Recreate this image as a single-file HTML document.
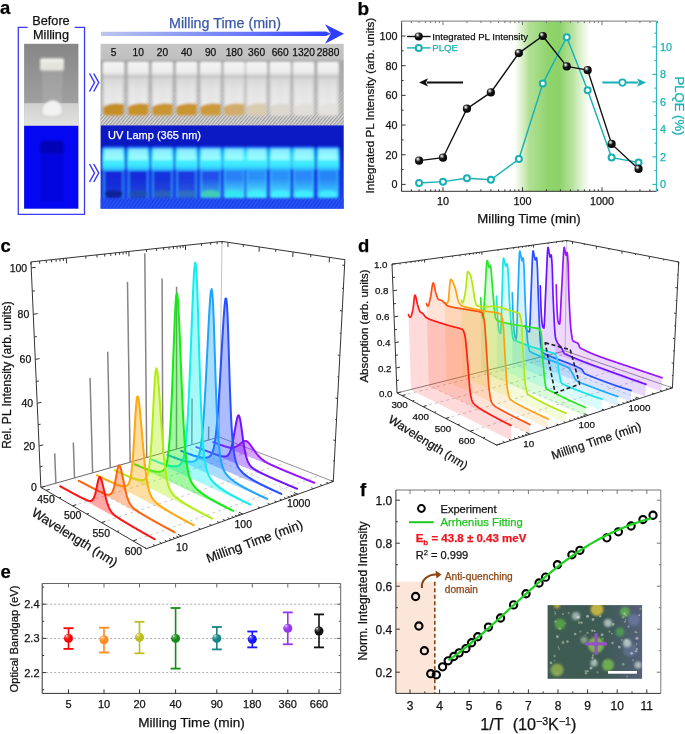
<!DOCTYPE html><html><head><meta charset="utf-8"><style>html,body{margin:0;padding:0;background:#fff;overflow:hidden;width:685px;height:734px;}svg{display:block;transform:translateZ(0);} text{stroke-width:0.25px;paint-order:stroke;}</style></head><body><svg width="685" height="734" viewBox="0 0 685 734" font-family='"Liberation Sans", sans-serif'><text x="0" y="14" font-size="18.5" text-anchor="start" fill="#000" stroke="#000" font-weight="bold">a</text>
<polyline points="27.7,27.3 18.3,27.3 18.3,214.4 84.5,214.4 84.5,27.3 74.7,27.3" fill="none" stroke="#3b3bf5" stroke-width="1.3"/>
<text x="51" y="24.87" font-size="12.7" text-anchor="middle" fill="#111" stroke="#111">Before</text>
<text x="51" y="39.17" font-size="12.7" text-anchor="middle" fill="#111" stroke="#111">Milling</text>
<polyline points="89.5,73.5 94.5,82.5 89.5,91.5" fill="none" stroke="#3b3bf5" stroke-width="1.5"/>
<polyline points="93.7,73.5 98.7,82.5 93.7,91.5" fill="none" stroke="#3b3bf5" stroke-width="1.5"/>
<polyline points="89.5,164 94.5,173 89.5,182" fill="none" stroke="#3b3bf5" stroke-width="1.5"/>
<polyline points="93.7,164 98.7,173 93.7,182" fill="none" stroke="#3b3bf5" stroke-width="1.5"/>
<defs>
<linearGradient id="bg1" x1="0" y1="0" x2="0" y2="1"><stop offset="0" stop-color="#878787"/><stop offset="1" stop-color="#a9a9a9"/></linearGradient>
<linearGradient id="tab1" x1="0" y1="0" x2="0" y2="1"><stop offset="0" stop-color="#d0d0ce"/><stop offset="1" stop-color="#e2e2e0"/></linearGradient>
<linearGradient id="arr" x1="0" y1="0" x2="1" y2="0"><stop offset="0" stop-color="#bcc6ee"/><stop offset="0.6" stop-color="#6c7cf6"/><stop offset="1" stop-color="#2f3dff"/></linearGradient>
<linearGradient id="topbg" x1="0" y1="0" x2="0" y2="1"><stop offset="0" stop-color="#c6c6c6"/><stop offset="0.18" stop-color="#c0c0c0"/><stop offset="0.22" stop-color="#a8a8a8"/><stop offset="0.8" stop-color="#b4b4b4"/><stop offset="1" stop-color="#b0b0b0"/></linearGradient>
<linearGradient id="cap" x1="0" y1="0" x2="0" y2="1"><stop offset="0" stop-color="#f6f6f6"/><stop offset="0.7" stop-color="#ececec"/><stop offset="1" stop-color="#c8c8c8"/></linearGradient>
<linearGradient id="glass" x1="0" y1="0" x2="1" y2="0"><stop offset="0" stop-color="#d4d4d4"/><stop offset="0.15" stop-color="#eeeeee"/><stop offset="0.5" stop-color="#e8e8e8"/><stop offset="0.85" stop-color="#eeeeee"/><stop offset="1" stop-color="#cccccc"/></linearGradient><linearGradient id="glassv" x1="0" y1="0" x2="0" y2="1"><stop offset="0" stop-color="#c8c8c8" stop-opacity="0.7"/><stop offset="0.35" stop-color="#d8d8d8" stop-opacity="0.3"/><stop offset="1" stop-color="#ffffff" stop-opacity="0"/></linearGradient>
<linearGradient id="uvbg" x1="0" y1="0" x2="0" y2="1"><stop offset="0" stop-color="#0c1cc4"/><stop offset="0.25" stop-color="#0a18c0"/><stop offset="0.5" stop-color="#1230e0"/><stop offset="1" stop-color="#1c40f0"/></linearGradient><linearGradient id="uvcap" x1="0" y1="0" x2="0" y2="1"><stop offset="0" stop-color="#2870ff"/><stop offset="0.18" stop-color="#30d8ff"/><stop offset="0.45" stop-color="#50f4ff"/><stop offset="0.8" stop-color="#38e4ff"/><stop offset="1" stop-color="#2aa0ff"/></linearGradient>
<pattern id="stripes" width="2.6" height="2.6" patternUnits="userSpaceOnUse" patternTransform="rotate(40)"><rect width="2.6" height="2.6" fill="#d8d8d8"/><rect width="1.1" height="2.6" fill="#9a9a9a"/></pattern>
<pattern id="stripesb" width="3" height="3" patternUnits="userSpaceOnUse" patternTransform="rotate(35)"><rect width="3" height="3" fill="#2a5cf8"/><rect width="1.3" height="3" fill="#1a3ce0"/></pattern>
<filter id="blur08"><feGaussianBlur stdDeviation="0.8"/></filter>
<filter id="blur2"><feGaussianBlur stdDeviation="2"/></filter><filter id="blur1b"><feGaussianBlur stdDeviation="1.2"/></filter>
</defs>
<rect x="24.1" y="43.8" width="54.3" height="82" fill="url(#bg1)"/>
<rect x="24.1" y="103.2" width="54.3" height="22.6" fill="url(#tab1)"/>
<g filter="url(#blur08)">
<path d="M43,71 L62,71 L62,80 Q60,90 61,100 Q63,108 63,113 Q63,117 59,117 L45,117 Q41,117 41,113 Q41,108 43,100 Q44,90 43,80 Z" fill="#b8b8b8" opacity="0.35" stroke="#d0d0d0" stroke-width="1" stroke-opacity="0.7"/>
<path d="M42.5,113 Q42,104 48,102 Q52,99 56,101 Q62,103 62,112 Q62,116 52,116 Q42.5,116 42.5,113 Z" fill="#f2f2f2"/>
<rect x="40" y="58.4" width="24" height="12.3" fill="#e4e4dc" rx="2"/>
<rect x="40" y="58.4" width="24" height="4" fill="#eeeeea" rx="2"/>
<rect x="42" y="70.5" width="20" height="1.5" fill="#a0a0a0" opacity="0.6"/>
</g>
<rect x="24.1" y="125.8" width="54.3" height="82.9" fill="#0408f2"/>
<g filter="url(#blur08)">
<rect x="40.2" y="140.8" width="23.5" height="60.5" fill="#0808c0" rx="3" opacity="0.4"/>
<rect x="40.2" y="140.8" width="23.5" height="12.7" fill="#06069a" rx="2" opacity="0.55"/>
</g>
<polygon points="101,31.7 326,31.6 330.8,33.8 326,36 101,36" fill="url(#arr)"/>
<polygon points="344,33.7 325,24.2 330.8,33.7 325,43.8" fill="#2f3dff"/>
<text x="225" y="28.35" font-size="14.3" text-anchor="middle" fill="#3a58a6" stroke="#3a58a6">Milling Time (min)</text>
<rect x="100.6" y="43.8" width="243.1" height="81.6" fill="url(#topbg)"/>
<rect x="100.6" y="92" width="243.1" height="33.4" fill="url(#stripes)" opacity="0.4"/>
<rect x="100.6" y="114" width="243.1" height="11.4" fill="url(#stripes)"/>
<g filter="url(#blur08)">
<rect x="102.9" y="76" width="21.4" height="39.5" fill="url(#glass)" rx="3" opacity="0.95"/>
<rect x="102.9" y="76" width="21.4" height="39.5" fill="url(#glassv)" rx="3"/>
<path d="M103.4,107 Q109.6,102 123.8,104 L123.8,112 Q123.8,115.5 120.6,115.5 L106.6,115.5 Q103.4,115.5 103.4,112 Z" fill="#c48e28"/>
<rect x="102.6" y="61.5" width="22" height="15.3" fill="url(#cap)" rx="2.2"/>
<rect x="102.6" y="61.5" width="22" height="15.3" fill="none" rx="2.2" stroke="#b0b0b0" stroke-width="0.6"/>
<rect x="127.5" y="76" width="21.4" height="39.5" fill="url(#glass)" rx="3" opacity="0.95"/>
<rect x="127.5" y="76" width="21.4" height="39.5" fill="url(#glassv)" rx="3"/>
<path d="M128,107 Q134.2,102 148.4,104 L148.4,112 Q148.4,115.5 145.2,115.5 L131.2,115.5 Q128,115.5 128,112 Z" fill="#c8922c"/>
<rect x="127.2" y="61.5" width="22" height="15.3" fill="url(#cap)" rx="2.2"/>
<rect x="127.2" y="61.5" width="22" height="15.3" fill="none" rx="2.2" stroke="#b0b0b0" stroke-width="0.6"/>
<rect x="151.7" y="76" width="21.4" height="39.5" fill="url(#glass)" rx="3" opacity="0.95"/>
<rect x="151.7" y="76" width="21.4" height="39.5" fill="url(#glassv)" rx="3"/>
<path d="M152.2,107 Q158.4,102 172.6,104 L172.6,112 Q172.6,115.5 169.4,115.5 L155.4,115.5 Q152.2,115.5 152.2,112 Z" fill="#c99530"/>
<rect x="151.4" y="61.5" width="22" height="15.3" fill="url(#cap)" rx="2.2"/>
<rect x="151.4" y="61.5" width="22" height="15.3" fill="none" rx="2.2" stroke="#b0b0b0" stroke-width="0.6"/>
<rect x="175.9" y="76" width="21.4" height="39.5" fill="url(#glass)" rx="3" opacity="0.95"/>
<rect x="175.9" y="76" width="21.4" height="39.5" fill="url(#glassv)" rx="3"/>
<path d="M176.4,107 Q182.6,102 196.8,104 L196.8,112 Q196.8,115.5 193.6,115.5 L179.6,115.5 Q176.4,115.5 176.4,112 Z" fill="#c9952f"/>
<rect x="175.6" y="61.5" width="22" height="15.3" fill="url(#cap)" rx="2.2"/>
<rect x="175.6" y="61.5" width="22" height="15.3" fill="none" rx="2.2" stroke="#b0b0b0" stroke-width="0.6"/>
<rect x="199.9" y="76" width="21.4" height="39.5" fill="url(#glass)" rx="3" opacity="0.95"/>
<rect x="199.9" y="76" width="21.4" height="39.5" fill="url(#glassv)" rx="3"/>
<path d="M200.4,107 Q206.6,102 220.8,104 L220.8,112 Q220.8,115.5 217.6,115.5 L203.6,115.5 Q200.4,115.5 200.4,112 Z" fill="#cc9a3a"/>
<rect x="199.6" y="61.5" width="22" height="15.3" fill="url(#cap)" rx="2.2"/>
<rect x="199.6" y="61.5" width="22" height="15.3" fill="none" rx="2.2" stroke="#b0b0b0" stroke-width="0.6"/>
<rect x="223.5" y="76" width="21.4" height="39.5" fill="url(#glass)" rx="3" opacity="0.95"/>
<rect x="223.5" y="76" width="21.4" height="39.5" fill="url(#glassv)" rx="3"/>
<path d="M224,107 Q230.2,102 244.4,104 L244.4,112 Q244.4,115.5 241.2,115.5 L227.2,115.5 Q224,115.5 224,112 Z" fill="#d2ad6a"/>
<rect x="223.2" y="61.5" width="22" height="15.3" fill="url(#cap)" rx="2.2"/>
<rect x="223.2" y="61.5" width="22" height="15.3" fill="none" rx="2.2" stroke="#b0b0b0" stroke-width="0.6"/>
<rect x="245.9" y="76" width="21.4" height="39.5" fill="url(#glass)" rx="3" opacity="0.95"/>
<rect x="245.9" y="76" width="21.4" height="39.5" fill="url(#glassv)" rx="3"/>
<path d="M246.4,107 Q252.6,102 266.8,104 L266.8,112 Q266.8,115.5 263.6,115.5 L249.6,115.5 Q246.4,115.5 246.4,112 Z" fill="#d9cbb0"/>
<rect x="245.6" y="61.5" width="22" height="15.3" fill="url(#cap)" rx="2.2"/>
<rect x="245.6" y="61.5" width="22" height="15.3" fill="none" rx="2.2" stroke="#b0b0b0" stroke-width="0.6"/>
<rect x="269.5" y="76" width="21.4" height="39.5" fill="url(#glass)" rx="3" opacity="0.95"/>
<rect x="269.5" y="76" width="21.4" height="39.5" fill="url(#glassv)" rx="3"/>
<path d="M270,107 Q276.2,102 290.4,104 L290.4,112 Q290.4,115.5 287.2,115.5 L273.2,115.5 Q270,115.5 270,112 Z" fill="#dcd8d0"/>
<rect x="269.2" y="61.5" width="22" height="15.3" fill="url(#cap)" rx="2.2"/>
<rect x="269.2" y="61.5" width="22" height="15.3" fill="none" rx="2.2" stroke="#b0b0b0" stroke-width="0.6"/>
<rect x="292.9" y="76" width="21.4" height="39.5" fill="url(#glass)" rx="3" opacity="0.95"/>
<rect x="292.9" y="76" width="21.4" height="39.5" fill="url(#glassv)" rx="3"/>
<path d="M293.4,107 Q299.6,102 313.8,104 L313.8,112 Q313.8,115.5 310.6,115.5 L296.6,115.5 Q293.4,115.5 293.4,112 Z" fill="#e0ded8"/>
<rect x="292.6" y="61.5" width="22" height="15.3" fill="url(#cap)" rx="2.2"/>
<rect x="292.6" y="61.5" width="22" height="15.3" fill="none" rx="2.2" stroke="#b0b0b0" stroke-width="0.6"/>
<rect x="317.3" y="76" width="21.4" height="39.5" fill="url(#glass)" rx="3" opacity="0.95"/>
<rect x="317.3" y="76" width="21.4" height="39.5" fill="url(#glassv)" rx="3"/>
<path d="M317.8,107 Q324,102 338.2,104 L338.2,112 Q338.2,115.5 335,115.5 L321,115.5 Q317.8,115.5 317.8,112 Z" fill="#e4e2dc"/>
<rect x="317" y="61.5" width="22" height="15.3" fill="url(#cap)" rx="2.2"/>
<rect x="317" y="61.5" width="22" height="15.3" fill="none" rx="2.2" stroke="#b0b0b0" stroke-width="0.6"/>
</g>
<text x="113.6" y="55.67" font-size="10.2" text-anchor="middle" fill="#111" stroke="#111">5</text>
<text x="138.2" y="55.67" font-size="10.2" text-anchor="middle" fill="#111" stroke="#111">10</text>
<text x="162.4" y="55.67" font-size="10.2" text-anchor="middle" fill="#111" stroke="#111">20</text>
<text x="186.6" y="55.67" font-size="10.2" text-anchor="middle" fill="#111" stroke="#111">40</text>
<text x="210.6" y="55.67" font-size="10.2" text-anchor="middle" fill="#111" stroke="#111">90</text>
<text x="234.2" y="55.67" font-size="10.2" text-anchor="middle" fill="#111" stroke="#111">180</text>
<text x="256.6" y="55.67" font-size="10.2" text-anchor="middle" fill="#111" stroke="#111">360</text>
<text x="280.2" y="55.67" font-size="10.2" text-anchor="middle" fill="#111" stroke="#111">660</text>
<text x="303.6" y="55.67" font-size="10.2" text-anchor="middle" fill="#111" stroke="#111">1320</text>
<text x="328" y="55.67" font-size="10.2" text-anchor="middle" fill="#111" stroke="#111">2880</text>
<rect x="100.6" y="125.4" width="243.1" height="83.3" fill="url(#uvbg)"/>
<rect x="100.6" y="198" width="243.1" height="10.7" fill="url(#stripesb)" opacity="0.75"/>
<g filter="url(#blur1b)">
<rect x="103.1" y="168" width="21" height="30" fill="url(#uvbody0)" rx="2"/>
<defs><linearGradient id="uvbody0" x1="0" y1="0" x2="0" y2="1"><stop offset="0" stop-color="#1428d8"/><stop offset="0.35" stop-color="#1428d8"/><stop offset="1" stop-color="#1a3ad8"/></linearGradient></defs>
<rect x="103.1" y="168" width="1.8" height="30" fill="#38c8ff" opacity="0.6"/>
<rect x="122.3" y="168" width="1.8" height="30" fill="#38c8ff" opacity="0.6"/>
<ellipse cx="113.6" cy="194" rx="9.5" ry="3.8" fill="#102090" opacity="0.9"/>
<rect x="102.1" y="146.5" width="23" height="24.5" fill="url(#uvcap)" rx="2"/>
<rect x="104.6" y="149" width="18" height="11" fill="#c8ffff" opacity="0.6"/>
<rect x="127.7" y="168" width="21" height="30" fill="url(#uvbody1)" rx="2"/>
<defs><linearGradient id="uvbody1" x1="0" y1="0" x2="0" y2="1"><stop offset="0" stop-color="#162cdc"/><stop offset="0.35" stop-color="#162cdc"/><stop offset="1" stop-color="#2048d8"/></linearGradient></defs>
<rect x="127.7" y="168" width="1.8" height="30" fill="#38c8ff" opacity="0.6"/>
<rect x="146.9" y="168" width="1.8" height="30" fill="#38c8ff" opacity="0.6"/>
<ellipse cx="138.2" cy="194" rx="9.5" ry="3.8" fill="#2050b0" opacity="0.9"/>
<rect x="126.7" y="146.5" width="23" height="24.5" fill="url(#uvcap)" rx="2"/>
<rect x="129.2" y="149" width="18" height="11" fill="#c8ffff" opacity="0.6"/>
<rect x="151.9" y="168" width="21" height="30" fill="url(#uvbody2)" rx="2"/>
<defs><linearGradient id="uvbody2" x1="0" y1="0" x2="0" y2="1"><stop offset="0" stop-color="#1830dc"/><stop offset="0.35" stop-color="#1830dc"/><stop offset="1" stop-color="#2450d8"/></linearGradient></defs>
<rect x="151.9" y="168" width="1.8" height="30" fill="#38c8ff" opacity="0.6"/>
<rect x="171.1" y="168" width="1.8" height="30" fill="#38c8ff" opacity="0.6"/>
<ellipse cx="162.4" cy="194" rx="9.5" ry="3.8" fill="#2a60b8" opacity="0.9"/>
<rect x="150.9" y="146.5" width="23" height="24.5" fill="url(#uvcap)" rx="2"/>
<rect x="153.4" y="149" width="18" height="11" fill="#c8ffff" opacity="0.6"/>
<rect x="176.1" y="168" width="21" height="30" fill="url(#uvbody3)" rx="2"/>
<defs><linearGradient id="uvbody3" x1="0" y1="0" x2="0" y2="1"><stop offset="0" stop-color="#1c38e0"/><stop offset="0.35" stop-color="#1c38e0"/><stop offset="1" stop-color="#2a60e0"/></linearGradient></defs>
<rect x="176.1" y="168" width="1.8" height="30" fill="#38c8ff" opacity="0.6"/>
<rect x="195.3" y="168" width="1.8" height="30" fill="#38c8ff" opacity="0.6"/>
<ellipse cx="186.6" cy="194" rx="9.5" ry="3.8" fill="#3070c0" opacity="0.9"/>
<rect x="175.1" y="146.5" width="23" height="24.5" fill="url(#uvcap)" rx="2"/>
<rect x="177.6" y="149" width="18" height="11" fill="#c8ffff" opacity="0.6"/>
<rect x="200.1" y="168" width="21" height="30" fill="url(#uvbody4)" rx="2"/>
<defs><linearGradient id="uvbody4" x1="0" y1="0" x2="0" y2="1"><stop offset="0" stop-color="#2250ea"/><stop offset="0.35" stop-color="#2250ea"/><stop offset="1" stop-color="#40c0e8"/></linearGradient></defs>
<rect x="200.1" y="168" width="1.8" height="30" fill="#38c8ff" opacity="0.6"/>
<rect x="219.3" y="168" width="1.8" height="30" fill="#38c8ff" opacity="0.6"/>
<ellipse cx="210.6" cy="194" rx="9.5" ry="3.8" fill="#40d0b0" opacity="0.9"/>
<rect x="199.1" y="146.5" width="23" height="24.5" fill="url(#uvcap)" rx="2"/>
<rect x="201.6" y="149" width="18" height="11" fill="#c8ffff" opacity="0.6"/>
<rect x="223.7" y="168" width="21" height="30" fill="url(#uvbody5)" rx="2"/>
<defs><linearGradient id="uvbody5" x1="0" y1="0" x2="0" y2="1"><stop offset="0" stop-color="#2a80f6"/><stop offset="0.35" stop-color="#2a80f6"/><stop offset="1" stop-color="#50f4ff"/></linearGradient></defs>
<rect x="223.7" y="168" width="1.8" height="30" fill="#38c8ff" opacity="0.6"/>
<rect x="242.9" y="168" width="1.8" height="30" fill="#38c8ff" opacity="0.6"/>
<ellipse cx="234.2" cy="194" rx="9.5" ry="3.8" fill="#30e8f0" opacity="0.9"/>
<rect x="222.7" y="146.5" width="23" height="24.5" fill="url(#uvcap)" rx="2"/>
<rect x="225.2" y="149" width="18" height="11" fill="#c8ffff" opacity="0.6"/>
<rect x="246.1" y="168" width="21" height="30" fill="url(#uvbody6)" rx="2"/>
<defs><linearGradient id="uvbody6" x1="0" y1="0" x2="0" y2="1"><stop offset="0" stop-color="#2c90f8"/><stop offset="0.35" stop-color="#2c90f8"/><stop offset="1" stop-color="#58f8ff"/></linearGradient></defs>
<rect x="246.1" y="168" width="1.8" height="30" fill="#38c8ff" opacity="0.6"/>
<rect x="265.3" y="168" width="1.8" height="30" fill="#38c8ff" opacity="0.6"/>
<ellipse cx="256.6" cy="194" rx="9.5" ry="3.8" fill="#40f0ff" opacity="0.9"/>
<rect x="245.1" y="146.5" width="23" height="24.5" fill="url(#uvcap)" rx="2"/>
<rect x="247.6" y="149" width="18" height="11" fill="#c8ffff" opacity="0.6"/>
<rect x="269.7" y="168" width="21" height="30" fill="url(#uvbody7)" rx="2"/>
<defs><linearGradient id="uvbody7" x1="0" y1="0" x2="0" y2="1"><stop offset="0" stop-color="#2c90f8"/><stop offset="0.35" stop-color="#2c90f8"/><stop offset="1" stop-color="#50f0ff"/></linearGradient></defs>
<rect x="269.7" y="168" width="1.8" height="30" fill="#38c8ff" opacity="0.6"/>
<rect x="288.9" y="168" width="1.8" height="30" fill="#38c8ff" opacity="0.6"/>
<ellipse cx="280.2" cy="194" rx="9.5" ry="3.8" fill="#40f0ff" opacity="0.9"/>
<rect x="268.7" y="146.5" width="23" height="24.5" fill="url(#uvcap)" rx="2"/>
<rect x="271.2" y="149" width="18" height="11" fill="#c8ffff" opacity="0.6"/>
<rect x="293.1" y="168" width="21" height="30" fill="url(#uvbody8)" rx="2"/>
<defs><linearGradient id="uvbody8" x1="0" y1="0" x2="0" y2="1"><stop offset="0" stop-color="#2a88f8"/><stop offset="0.35" stop-color="#2a88f8"/><stop offset="1" stop-color="#48e8ff"/></linearGradient></defs>
<rect x="293.1" y="168" width="1.8" height="30" fill="#38c8ff" opacity="0.6"/>
<rect x="312.3" y="168" width="1.8" height="30" fill="#38c8ff" opacity="0.6"/>
<ellipse cx="303.6" cy="194" rx="9.5" ry="3.8" fill="#40f0ff" opacity="0.9"/>
<rect x="292.1" y="146.5" width="23" height="24.5" fill="url(#uvcap)" rx="2"/>
<rect x="294.6" y="149" width="18" height="11" fill="#c8ffff" opacity="0.6"/>
<rect x="317.5" y="168" width="21" height="30" fill="url(#uvbody9)" rx="2"/>
<defs><linearGradient id="uvbody9" x1="0" y1="0" x2="0" y2="1"><stop offset="0" stop-color="#2884f6"/><stop offset="0.35" stop-color="#2884f6"/><stop offset="1" stop-color="#40e0ff"/></linearGradient></defs>
<rect x="317.5" y="168" width="1.8" height="30" fill="#38c8ff" opacity="0.6"/>
<rect x="336.7" y="168" width="1.8" height="30" fill="#38c8ff" opacity="0.6"/>
<ellipse cx="328" cy="194" rx="9.5" ry="3.8" fill="#40ecff" opacity="0.9"/>
<rect x="316.5" y="146.5" width="23" height="24.5" fill="url(#uvcap)" rx="2"/>
<rect x="319" y="149" width="18" height="11" fill="#c8ffff" opacity="0.6"/>
</g>
<text x="154.5" y="139.26" font-size="11" text-anchor="middle" fill="#ffffff" stroke="#ffffff">UV Lamp (365 nm)</text>
<text x="357.5" y="15" font-size="19" text-anchor="start" fill="#000" stroke="#000" font-weight="bold">b</text>
<defs><linearGradient id="gband" x1="0" x2="1" y1="0" y2="0"><stop offset="0" stop-color="#b0e090" stop-opacity="0"/><stop offset="0.1" stop-color="#b0e090" stop-opacity="0.45"/><stop offset="0.2" stop-color="#a2da82" stop-opacity="0.85"/><stop offset="0.45" stop-color="#90d46c" stop-opacity="1"/><stop offset="0.6" stop-color="#8cd268" stop-opacity="1"/><stop offset="0.78" stop-color="#a8dc8a" stop-opacity="0.8"/><stop offset="0.9" stop-color="#c0e6a8" stop-opacity="0.45"/><stop offset="1" stop-color="#c8eab0" stop-opacity="0"/></linearGradient><radialGradient id="ball" cx="0.38" cy="0.35" r="0.65" fx="0.35" fy="0.3"><stop offset="0" stop-color="#ffffff"/><stop offset="0.18" stop-color="#b0b0b0"/><stop offset="0.45" stop-color="#1a1a1a"/><stop offset="1" stop-color="#000"/></radialGradient></defs>
<rect x="514" y="21.1" width="76" height="170.2" fill="url(#gband)"/>
<line x1="401.6" y1="21.1" x2="656.4" y2="21.1" stroke="#777" stroke-width="1"/>
<line x1="401.6" y1="191.3" x2="656.4" y2="191.3" stroke="#333" stroke-width="1"/>
<line x1="401.6" y1="21.1" x2="401.6" y2="191.3" stroke="#333" stroke-width="1"/>
<line x1="656.4" y1="21.1" x2="656.4" y2="191.3" stroke="#18b0b4" stroke-width="1"/>
<line x1="401.6" y1="184.4" x2="405.6" y2="184.4" stroke="#333" stroke-width="1"/>
<text x="397.5" y="188.29" font-size="10.8" text-anchor="end" fill="#111" stroke="#111">0</text>
<line x1="401.6" y1="169.56" x2="403.6" y2="169.56" stroke="#333" stroke-width="1"/>
<line x1="401.6" y1="154.72" x2="405.6" y2="154.72" stroke="#333" stroke-width="1"/>
<text x="397.5" y="158.61" font-size="10.8" text-anchor="end" fill="#111" stroke="#111">20</text>
<line x1="401.6" y1="139.88" x2="403.6" y2="139.88" stroke="#333" stroke-width="1"/>
<line x1="401.6" y1="125.04" x2="405.6" y2="125.04" stroke="#333" stroke-width="1"/>
<text x="397.5" y="128.93" font-size="10.8" text-anchor="end" fill="#111" stroke="#111">40</text>
<line x1="401.6" y1="110.2" x2="403.6" y2="110.2" stroke="#333" stroke-width="1"/>
<line x1="401.6" y1="95.36" x2="405.6" y2="95.36" stroke="#333" stroke-width="1"/>
<text x="397.5" y="99.25" font-size="10.8" text-anchor="end" fill="#111" stroke="#111">60</text>
<line x1="401.6" y1="80.52" x2="403.6" y2="80.52" stroke="#333" stroke-width="1"/>
<line x1="401.6" y1="65.68" x2="405.6" y2="65.68" stroke="#333" stroke-width="1"/>
<text x="397.5" y="69.57" font-size="10.8" text-anchor="end" fill="#111" stroke="#111">80</text>
<line x1="401.6" y1="50.84" x2="403.6" y2="50.84" stroke="#333" stroke-width="1"/>
<line x1="401.6" y1="36" x2="405.6" y2="36" stroke="#333" stroke-width="1"/>
<text x="397.5" y="39.89" font-size="10.8" text-anchor="end" fill="#111" stroke="#111">100</text>
<line x1="652.4" y1="184.4" x2="656.4" y2="184.4" stroke="#18b0b4" stroke-width="1"/>
<text x="660" y="188.29" font-size="10.8" text-anchor="start" fill="#18b0b4" stroke="#18b0b4">0</text>
<line x1="654.4" y1="170.65" x2="656.4" y2="170.65" stroke="#18b0b4" stroke-width="1"/>
<line x1="652.4" y1="156.9" x2="656.4" y2="156.9" stroke="#18b0b4" stroke-width="1"/>
<text x="660" y="160.79" font-size="10.8" text-anchor="start" fill="#18b0b4" stroke="#18b0b4">2</text>
<line x1="654.4" y1="143.15" x2="656.4" y2="143.15" stroke="#18b0b4" stroke-width="1"/>
<line x1="652.4" y1="129.4" x2="656.4" y2="129.4" stroke="#18b0b4" stroke-width="1"/>
<text x="660" y="133.29" font-size="10.8" text-anchor="start" fill="#18b0b4" stroke="#18b0b4">4</text>
<line x1="654.4" y1="115.65" x2="656.4" y2="115.65" stroke="#18b0b4" stroke-width="1"/>
<line x1="652.4" y1="101.9" x2="656.4" y2="101.9" stroke="#18b0b4" stroke-width="1"/>
<text x="660" y="105.79" font-size="10.8" text-anchor="start" fill="#18b0b4" stroke="#18b0b4">6</text>
<line x1="654.4" y1="88.15" x2="656.4" y2="88.15" stroke="#18b0b4" stroke-width="1"/>
<line x1="652.4" y1="74.4" x2="656.4" y2="74.4" stroke="#18b0b4" stroke-width="1"/>
<text x="660" y="78.29" font-size="10.8" text-anchor="start" fill="#18b0b4" stroke="#18b0b4">8</text>
<line x1="654.4" y1="60.65" x2="656.4" y2="60.65" stroke="#18b0b4" stroke-width="1"/>
<line x1="652.4" y1="46.9" x2="656.4" y2="46.9" stroke="#18b0b4" stroke-width="1"/>
<text x="660" y="50.79" font-size="10.8" text-anchor="start" fill="#18b0b4" stroke="#18b0b4">10</text>
<line x1="654.4" y1="33.15" x2="656.4" y2="33.15" stroke="#18b0b4" stroke-width="1"/>
<line x1="401.43" y1="191.3" x2="401.43" y2="189.3" stroke="#333" stroke-width="1"/>
<line x1="401.43" y1="21.1" x2="401.43" y2="23.1" stroke="#777" stroke-width="1"/>
<line x1="411.36" y1="191.3" x2="411.36" y2="189.3" stroke="#333" stroke-width="1"/>
<line x1="411.36" y1="21.1" x2="411.36" y2="23.1" stroke="#777" stroke-width="1"/>
<line x1="419.07" y1="191.3" x2="419.07" y2="189.3" stroke="#333" stroke-width="1"/>
<line x1="419.07" y1="21.1" x2="419.07" y2="23.1" stroke="#777" stroke-width="1"/>
<line x1="425.36" y1="191.3" x2="425.36" y2="189.3" stroke="#333" stroke-width="1"/>
<line x1="425.36" y1="21.1" x2="425.36" y2="23.1" stroke="#777" stroke-width="1"/>
<line x1="430.69" y1="191.3" x2="430.69" y2="189.3" stroke="#333" stroke-width="1"/>
<line x1="430.69" y1="21.1" x2="430.69" y2="23.1" stroke="#777" stroke-width="1"/>
<line x1="435.3" y1="191.3" x2="435.3" y2="189.3" stroke="#333" stroke-width="1"/>
<line x1="435.3" y1="21.1" x2="435.3" y2="23.1" stroke="#777" stroke-width="1"/>
<line x1="439.36" y1="191.3" x2="439.36" y2="189.3" stroke="#333" stroke-width="1"/>
<line x1="439.36" y1="21.1" x2="439.36" y2="23.1" stroke="#777" stroke-width="1"/>
<line x1="443" y1="191.3" x2="443" y2="187.3" stroke="#333" stroke-width="1"/>
<line x1="443" y1="21.1" x2="443" y2="25.1" stroke="#777" stroke-width="1"/>
<text x="443" y="205.39" font-size="10.8" text-anchor="middle" fill="#111" stroke="#111">10</text>
<line x1="466.93" y1="191.3" x2="466.93" y2="189.3" stroke="#333" stroke-width="1"/>
<line x1="466.93" y1="21.1" x2="466.93" y2="23.1" stroke="#777" stroke-width="1"/>
<line x1="480.93" y1="191.3" x2="480.93" y2="189.3" stroke="#333" stroke-width="1"/>
<line x1="480.93" y1="21.1" x2="480.93" y2="23.1" stroke="#777" stroke-width="1"/>
<line x1="490.86" y1="191.3" x2="490.86" y2="189.3" stroke="#333" stroke-width="1"/>
<line x1="490.86" y1="21.1" x2="490.86" y2="23.1" stroke="#777" stroke-width="1"/>
<line x1="498.57" y1="191.3" x2="498.57" y2="189.3" stroke="#333" stroke-width="1"/>
<line x1="498.57" y1="21.1" x2="498.57" y2="23.1" stroke="#777" stroke-width="1"/>
<line x1="504.86" y1="191.3" x2="504.86" y2="189.3" stroke="#333" stroke-width="1"/>
<line x1="504.86" y1="21.1" x2="504.86" y2="23.1" stroke="#777" stroke-width="1"/>
<line x1="510.19" y1="191.3" x2="510.19" y2="189.3" stroke="#333" stroke-width="1"/>
<line x1="510.19" y1="21.1" x2="510.19" y2="23.1" stroke="#777" stroke-width="1"/>
<line x1="514.8" y1="191.3" x2="514.8" y2="189.3" stroke="#333" stroke-width="1"/>
<line x1="514.8" y1="21.1" x2="514.8" y2="23.1" stroke="#777" stroke-width="1"/>
<line x1="518.86" y1="191.3" x2="518.86" y2="189.3" stroke="#333" stroke-width="1"/>
<line x1="518.86" y1="21.1" x2="518.86" y2="23.1" stroke="#777" stroke-width="1"/>
<line x1="522.5" y1="191.3" x2="522.5" y2="187.3" stroke="#333" stroke-width="1"/>
<line x1="522.5" y1="21.1" x2="522.5" y2="25.1" stroke="#777" stroke-width="1"/>
<text x="522.5" y="205.39" font-size="10.8" text-anchor="middle" fill="#111" stroke="#111">100</text>
<line x1="546.43" y1="191.3" x2="546.43" y2="189.3" stroke="#333" stroke-width="1"/>
<line x1="546.43" y1="21.1" x2="546.43" y2="23.1" stroke="#777" stroke-width="1"/>
<line x1="560.43" y1="191.3" x2="560.43" y2="189.3" stroke="#333" stroke-width="1"/>
<line x1="560.43" y1="21.1" x2="560.43" y2="23.1" stroke="#777" stroke-width="1"/>
<line x1="570.36" y1="191.3" x2="570.36" y2="189.3" stroke="#333" stroke-width="1"/>
<line x1="570.36" y1="21.1" x2="570.36" y2="23.1" stroke="#777" stroke-width="1"/>
<line x1="578.07" y1="191.3" x2="578.07" y2="189.3" stroke="#333" stroke-width="1"/>
<line x1="578.07" y1="21.1" x2="578.07" y2="23.1" stroke="#777" stroke-width="1"/>
<line x1="584.36" y1="191.3" x2="584.36" y2="189.3" stroke="#333" stroke-width="1"/>
<line x1="584.36" y1="21.1" x2="584.36" y2="23.1" stroke="#777" stroke-width="1"/>
<line x1="589.69" y1="191.3" x2="589.69" y2="189.3" stroke="#333" stroke-width="1"/>
<line x1="589.69" y1="21.1" x2="589.69" y2="23.1" stroke="#777" stroke-width="1"/>
<line x1="594.3" y1="191.3" x2="594.3" y2="189.3" stroke="#333" stroke-width="1"/>
<line x1="594.3" y1="21.1" x2="594.3" y2="23.1" stroke="#777" stroke-width="1"/>
<line x1="598.36" y1="191.3" x2="598.36" y2="189.3" stroke="#333" stroke-width="1"/>
<line x1="598.36" y1="21.1" x2="598.36" y2="23.1" stroke="#777" stroke-width="1"/>
<line x1="602" y1="191.3" x2="602" y2="187.3" stroke="#333" stroke-width="1"/>
<line x1="602" y1="21.1" x2="602" y2="25.1" stroke="#777" stroke-width="1"/>
<text x="602" y="205.39" font-size="10.8" text-anchor="middle" fill="#111" stroke="#111">1000</text>
<line x1="625.93" y1="191.3" x2="625.93" y2="189.3" stroke="#333" stroke-width="1"/>
<line x1="625.93" y1="21.1" x2="625.93" y2="23.1" stroke="#777" stroke-width="1"/>
<line x1="639.93" y1="191.3" x2="639.93" y2="189.3" stroke="#333" stroke-width="1"/>
<line x1="639.93" y1="21.1" x2="639.93" y2="23.1" stroke="#777" stroke-width="1"/>
<line x1="649.86" y1="191.3" x2="649.86" y2="189.3" stroke="#333" stroke-width="1"/>
<line x1="649.86" y1="21.1" x2="649.86" y2="23.1" stroke="#777" stroke-width="1"/>
<line x1="657.57" y1="191.3" x2="657.57" y2="189.3" stroke="#333" stroke-width="1"/>
<line x1="657.57" y1="21.1" x2="657.57" y2="23.1" stroke="#777" stroke-width="1"/>
<text x="529" y="223.15" font-size="13.2" text-anchor="middle" fill="#111" stroke="#111">Milling Time (min)</text>
<text x="374" y="105.6" font-size="11.7" text-anchor="middle" fill="#111" stroke="#111" transform="rotate(-90 374 105.6)">Integrated PL Intensity (arb. units)</text>
<text x="675" y="106" font-size="13.1" text-anchor="middle" fill="#18b0b4" stroke="#18b0b4" transform="rotate(90 675 106)">PLQE (%)</text>
<polyline points="419.07,183.03 443,181.65 466.93,178.21 490.86,179.72 518.86,158.96 542.79,83.61 566.73,37.28 587.65,90.21 611.59,157.59 638.52,162.4" fill="none" stroke="#18b0b4" stroke-width="1.4"/>
<polyline points="419.07,160.66 443,157.69 466.93,108.72 490.86,92.39 518.86,53.07 542.79,36 566.73,66.42 587.65,70.13 611.59,143.89 638.52,168.97" fill="none" stroke="#111" stroke-width="1.4"/>
<circle cx="419.07" cy="183.03" r="3" fill="#fff" stroke="#18b0b4" stroke-width="2"/>
<circle cx="443" cy="181.65" r="3" fill="#fff" stroke="#18b0b4" stroke-width="2"/>
<circle cx="466.93" cy="178.21" r="3" fill="#fff" stroke="#18b0b4" stroke-width="2"/>
<circle cx="490.86" cy="179.72" r="3" fill="#fff" stroke="#18b0b4" stroke-width="2"/>
<circle cx="518.86" cy="158.96" r="3" fill="#fff" stroke="#18b0b4" stroke-width="2"/>
<circle cx="542.79" cy="83.61" r="3" fill="#fff" stroke="#18b0b4" stroke-width="2"/>
<circle cx="566.73" cy="37.28" r="3" fill="#fff" stroke="#18b0b4" stroke-width="2"/>
<circle cx="587.65" cy="90.21" r="3" fill="#fff" stroke="#18b0b4" stroke-width="2"/>
<circle cx="611.59" cy="157.59" r="3" fill="#fff" stroke="#18b0b4" stroke-width="2"/>
<circle cx="638.52" cy="162.4" r="3" fill="#fff" stroke="#18b0b4" stroke-width="2"/>
<circle cx="419.07" cy="160.66" r="4.1" fill="url(#ball)" stroke="none" stroke-width="1"/>
<circle cx="443" cy="157.69" r="4.1" fill="url(#ball)" stroke="none" stroke-width="1"/>
<circle cx="466.93" cy="108.72" r="4.1" fill="url(#ball)" stroke="none" stroke-width="1"/>
<circle cx="490.86" cy="92.39" r="4.1" fill="url(#ball)" stroke="none" stroke-width="1"/>
<circle cx="518.86" cy="53.07" r="4.1" fill="url(#ball)" stroke="none" stroke-width="1"/>
<circle cx="542.79" cy="36" r="4.1" fill="url(#ball)" stroke="none" stroke-width="1"/>
<circle cx="566.73" cy="66.42" r="4.1" fill="url(#ball)" stroke="none" stroke-width="1"/>
<circle cx="587.65" cy="70.13" r="4.1" fill="url(#ball)" stroke="none" stroke-width="1"/>
<circle cx="611.59" cy="143.89" r="4.1" fill="url(#ball)" stroke="none" stroke-width="1"/>
<circle cx="638.52" cy="168.97" r="4.1" fill="url(#ball)" stroke="none" stroke-width="1"/>
<line x1="407" y1="36.5" x2="430.6" y2="36.5" stroke="#111" stroke-width="1.4"/>
<circle cx="418.7" cy="36.5" r="4.1" fill="url(#ball)" stroke="none" stroke-width="1"/>
<text x="432.3" y="39.96" font-size="9.6" text-anchor="start" fill="#111" stroke="#111">Integrated PL Intensity</text>
<line x1="407" y1="47.9" x2="430.6" y2="47.9" stroke="#18b0b4" stroke-width="1.4"/>
<circle cx="418.7" cy="47.9" r="3" fill="#fff" stroke="#18b0b4" stroke-width="2"/>
<text x="432.3" y="51.36" font-size="9.6" text-anchor="start" fill="#18b0b4" stroke="#18b0b4">PLQE</text>
<line x1="427" y1="82.4" x2="463" y2="82.4" stroke="#111" stroke-width="2"/>
<polygon points="419,82.4 428,78.2 426,82.4 428,86.6" fill="#111"/>
<line x1="602.3" y1="82.6" x2="638" y2="82.6" stroke="#18b0b4" stroke-width="2"/>
<polygon points="646,82.6 637,78.4 639,82.6 637,86.8" fill="#18b0b4"/>
<circle cx="622.4" cy="82.6" r="3.2" fill="#fff" stroke="#18b0b4" stroke-width="1.8"/>
<text x="0.5" y="252" font-size="18.5" text-anchor="start" fill="#000" stroke="#000" font-weight="bold">c</text>
<line x1="40.9" y1="487.44" x2="219.2" y2="437" stroke="#666" stroke-width="1"/>
<line x1="219.2" y1="437" x2="333.28" y2="481.52" stroke="#777" stroke-width="0.8"/>
<line x1="222.04" y1="241.43" x2="219.2" y2="437" stroke="#999" stroke-width="0.6"/>
<line x1="72.58" y1="505.82" x2="253.96" y2="450.56" stroke="#bbb" stroke-width="0.8" stroke-dasharray="3,3"/>
<line x1="101.51" y1="522.61" x2="285.3" y2="462.79" stroke="#bbb" stroke-width="0.8" stroke-dasharray="3,3"/>
<line x1="133.08" y1="540.93" x2="319.04" y2="475.97" stroke="#bbb" stroke-width="0.8" stroke-dasharray="3,3"/>
<line x1="73.63" y1="478.18" x2="181.45" y2="536.17" stroke="#ccc" stroke-width="0.8" stroke-dasharray="3,3"/>
<line x1="131.8" y1="461.72" x2="242.81" y2="514.09" stroke="#ccc" stroke-width="0.8" stroke-dasharray="3,3"/>
<line x1="184.84" y1="446.72" x2="297.94" y2="494.24" stroke="#ccc" stroke-width="0.8" stroke-dasharray="3,3"/>
<line x1="55.89" y1="483.45" x2="54.71" y2="453.35" stroke="#858585" stroke-width="1.5"/>
<line x1="74.53" y1="478.18" x2="73.35" y2="442.54" stroke="#858585" stroke-width="1.5"/>
<line x1="92.63" y1="473.06" x2="90.04" y2="377.88" stroke="#858585" stroke-width="1.5"/>
<line x1="110.21" y1="468.09" x2="107.72" y2="351.8" stroke="#858585" stroke-width="1.5"/>
<line x1="130.16" y1="462.44" x2="127.49" y2="281.76" stroke="#858585" stroke-width="1.5"/>
<line x1="146.7" y1="457.76" x2="144.79" y2="253.28" stroke="#858585" stroke-width="1.5"/>
<line x1="162.8" y1="453.21" x2="162.08" y2="278.45" stroke="#858585" stroke-width="1.5"/>
<line x1="176.52" y1="449.33" x2="176.58" y2="286.84" stroke="#858585" stroke-width="1.5"/>
<line x1="191.81" y1="445" x2="192.06" y2="398.43" stroke="#858585" stroke-width="1.5"/>
<line x1="208.56" y1="440.26" x2="208.71" y2="426.44" stroke="#858585" stroke-width="1.5"/>
<polygon points="213.23,442.17 213.88,442.42 214.53,442.66 215.18,442.91 215.82,443.15 216.48,443.4 217.13,443.64 217.78,443.88 218.43,444.12 219.09,444.36 219.75,444.6 220.4,444.84 221.06,445.07 221.72,445.3 222.38,445.53 223.04,445.76 223.71,445.98 224.37,446.2 225.04,446.41 225.7,446.61 226.37,446.8 227.04,446.98 227.71,447.15 228.38,447.3 229.06,447.43 229.73,447.53 230.41,447.61 231.09,447.65 231.77,447.66 232.45,447.63 233.14,447.55 233.82,447.42 234.51,447.23 235.2,447 235.9,446.7 236.6,446.35 237.3,445.94 238,445.48 238.7,444.98 239.41,444.44 240.12,443.87 240.83,443.3 241.54,442.74 242.25,442.2 242.96,441.73 243.68,441.35 244.39,441.08 245.1,440.96 245.8,441.02 246.51,441.26 247.21,441.65 247.91,442.17 248.6,442.82 249.3,443.58 249.99,444.43 250.69,445.34 251.38,446.31 252.07,447.31 252.77,448.32 253.46,449.34 254.16,450.35 254.86,451.34 255.55,452.3 256.25,453.23 256.96,454.12 257.66,454.98 258.37,455.79 259.08,456.56 259.79,457.29 260.5,457.98 261.21,458.62 261.93,459.23 262.65,459.8 263.37,460.35 264.1,460.86 264.82,461.34 265.55,461.8 266.28,462.24 267.01,462.66 267.74,463.07 268.48,463.46 269.21,463.84 269.95,464.21 270.69,464.57 271.43,464.92 272.17,465.27 272.91,465.61 273.66,465.95 274.4,466.28 275.15,466.62 275.9,466.95 276.65,467.27 277.4,467.6 278.16,467.93 278.91,468.25 279.67,468.57 280.42,468.89 281.18,469.22 281.94,469.54 282.7,469.86 283.46,470.18 284.23,470.5 284.99,470.82 285.76,471.14 286.53,471.46 287.3,471.78 288.07,472.1 288.84,472.41 289.61,472.73 290.39,473.05 291.16,473.37 291.94,473.69 292.72,474.01 293.5,474.33 294.28,474.65 295.07,474.97 295.85,475.3 296.64,475.62 297.42,475.94 298.21,476.26 299,476.58 299.79,476.9 300.59,477.23 301.38,477.55 302.18,477.87 302.97,478.2 303.77,478.52 304.57,478.85 305.37,479.17 306.18,479.5 306.98,479.82 307.79,480.15 308.59,480.48 309.4,480.8 310.21,481.13 311.02,481.46 311.84,481.79 312.65,482.12 313.47,482.45 314.28,482.78 314.28,482.92 313.46,482.59 312.64,482.26 311.83,481.94 311.02,481.61 310.2,481.29 309.39,480.96 308.59,480.64 307.78,480.32 306.97,479.99 306.17,479.67 305.37,479.35 304.56,479.03 303.76,478.71 302.96,478.39 302.17,478.07 301.37,477.75 300.58,477.44 299.78,477.12 298.99,476.8 298.2,476.49 297.41,476.17 296.63,475.86 295.84,475.54 295.06,475.23 294.27,474.91 293.49,474.6 292.71,474.29 291.93,473.98 291.15,473.67 290.38,473.36 289.6,473.05 288.83,472.74 288.06,472.43 287.28,472.12 286.52,471.81 285.75,471.5 284.98,471.2 284.21,470.89 283.45,470.58 282.69,470.28 281.93,469.97 281.17,469.67 280.41,469.37 279.65,469.06 278.89,468.76 278.14,468.46 277.38,468.16 276.63,467.86 275.88,467.56 275.13,467.26 274.38,466.96 273.64,466.66 272.89,466.36 272.15,466.06 271.4,465.76 270.66,465.47 269.92,465.17 269.18,464.88 268.44,464.58 267.7,464.29 266.97,463.99 266.23,463.7 265.5,463.4 264.77,463.11 264.04,462.82 263.31,462.53 262.58,462.24 261.85,461.94 261.13,461.65 260.4,461.36 259.68,461.08 258.96,460.79 258.24,460.5 257.52,460.21 256.8,459.92 256.08,459.64 255.37,459.35 254.65,459.06 253.94,458.78 253.23,458.49 252.52,458.21 251.81,457.92 251.1,457.64 250.39,457.36 249.68,457.08 248.98,456.79 248.27,456.51 247.57,456.23 246.87,455.95 246.17,455.67 245.47,455.39 244.77,455.11 244.08,454.83 243.38,454.55 242.69,454.28 241.99,454 241.3,453.72 240.61,453.45 239.92,453.17 239.23,452.89 238.54,452.62 237.86,452.34 237.17,452.07 236.49,451.8 235.8,451.52 235.12,451.25 234.44,450.98 233.76,450.71 233.08,450.43 232.4,450.16 231.73,449.89 231.05,449.62 230.38,449.35 229.7,449.08 229.03,448.81 228.36,448.55 227.69,448.28 227.02,448.01 226.36,447.74 225.69,447.48 225.02,447.21 224.36,446.94 223.7,446.68 223.03,446.41 222.37,446.15 221.71,445.89 221.05,445.62 220.4,445.36 219.74,445.1 219.08,444.83 218.43,444.57 217.77,444.31 217.12,444.05 216.47,443.79 215.82,443.53 215.17,443.27 214.52,443.01 213.87,442.75 213.23,442.49" fill="#9614ff" fill-opacity="0.38"/>
<polyline points="213.23,442.17 213.88,442.42 214.53,442.66 215.18,442.91 215.82,443.15 216.48,443.4 217.13,443.64 217.78,443.88 218.43,444.12 219.09,444.36 219.75,444.6 220.4,444.84 221.06,445.07 221.72,445.3 222.38,445.53 223.04,445.76 223.71,445.98 224.37,446.2 225.04,446.41 225.7,446.61 226.37,446.8 227.04,446.98 227.71,447.15 228.38,447.3 229.06,447.43 229.73,447.53 230.41,447.61 231.09,447.65 231.77,447.66 232.45,447.63 233.14,447.55 233.82,447.42 234.51,447.23 235.2,447 235.9,446.7 236.6,446.35 237.3,445.94 238,445.48 238.7,444.98 239.41,444.44 240.12,443.87 240.83,443.3 241.54,442.74 242.25,442.2 242.96,441.73 243.68,441.35 244.39,441.08 245.1,440.96 245.8,441.02 246.51,441.26 247.21,441.65 247.91,442.17 248.6,442.82 249.3,443.58 249.99,444.43 250.69,445.34 251.38,446.31 252.07,447.31 252.77,448.32 253.46,449.34 254.16,450.35 254.86,451.34 255.55,452.3 256.25,453.23 256.96,454.12 257.66,454.98 258.37,455.79 259.08,456.56 259.79,457.29 260.5,457.98 261.21,458.62 261.93,459.23 262.65,459.8 263.37,460.35 264.1,460.86 264.82,461.34 265.55,461.8 266.28,462.24 267.01,462.66 267.74,463.07 268.48,463.46 269.21,463.84 269.95,464.21 270.69,464.57 271.43,464.92 272.17,465.27 272.91,465.61 273.66,465.95 274.4,466.28 275.15,466.62 275.9,466.95 276.65,467.27 277.4,467.6 278.16,467.93 278.91,468.25 279.67,468.57 280.42,468.89 281.18,469.22 281.94,469.54 282.7,469.86 283.46,470.18 284.23,470.5 284.99,470.82 285.76,471.14 286.53,471.46 287.3,471.78 288.07,472.1 288.84,472.41 289.61,472.73 290.39,473.05 291.16,473.37 291.94,473.69 292.72,474.01 293.5,474.33 294.28,474.65 295.07,474.97 295.85,475.3 296.64,475.62 297.42,475.94 298.21,476.26 299,476.58 299.79,476.9 300.59,477.23 301.38,477.55 302.18,477.87 302.97,478.2 303.77,478.52 304.57,478.85 305.37,479.17 306.18,479.5 306.98,479.82 307.79,480.15 308.59,480.48 309.4,480.8 310.21,481.13 311.02,481.46 311.84,481.79 312.65,482.12 313.47,482.45 314.28,482.78" fill="none" stroke="#9614ff" stroke-width="2" stroke-linejoin="round" stroke-linecap="round"/>
<polygon points="196.45,447.06 197.1,447.32 197.74,447.58 198.38,447.83 199.03,448.09 199.68,448.35 200.32,448.61 200.97,448.87 201.62,449.13 202.27,449.38 202.93,449.64 203.58,449.9 204.23,450.15 204.89,450.41 205.54,450.67 206.2,450.92 206.86,451.18 207.52,451.43 208.18,451.68 208.84,451.93 209.51,452.18 210.17,452.43 210.84,452.68 211.5,452.93 212.17,453.17 212.84,453.41 213.51,453.65 214.18,453.89 214.85,454.12 215.53,454.35 216.2,454.58 216.88,454.8 217.55,455.01 218.23,455.22 218.91,455.42 219.59,455.61 220.28,455.8 220.96,455.97 221.65,456.13 222.33,456.27 223.02,456.38 223.71,456.47 224.4,456.51 225.1,456.5 225.79,456.41 226.49,456.21 227.2,455.86 227.91,455.3 228.62,454.46 229.35,453.28 230.08,451.67 230.82,449.57 231.58,446.9 232.35,443.64 233.14,439.82 233.93,435.51 234.74,430.86 235.55,426.14 236.36,421.72 237.16,418.1 237.93,415.82 238.67,415.3 239.37,416.46 240.05,418.99 240.7,422.59 241.34,426.89 241.97,431.54 242.6,436.26 243.23,440.81 243.87,445.06 244.51,448.92 245.17,452.33 245.83,455.28 246.51,457.8 247.2,459.91 247.89,461.67 248.59,463.12 249.3,464.33 250.02,465.34 250.74,466.2 251.46,466.94 252.19,467.59 252.92,468.18 253.65,468.71 254.38,469.21 255.12,469.68 255.86,470.14 256.6,470.57 257.34,470.99 258.08,471.4 258.83,471.8 259.57,472.19 260.32,472.58 261.07,472.96 261.82,473.33 262.57,473.7 263.33,474.07 264.08,474.43 264.84,474.79 265.6,475.15 266.36,475.5 267.12,475.85 267.88,476.2 268.64,476.55 269.41,476.9 270.17,477.24 270.94,477.59 271.71,477.93 272.48,478.27 273.25,478.62 274.02,478.96 274.8,479.3 275.58,479.64 276.35,479.98 277.13,480.32 277.91,480.65 278.69,480.99 279.48,481.33 280.26,481.67 281.05,482.01 281.84,482.35 282.62,482.69 283.42,483.02 284.21,483.36 285,483.7 285.8,484.04 286.59,484.38 287.39,484.72 288.19,485.06 288.99,485.4 289.79,485.74 290.59,486.08 291.4,486.42 292.21,486.76 293.01,487.1 293.82,487.44 294.63,487.79 295.45,488.13 296.26,488.47 297.08,488.81 297.07,489.02 296.25,488.68 295.44,488.34 294.63,488.01 293.81,487.67 293,487.33 292.2,487 291.39,486.66 290.58,486.33 289.78,486 288.98,485.66 288.18,485.33 287.38,485 286.58,484.67 285.78,484.34 284.99,484.01 284.2,483.68 283.4,483.35 282.61,483.02 281.82,482.7 281.04,482.37 280.25,482.04 279.46,481.72 278.68,481.39 277.9,481.07 277.12,480.75 276.34,480.42 275.56,480.1 274.78,479.78 274.01,479.46 273.23,479.14 272.46,478.82 271.69,478.5 270.92,478.18 270.15,477.86 269.39,477.54 268.62,477.22 267.86,476.91 267.09,476.59 266.33,476.27 265.57,475.96 264.81,475.64 264.06,475.33 263.3,475.02 262.54,474.7 261.79,474.39 261.04,474.08 260.29,473.77 259.54,473.46 258.79,473.15 258.04,472.84 257.3,472.53 256.55,472.22 255.81,471.91 255.07,471.6 254.33,471.3 253.59,470.99 252.85,470.68 252.12,470.38 251.38,470.07 250.65,469.77 249.91,469.47 249.18,469.16 248.45,468.86 247.72,468.56 247,468.26 246.27,467.95 245.55,467.65 244.82,467.35 244.1,467.05 243.38,466.75 242.66,466.46 241.94,466.16 241.22,465.86 240.51,465.56 239.79,465.27 239.08,464.97 238.36,464.68 237.65,464.38 236.94,464.09 236.23,463.79 235.53,463.5 234.82,463.21 234.11,462.91 233.41,462.62 232.71,462.33 232.01,462.04 231.3,461.75 230.61,461.46 229.91,461.17 229.21,460.88 228.51,460.59 227.82,460.3 227.13,460.02 226.43,459.73 225.74,459.44 225.05,459.16 224.36,458.87 223.68,458.58 222.99,458.3 222.31,458.02 221.62,457.73 220.94,457.45 220.26,457.17 219.58,456.88 218.9,456.6 218.22,456.32 217.54,456.04 216.86,455.76 216.19,455.48 215.52,455.2 214.84,454.92 214.17,454.64 213.5,454.36 212.83,454.09 212.16,453.81 211.5,453.53 210.83,453.26 210.16,452.98 209.5,452.71 208.84,452.43 208.18,452.16 207.52,451.88 206.86,451.61 206.2,451.34 205.54,451.06 204.88,450.79 204.23,450.52 203.58,450.25 202.92,449.98 202.27,449.71 201.62,449.44 200.97,449.17 200.32,448.9 199.67,448.63 199.03,448.36 198.38,448.1 197.74,447.83 197.09,447.56 196.45,447.29" fill="#7014ff" fill-opacity="0.38"/>
<polyline points="196.45,447.06 197.1,447.32 197.74,447.58 198.38,447.83 199.03,448.09 199.68,448.35 200.32,448.61 200.97,448.87 201.62,449.13 202.27,449.38 202.93,449.64 203.58,449.9 204.23,450.15 204.89,450.41 205.54,450.67 206.2,450.92 206.86,451.18 207.52,451.43 208.18,451.68 208.84,451.93 209.51,452.18 210.17,452.43 210.84,452.68 211.5,452.93 212.17,453.17 212.84,453.41 213.51,453.65 214.18,453.89 214.85,454.12 215.53,454.35 216.2,454.58 216.88,454.8 217.55,455.01 218.23,455.22 218.91,455.42 219.59,455.61 220.28,455.8 220.96,455.97 221.65,456.13 222.33,456.27 223.02,456.38 223.71,456.47 224.4,456.51 225.1,456.5 225.79,456.41 226.49,456.21 227.2,455.86 227.91,455.3 228.62,454.46 229.35,453.28 230.08,451.67 230.82,449.57 231.58,446.9 232.35,443.64 233.14,439.82 233.93,435.51 234.74,430.86 235.55,426.14 236.36,421.72 237.16,418.1 237.93,415.82 238.67,415.3 239.37,416.46 240.05,418.99 240.7,422.59 241.34,426.89 241.97,431.54 242.6,436.26 243.23,440.81 243.87,445.06 244.51,448.92 245.17,452.33 245.83,455.28 246.51,457.8 247.2,459.91 247.89,461.67 248.59,463.12 249.3,464.33 250.02,465.34 250.74,466.2 251.46,466.94 252.19,467.59 252.92,468.18 253.65,468.71 254.38,469.21 255.12,469.68 255.86,470.14 256.6,470.57 257.34,470.99 258.08,471.4 258.83,471.8 259.57,472.19 260.32,472.58 261.07,472.96 261.82,473.33 262.57,473.7 263.33,474.07 264.08,474.43 264.84,474.79 265.6,475.15 266.36,475.5 267.12,475.85 267.88,476.2 268.64,476.55 269.41,476.9 270.17,477.24 270.94,477.59 271.71,477.93 272.48,478.27 273.25,478.62 274.02,478.96 274.8,479.3 275.58,479.64 276.35,479.98 277.13,480.32 277.91,480.65 278.69,480.99 279.48,481.33 280.26,481.67 281.05,482.01 281.84,482.35 282.62,482.69 283.42,483.02 284.21,483.36 285,483.7 285.8,484.04 286.59,484.38 287.39,484.72 288.19,485.06 288.99,485.4 289.79,485.74 290.59,486.08 291.4,486.42 292.21,486.76 293.01,487.1 293.82,487.44 294.63,487.79 295.45,488.13 296.26,488.47 297.08,488.81" fill="none" stroke="#7014ff" stroke-width="2" stroke-linejoin="round" stroke-linecap="round"/>
<polygon points="181.12,450.93 181.76,451.18 182.4,451.43 183.04,451.68 183.68,451.92 184.32,452.17 184.97,452.41 185.61,452.65 186.26,452.89 186.91,453.13 187.55,453.37 188.2,453.61 188.85,453.84 189.51,454.07 190.16,454.3 190.81,454.53 191.47,454.75 192.12,454.97 192.78,455.19 193.44,455.4 194.1,455.61 194.76,455.82 195.42,456.01 196.09,456.21 196.75,456.39 197.42,456.57 198.08,456.74 198.75,456.91 199.42,457.06 200.09,457.2 200.76,457.33 201.44,457.44 202.11,457.54 202.79,457.62 203.46,457.68 204.14,457.71 204.82,457.72 205.51,457.7 206.19,457.64 206.88,457.53 207.56,457.37 208.25,457.15 208.95,456.83 209.64,456.4 210.34,455.81 211.04,454.99 211.75,453.86 212.47,452.3 213.19,450.14 213.93,447.18 214.68,443.18 215.46,437.86 216.26,430.95 217.09,422.2 217.95,411.42 218.85,398.55 219.79,383.69 220.75,367.2 221.74,349.75 222.74,332.43 223.73,316.8 224.66,304.81 225.51,298.4 226.26,298.6 226.93,304.31 227.51,314.56 228.04,328.05 228.53,343.41 229.01,359.42 229.48,375.17 229.96,390.01 230.46,403.53 230.99,415.51 231.54,425.87 232.11,434.63 232.72,441.9 233.34,447.84 233.99,452.65 234.65,456.5 235.33,459.57 236.02,462.04 236.72,464.04 237.43,465.69 238.14,467.07 238.86,468.25 239.59,469.29 240.31,470.21 241.04,471.05 241.78,471.83 242.51,472.55 243.25,473.23 243.99,473.88 244.73,474.49 245.47,475.08 246.22,475.64 246.96,476.18 247.71,476.71 248.46,477.22 249.21,477.72 249.96,478.2 250.72,478.67 251.47,479.13 252.23,479.59 252.99,480.03 253.75,480.47 254.51,480.9 255.28,481.32 256.04,481.74 256.81,482.16 257.57,482.57 258.34,482.97 259.12,483.37 259.89,483.77 260.66,484.16 261.44,484.56 262.21,484.95 262.99,485.33 263.77,485.72 264.55,486.1 265.34,486.48 266.12,486.86 266.91,487.24 267.69,487.61 268.48,487.99 269.27,488.36 270.06,488.74 270.86,489.11 271.65,489.48 272.45,489.85 273.25,490.22 274.05,490.59 274.85,490.96 275.65,491.33 276.45,491.69 277.26,492.06 278.06,492.43 278.87,492.8 279.68,493.16 280.49,493.53 281.31,493.9 281.28,494.62 280.47,494.27 279.66,493.92 278.85,493.57 278.04,493.23 277.23,492.88 276.42,492.53 275.62,492.19 274.82,491.85 274.02,491.5 273.22,491.16 272.42,490.82 271.62,490.48 270.82,490.13 270.03,489.79 269.24,489.45 268.45,489.12 267.66,488.78 266.87,488.44 266.08,488.1 265.3,487.77 264.51,487.43 263.73,487.09 262.95,486.76 262.17,486.43 261.39,486.09 260.62,485.76 259.84,485.43 259.07,485.1 258.29,484.76 257.52,484.43 256.75,484.1 255.99,483.77 255.22,483.45 254.45,483.12 253.69,482.79 252.93,482.46 252.17,482.14 251.41,481.81 250.65,481.49 249.89,481.16 249.13,480.84 248.38,480.51 247.63,480.19 246.87,479.87 246.12,479.55 245.37,479.23 244.63,478.91 243.88,478.59 243.14,478.27 242.39,477.95 241.65,477.63 240.91,477.31 240.17,476.99 239.43,476.68 238.69,476.36 237.96,476.05 237.22,475.73 236.49,475.42 235.76,475.1 235.03,474.79 234.3,474.48 233.57,474.17 232.84,473.85 232.12,473.54 231.39,473.23 230.67,472.92 229.95,472.61 229.23,472.31 228.51,472 227.79,471.69 227.07,471.38 226.36,471.08 225.64,470.77 224.93,470.46 224.22,470.16 223.51,469.85 222.8,469.55 222.09,469.25 221.38,468.94 220.68,468.64 219.97,468.34 219.27,468.04 218.57,467.74 217.87,467.44 217.17,467.14 216.47,466.84 215.77,466.54 215.08,466.24 214.38,465.94 213.69,465.65 213,465.35 212.31,465.05 211.62,464.76 210.93,464.46 210.24,464.17 209.56,463.87 208.87,463.58 208.19,463.29 207.5,462.99 206.82,462.7 206.14,462.41 205.46,462.12 204.78,461.83 204.11,461.54 203.43,461.25 202.76,460.96 202.08,460.67 201.41,460.38 200.74,460.1 200.07,459.81 199.4,459.52 198.73,459.24 198.07,458.95 197.4,458.66 196.74,458.38 196.07,458.1 195.41,457.81 194.75,457.53 194.09,457.25 193.43,456.96 192.77,456.68 192.12,456.4 191.46,456.12 190.81,455.84 190.15,455.56 189.5,455.28 188.85,455 188.2,454.72 187.55,454.44 186.9,454.16 186.25,453.89 185.61,453.61 184.96,453.33 184.32,453.06 183.68,452.78 183.04,452.51 182.39,452.23 181.76,451.96 181.12,451.69" fill="#2850ff" fill-opacity="0.38"/>
<polyline points="181.12,450.93 181.76,451.18 182.4,451.43 183.04,451.68 183.68,451.92 184.32,452.17 184.97,452.41 185.61,452.65 186.26,452.89 186.91,453.13 187.55,453.37 188.2,453.61 188.85,453.84 189.51,454.07 190.16,454.3 190.81,454.53 191.47,454.75 192.12,454.97 192.78,455.19 193.44,455.4 194.1,455.61 194.76,455.82 195.42,456.01 196.09,456.21 196.75,456.39 197.42,456.57 198.08,456.74 198.75,456.91 199.42,457.06 200.09,457.2 200.76,457.33 201.44,457.44 202.11,457.54 202.79,457.62 203.46,457.68 204.14,457.71 204.82,457.72 205.51,457.7 206.19,457.64 206.88,457.53 207.56,457.37 208.25,457.15 208.95,456.83 209.64,456.4 210.34,455.81 211.04,454.99 211.75,453.86 212.47,452.3 213.19,450.14 213.93,447.18 214.68,443.18 215.46,437.86 216.26,430.95 217.09,422.2 217.95,411.42 218.85,398.55 219.79,383.69 220.75,367.2 221.74,349.75 222.74,332.43 223.73,316.8 224.66,304.81 225.51,298.4 226.26,298.6 226.93,304.31 227.51,314.56 228.04,328.05 228.53,343.41 229.01,359.42 229.48,375.17 229.96,390.01 230.46,403.53 230.99,415.51 231.54,425.87 232.11,434.63 232.72,441.9 233.34,447.84 233.99,452.65 234.65,456.5 235.33,459.57 236.02,462.04 236.72,464.04 237.43,465.69 238.14,467.07 238.86,468.25 239.59,469.29 240.31,470.21 241.04,471.05 241.78,471.83 242.51,472.55 243.25,473.23 243.99,473.88 244.73,474.49 245.47,475.08 246.22,475.64 246.96,476.18 247.71,476.71 248.46,477.22 249.21,477.72 249.96,478.2 250.72,478.67 251.47,479.13 252.23,479.59 252.99,480.03 253.75,480.47 254.51,480.9 255.28,481.32 256.04,481.74 256.81,482.16 257.57,482.57 258.34,482.97 259.12,483.37 259.89,483.77 260.66,484.16 261.44,484.56 262.21,484.95 262.99,485.33 263.77,485.72 264.55,486.1 265.34,486.48 266.12,486.86 266.91,487.24 267.69,487.61 268.48,487.99 269.27,488.36 270.06,488.74 270.86,489.11 271.65,489.48 272.45,489.85 273.25,490.22 274.05,490.59 274.85,490.96 275.65,491.33 276.45,491.69 277.26,492.06 278.06,492.43 278.87,492.8 279.68,493.16 280.49,493.53 281.31,493.9" fill="none" stroke="#2850ff" stroke-width="2" stroke-linejoin="round" stroke-linecap="round"/>
<polygon points="167.36,454.83 168,455.08 168.63,455.33 169.27,455.58 169.91,455.84 170.55,456.09 171.19,456.33 171.83,456.58 172.47,456.83 173.11,457.07 173.76,457.31 174.4,457.56 175.05,457.79 175.7,458.03 176.35,458.26 177,458.49 177.65,458.72 178.3,458.95 178.95,459.17 179.61,459.38 180.26,459.6 180.92,459.8 181.58,460 182.24,460.2 182.9,460.39 183.56,460.57 184.22,460.74 184.89,460.91 185.55,461.06 186.22,461.2 186.88,461.33 187.55,461.44 188.22,461.54 188.9,461.62 189.57,461.68 190.24,461.71 190.92,461.72 191.6,461.69 192.28,461.63 192.96,461.52 193.64,461.36 194.32,461.13 195.01,460.81 195.7,460.38 196.39,459.8 197.08,459 197.78,457.91 198.48,456.4 199.19,454.31 199.91,451.45 200.64,447.56 201.38,442.36 202.15,435.55 202.93,426.85 203.74,416.03 204.58,402.95 205.45,387.67 206.34,370.44 207.26,351.87 208.19,332.96 209.12,315.21 210.03,300.62 210.88,291.37 211.66,289.14 212.36,293.35 213,302.84 213.59,316.36 214.14,332.38 214.68,349.52 215.2,366.67 215.73,383.05 216.27,398.12 216.83,411.58 217.4,423.31 218,433.3 218.62,441.63 219.25,448.48 219.91,454.02 220.57,458.47 221.26,462.03 221.95,464.87 222.65,467.17 223.36,469.04 224.07,470.59 224.79,471.91 225.51,473.06 226.24,474.08 226.97,474.99 227.7,475.83 228.43,476.61 229.16,477.34 229.9,478.03 230.64,478.68 231.38,479.3 232.12,479.9 232.87,480.48 233.61,481.04 234.36,481.57 235.11,482.1 235.86,482.6 236.61,483.1 237.36,483.59 238.12,484.06 238.87,484.52 239.63,484.98 240.39,485.43 241.15,485.87 241.91,486.31 242.68,486.74 243.44,487.17 244.21,487.59 244.98,488 245.75,488.42 246.52,488.82 247.29,489.23 248.07,489.63 248.84,490.03 249.62,490.43 250.4,490.83 251.18,491.22 251.96,491.61 252.74,492 253.53,492.39 254.31,492.78 255.1,493.17 255.89,493.55 256.68,493.94 257.47,494.32 258.27,494.7 259.06,495.08 259.86,495.46 260.66,495.85 261.46,496.22 262.26,496.6 263.06,496.98 263.87,497.36 264.67,497.74 265.48,498.12 266.29,498.5 267.1,498.88 267.08,499.65 266.26,499.29 265.45,498.94 264.65,498.58 263.84,498.22 263.04,497.87 262.23,497.51 261.43,497.16 260.63,496.81 259.83,496.45 259.03,496.1 258.24,495.75 257.44,495.4 256.65,495.05 255.86,494.7 255.07,494.35 254.28,494 253.5,493.66 252.71,493.31 251.93,492.96 251.14,492.62 250.36,492.27 249.58,491.93 248.8,491.58 248.03,491.24 247.25,490.9 246.48,490.56 245.71,490.22 244.94,489.88 244.17,489.54 243.4,489.2 242.63,488.86 241.87,488.52 241.1,488.18 240.34,487.85 239.58,487.51 238.82,487.17 238.06,486.84 237.3,486.51 236.55,486.17 235.79,485.84 235.04,485.51 234.29,485.17 233.54,484.84 232.79,484.51 232.04,484.18 231.3,483.85 230.55,483.52 229.81,483.2 229.07,482.87 228.32,482.54 227.59,482.22 226.85,481.89 226.11,481.56 225.38,481.24 224.64,480.92 223.91,480.59 223.18,480.27 222.45,479.95 221.72,479.62 220.99,479.3 220.26,478.98 219.54,478.66 218.82,478.34 218.09,478.02 217.37,477.71 216.65,477.39 215.93,477.07 215.22,476.75 214.5,476.44 213.79,476.12 213.07,475.81 212.36,475.49 211.65,475.18 210.94,474.87 210.23,474.55 209.53,474.24 208.82,473.93 208.12,473.62 207.41,473.31 206.71,473 206.01,472.69 205.31,472.38 204.61,472.07 203.91,471.76 203.22,471.46 202.52,471.15 201.83,470.84 201.14,470.54 200.45,470.23 199.76,469.93 199.07,469.62 198.38,469.32 197.69,469.02 197.01,468.71 196.32,468.41 195.64,468.11 194.96,467.81 194.28,467.51 193.6,467.21 192.92,466.91 192.25,466.61 191.57,466.31 190.9,466.01 190.22,465.72 189.55,465.42 188.88,465.12 188.21,464.83 187.54,464.53 186.87,464.24 186.21,463.94 185.54,463.65 184.88,463.36 184.21,463.06 183.55,462.77 182.89,462.48 182.23,462.19 181.57,461.9 180.92,461.61 180.26,461.32 179.6,461.03 178.95,460.74 178.3,460.45 177.65,460.16 176.99,459.88 176.35,459.59 175.7,459.3 175.05,459.02 174.4,458.73 173.76,458.45 173.11,458.16 172.47,457.88 171.83,457.59 171.19,457.31 170.55,457.03 169.91,456.75 169.27,456.47 168.63,456.18 168,455.9 167.36,455.62" fill="#1ea4ff" fill-opacity="0.38"/>
<polyline points="167.36,454.83 168,455.08 168.63,455.33 169.27,455.58 169.91,455.84 170.55,456.09 171.19,456.33 171.83,456.58 172.47,456.83 173.11,457.07 173.76,457.31 174.4,457.56 175.05,457.79 175.7,458.03 176.35,458.26 177,458.49 177.65,458.72 178.3,458.95 178.95,459.17 179.61,459.38 180.26,459.6 180.92,459.8 181.58,460 182.24,460.2 182.9,460.39 183.56,460.57 184.22,460.74 184.89,460.91 185.55,461.06 186.22,461.2 186.88,461.33 187.55,461.44 188.22,461.54 188.9,461.62 189.57,461.68 190.24,461.71 190.92,461.72 191.6,461.69 192.28,461.63 192.96,461.52 193.64,461.36 194.32,461.13 195.01,460.81 195.7,460.38 196.39,459.8 197.08,459 197.78,457.91 198.48,456.4 199.19,454.31 199.91,451.45 200.64,447.56 201.38,442.36 202.15,435.55 202.93,426.85 203.74,416.03 204.58,402.95 205.45,387.67 206.34,370.44 207.26,351.87 208.19,332.96 209.12,315.21 210.03,300.62 210.88,291.37 211.66,289.14 212.36,293.35 213,302.84 213.59,316.36 214.14,332.38 214.68,349.52 215.2,366.67 215.73,383.05 216.27,398.12 216.83,411.58 217.4,423.31 218,433.3 218.62,441.63 219.25,448.48 219.91,454.02 220.57,458.47 221.26,462.03 221.95,464.87 222.65,467.17 223.36,469.04 224.07,470.59 224.79,471.91 225.51,473.06 226.24,474.08 226.97,474.99 227.7,475.83 228.43,476.61 229.16,477.34 229.9,478.03 230.64,478.68 231.38,479.3 232.12,479.9 232.87,480.48 233.61,481.04 234.36,481.57 235.11,482.1 235.86,482.6 236.61,483.1 237.36,483.59 238.12,484.06 238.87,484.52 239.63,484.98 240.39,485.43 241.15,485.87 241.91,486.31 242.68,486.74 243.44,487.17 244.21,487.59 244.98,488 245.75,488.42 246.52,488.82 247.29,489.23 248.07,489.63 248.84,490.03 249.62,490.43 250.4,490.83 251.18,491.22 251.96,491.61 252.74,492 253.53,492.39 254.31,492.78 255.1,493.17 255.89,493.55 256.68,493.94 257.47,494.32 258.27,494.7 259.06,495.08 259.86,495.46 260.66,495.85 261.46,496.22 262.26,496.6 263.06,496.98 263.87,497.36 264.67,497.74 265.48,498.12 266.29,498.5 267.1,498.88" fill="none" stroke="#1ea4ff" stroke-width="2" stroke-linejoin="round" stroke-linecap="round"/>
<polygon points="151.22,459.36 151.85,459.61 152.48,459.87 153.11,460.13 153.75,460.39 154.38,460.64 155.02,460.9 155.65,461.15 156.29,461.4 156.93,461.65 157.57,461.89 158.21,462.14 158.85,462.38 159.49,462.62 160.13,462.86 160.78,463.1 161.43,463.33 162.07,463.56 162.72,463.78 163.37,464 164.02,464.21 164.67,464.42 165.33,464.63 165.98,464.83 166.63,465.02 167.29,465.2 167.95,465.38 168.61,465.54 169.27,465.7 169.93,465.84 170.59,465.97 171.25,466.09 171.92,466.19 172.58,466.27 173.25,466.33 173.92,466.36 174.59,466.37 175.26,466.35 175.93,466.29 176.61,466.19 177.28,466.05 177.96,465.84 178.64,465.56 179.32,465.19 180,464.69 180.68,464.04 181.37,463.16 182.05,461.96 182.74,460.33 183.44,458.09 184.14,455.02 184.85,450.84 185.56,445.25 186.29,437.89 187.02,428.41 187.78,416.51 188.55,401.99 189.35,384.82 190.16,365.22 191,343.74 191.85,321.4 192.71,299.78 193.56,281.09 194.39,267.92 195.18,262.59 195.92,265.42 196.61,274.85 197.27,289.53 197.89,307.69 198.49,327.6 199.08,347.85 199.67,367.4 200.26,385.54 200.87,401.86 201.48,416.15 202.11,428.38 202.75,438.63 203.4,447.07 204.07,453.92 204.74,459.42 205.43,463.81 206.13,467.31 206.83,470.11 207.54,472.38 208.26,474.25 208.98,475.81 209.7,477.16 210.42,478.34 211.15,479.39 211.88,480.35 212.61,481.23 213.35,482.05 214.08,482.82 214.82,483.55 215.56,484.25 216.3,484.91 217.04,485.54 217.78,486.15 218.53,486.74 219.27,487.31 220.02,487.86 220.77,488.4 221.52,488.93 222.28,489.44 223.03,489.94 223.79,490.43 224.54,490.91 225.3,491.38 226.06,491.85 226.82,492.31 227.59,492.76 228.35,493.21 229.12,493.65 229.89,494.08 230.65,494.52 231.43,494.95 232.2,495.37 232.97,495.79 233.75,496.21 234.52,496.63 235.3,497.04 236.08,497.46 236.86,497.87 237.64,498.27 238.43,498.68 239.21,499.08 240,499.49 240.79,499.89 241.58,500.29 242.37,500.69 243.17,501.09 243.96,501.49 244.76,501.88 245.56,502.28 246.35,502.68 247.16,503.07 247.96,503.47 248.76,503.86 249.57,504.25 250.38,504.65 250.35,505.58 249.54,505.21 248.74,504.84 247.93,504.48 247.13,504.11 246.33,503.74 245.53,503.38 244.73,503.01 243.93,502.65 243.14,502.28 242.35,501.92 241.55,501.56 240.76,501.2 239.97,500.83 239.18,500.47 238.4,500.11 237.61,499.76 236.83,499.4 236.05,499.04 235.27,498.68 234.49,498.33 233.71,497.97 232.94,497.62 232.16,497.26 231.39,496.91 230.62,496.56 229.85,496.2 229.08,495.85 228.31,495.5 227.54,495.15 226.78,494.8 226.02,494.45 225.26,494.1 224.5,493.76 223.74,493.41 222.98,493.06 222.22,492.72 221.47,492.37 220.72,492.03 219.96,491.68 219.21,491.34 218.47,491 217.72,490.66 216.97,490.31 216.23,489.97 215.48,489.63 214.74,489.29 214,488.96 213.26,488.62 212.52,488.28 211.79,487.94 211.05,487.61 210.32,487.27 209.58,486.94 208.85,486.6 208.12,486.27 207.4,485.93 206.67,485.6 205.94,485.27 205.22,484.94 204.49,484.61 203.77,484.28 203.05,483.95 202.33,483.62 201.61,483.29 200.9,482.96 200.18,482.63 199.47,482.31 198.75,481.98 198.04,481.66 197.33,481.33 196.62,481.01 195.92,480.68 195.21,480.36 194.5,480.04 193.8,479.72 193.1,479.39 192.4,479.07 191.7,478.75 191,478.43 190.3,478.11 189.6,477.8 188.91,477.48 188.21,477.16 187.52,476.84 186.83,476.53 186.14,476.21 185.45,475.9 184.76,475.58 184.08,475.27 183.39,474.95 182.71,474.64 182.02,474.33 181.34,474.02 180.66,473.71 179.98,473.39 179.3,473.08 178.63,472.77 177.95,472.47 177.28,472.16 176.6,471.85 175.93,471.54 175.26,471.23 174.59,470.93 173.92,470.62 173.25,470.32 172.59,470.01 171.92,469.71 171.26,469.4 170.59,469.1 169.93,468.8 169.27,468.5 168.61,468.19 167.95,467.89 167.3,467.59 166.64,467.29 165.99,466.99 165.33,466.69 164.68,466.4 164.03,466.1 163.38,465.8 162.73,465.5 162.08,465.21 161.43,464.91 160.79,464.62 160.14,464.32 159.5,464.03 158.86,463.73 158.21,463.44 157.57,463.15 156.93,462.85 156.3,462.56 155.66,462.27 155.02,461.98 154.39,461.69 153.75,461.4 153.12,461.11 152.49,460.82 151.86,460.53 151.23,460.24" fill="#12eeee" fill-opacity="0.38"/>
<polyline points="151.22,459.36 151.85,459.61 152.48,459.87 153.11,460.13 153.75,460.39 154.38,460.64 155.02,460.9 155.65,461.15 156.29,461.4 156.93,461.65 157.57,461.89 158.21,462.14 158.85,462.38 159.49,462.62 160.13,462.86 160.78,463.1 161.43,463.33 162.07,463.56 162.72,463.78 163.37,464 164.02,464.21 164.67,464.42 165.33,464.63 165.98,464.83 166.63,465.02 167.29,465.2 167.95,465.38 168.61,465.54 169.27,465.7 169.93,465.84 170.59,465.97 171.25,466.09 171.92,466.19 172.58,466.27 173.25,466.33 173.92,466.36 174.59,466.37 175.26,466.35 175.93,466.29 176.61,466.19 177.28,466.05 177.96,465.84 178.64,465.56 179.32,465.19 180,464.69 180.68,464.04 181.37,463.16 182.05,461.96 182.74,460.33 183.44,458.09 184.14,455.02 184.85,450.84 185.56,445.25 186.29,437.89 187.02,428.41 187.78,416.51 188.55,401.99 189.35,384.82 190.16,365.22 191,343.74 191.85,321.4 192.71,299.78 193.56,281.09 194.39,267.92 195.18,262.59 195.92,265.42 196.61,274.85 197.27,289.53 197.89,307.69 198.49,327.6 199.08,347.85 199.67,367.4 200.26,385.54 200.87,401.86 201.48,416.15 202.11,428.38 202.75,438.63 203.4,447.07 204.07,453.92 204.74,459.42 205.43,463.81 206.13,467.31 206.83,470.11 207.54,472.38 208.26,474.25 208.98,475.81 209.7,477.16 210.42,478.34 211.15,479.39 211.88,480.35 212.61,481.23 213.35,482.05 214.08,482.82 214.82,483.55 215.56,484.25 216.3,484.91 217.04,485.54 217.78,486.15 218.53,486.74 219.27,487.31 220.02,487.86 220.77,488.4 221.52,488.93 222.28,489.44 223.03,489.94 223.79,490.43 224.54,490.91 225.3,491.38 226.06,491.85 226.82,492.31 227.59,492.76 228.35,493.21 229.12,493.65 229.89,494.08 230.65,494.52 231.43,494.95 232.2,495.37 232.97,495.79 233.75,496.21 234.52,496.63 235.3,497.04 236.08,497.46 236.86,497.87 237.64,498.27 238.43,498.68 239.21,499.08 240,499.49 240.79,499.89 241.58,500.29 242.37,500.69 243.17,501.09 243.96,501.49 244.76,501.88 245.56,502.28 246.35,502.68 247.16,503.07 247.96,503.47 248.76,503.86 249.57,504.25 250.38,504.65" fill="none" stroke="#12eeee" stroke-width="2" stroke-linejoin="round" stroke-linecap="round"/>
<polygon points="134.63,464.19 135.25,464.46 135.88,464.73 136.5,465 137.13,465.27 137.76,465.53 138.39,465.8 139.02,466.06 139.65,466.33 140.28,466.59 140.92,466.85 141.55,467.1 142.19,467.36 142.82,467.61 143.46,467.86 144.1,468.11 144.74,468.36 145.38,468.6 146.03,468.84 146.67,469.07 147.32,469.31 147.96,469.53 148.61,469.75 149.26,469.97 149.91,470.18 150.56,470.38 151.21,470.57 151.86,470.76 152.51,470.93 153.17,471.1 153.83,471.25 154.48,471.39 155.14,471.51 155.8,471.62 156.46,471.7 157.12,471.77 157.79,471.81 158.45,471.82 159.11,471.79 159.78,471.73 160.45,471.62 161.12,471.45 161.79,471.21 162.46,470.88 163.13,470.43 163.8,469.81 164.48,468.96 165.15,467.79 165.83,466.16 166.5,463.92 167.18,460.84 167.85,456.67 168.53,451.1 169.21,443.83 169.89,434.55 170.57,423.06 171.26,409.22 171.95,393.11 172.65,375.04 173.36,355.67 174.08,336.12 174.81,318.01 175.54,303.47 176.29,294.74 177.03,293.4 177.77,298.55 178.5,309.05 179.22,323.51 179.93,340.37 180.64,358.22 181.33,375.95 182.03,392.77 182.72,408.19 183.41,421.92 184.1,433.83 184.79,443.95 185.48,452.37 186.18,459.28 186.88,464.86 187.59,469.34 188.3,472.92 189.01,475.79 189.72,478.11 190.44,480 191.16,481.59 191.88,482.93 192.61,484.11 193.33,485.15 194.06,486.1 194.79,486.97 195.52,487.77 196.25,488.53 196.98,489.25 197.72,489.93 198.46,490.58 199.19,491.21 199.93,491.81 200.67,492.39 201.41,492.96 202.16,493.51 202.9,494.04 203.65,494.56 204.4,495.07 205.15,495.57 205.9,496.06 206.65,496.54 207.4,497.01 208.16,497.48 208.92,497.94 209.67,498.4 210.43,498.85 211.19,499.29 211.96,499.73 212.72,500.17 213.49,500.6 214.25,501.03 215.02,501.46 215.79,501.88 216.56,502.31 217.33,502.73 218.11,503.14 218.88,503.56 219.66,503.97 220.44,504.39 221.22,504.8 222,505.21 222.79,505.62 223.57,506.03 224.36,506.43 225.15,506.84 225.94,507.25 226.73,507.65 227.52,508.06 228.31,508.46 229.11,508.86 229.91,509.27 230.7,509.67 231.5,510.07 232.31,510.47 233.11,510.88 233.09,511.7 232.29,511.32 231.49,510.94 230.69,510.56 229.89,510.18 229.09,509.8 228.3,509.42 227.5,509.05 226.71,508.67 225.92,508.3 225.13,507.92 224.34,507.55 223.55,507.17 222.77,506.8 221.98,506.43 221.2,506.06 220.42,505.69 219.64,505.32 218.86,504.95 218.09,504.58 217.31,504.21 216.54,503.85 215.77,503.48 215,503.12 214.23,502.75 213.46,502.39 212.7,502.02 211.93,501.66 211.17,501.3 210.41,500.94 209.65,500.58 208.89,500.22 208.13,499.86 207.38,499.5 206.62,499.14 205.87,498.79 205.12,498.43 204.37,498.07 203.62,497.72 202.87,497.36 202.13,497.01 201.38,496.66 200.64,496.3 199.9,495.95 199.16,495.6 198.42,495.25 197.68,494.9 196.94,494.55 196.21,494.2 195.48,493.85 194.74,493.51 194.01,493.16 193.28,492.82 192.56,492.47 191.83,492.13 191.11,491.78 190.38,491.44 189.66,491.09 188.94,490.75 188.22,490.41 187.5,490.07 186.78,489.73 186.07,489.39 185.35,489.05 184.64,488.71 183.93,488.38 183.22,488.04 182.51,487.7 181.8,487.37 181.09,487.03 180.39,486.7 179.68,486.36 178.98,486.03 178.28,485.7 177.58,485.36 176.88,485.03 176.18,484.7 175.48,484.37 174.79,484.04 174.09,483.71 173.4,483.38 172.71,483.05 172.02,482.73 171.33,482.4 170.64,482.07 169.96,481.75 169.27,481.42 168.59,481.1 167.9,480.77 167.22,480.45 166.54,480.13 165.86,479.81 165.19,479.48 164.51,479.16 163.83,478.84 163.16,478.52 162.49,478.2 161.81,477.89 161.14,477.57 160.47,477.25 159.81,476.93 159.14,476.62 158.47,476.3 157.81,475.99 157.14,475.67 156.48,475.36 155.82,475.04 155.16,474.73 154.5,474.42 153.84,474.1 153.19,473.79 152.53,473.48 151.88,473.17 151.23,472.86 150.57,472.55 149.92,472.24 149.27,471.94 148.62,471.63 147.98,471.32 147.33,471.01 146.69,470.71 146.04,470.4 145.4,470.1 144.76,469.79 144.12,469.49 143.48,469.19 142.84,468.88 142.2,468.58 141.56,468.28 140.93,467.98 140.3,467.68 139.66,467.38 139.03,467.08 138.4,466.78 137.77,466.48 137.14,466.18 136.51,465.88 135.89,465.59 135.26,465.29 134.64,464.99" fill="#12ee12" fill-opacity="0.38"/>
<polyline points="134.63,464.19 135.25,464.46 135.88,464.73 136.5,465 137.13,465.27 137.76,465.53 138.39,465.8 139.02,466.06 139.65,466.33 140.28,466.59 140.92,466.85 141.55,467.1 142.19,467.36 142.82,467.61 143.46,467.86 144.1,468.11 144.74,468.36 145.38,468.6 146.03,468.84 146.67,469.07 147.32,469.31 147.96,469.53 148.61,469.75 149.26,469.97 149.91,470.18 150.56,470.38 151.21,470.57 151.86,470.76 152.51,470.93 153.17,471.1 153.83,471.25 154.48,471.39 155.14,471.51 155.8,471.62 156.46,471.7 157.12,471.77 157.79,471.81 158.45,471.82 159.11,471.79 159.78,471.73 160.45,471.62 161.12,471.45 161.79,471.21 162.46,470.88 163.13,470.43 163.8,469.81 164.48,468.96 165.15,467.79 165.83,466.16 166.5,463.92 167.18,460.84 167.85,456.67 168.53,451.1 169.21,443.83 169.89,434.55 170.57,423.06 171.26,409.22 171.95,393.11 172.65,375.04 173.36,355.67 174.08,336.12 174.81,318.01 175.54,303.47 176.29,294.74 177.03,293.4 177.77,298.55 178.5,309.05 179.22,323.51 179.93,340.37 180.64,358.22 181.33,375.95 182.03,392.77 182.72,408.19 183.41,421.92 184.1,433.83 184.79,443.95 185.48,452.37 186.18,459.28 186.88,464.86 187.59,469.34 188.3,472.92 189.01,475.79 189.72,478.11 190.44,480 191.16,481.59 191.88,482.93 192.61,484.11 193.33,485.15 194.06,486.1 194.79,486.97 195.52,487.77 196.25,488.53 196.98,489.25 197.72,489.93 198.46,490.58 199.19,491.21 199.93,491.81 200.67,492.39 201.41,492.96 202.16,493.51 202.9,494.04 203.65,494.56 204.4,495.07 205.15,495.57 205.9,496.06 206.65,496.54 207.4,497.01 208.16,497.48 208.92,497.94 209.67,498.4 210.43,498.85 211.19,499.29 211.96,499.73 212.72,500.17 213.49,500.6 214.25,501.03 215.02,501.46 215.79,501.88 216.56,502.31 217.33,502.73 218.11,503.14 218.88,503.56 219.66,503.97 220.44,504.39 221.22,504.8 222,505.21 222.79,505.62 223.57,506.03 224.36,506.43 225.15,506.84 225.94,507.25 226.73,507.65 227.52,508.06 228.31,508.46 229.11,508.86 229.91,509.27 230.7,509.67 231.5,510.07 232.31,510.47 233.11,510.88" fill="none" stroke="#12ee12" stroke-width="2" stroke-linejoin="round" stroke-linecap="round"/>
<polygon points="114.62,470.22 115.23,470.51 115.85,470.8 116.47,471.09 117.09,471.38 117.71,471.66 118.34,471.95 118.96,472.24 119.58,472.53 120.21,472.81 120.84,473.1 121.46,473.38 122.09,473.67 122.72,473.95 123.35,474.23 123.99,474.51 124.62,474.79 125.25,475.07 125.89,475.34 126.53,475.62 127.16,475.89 127.8,476.16 128.44,476.42 129.08,476.69 129.73,476.94 130.37,477.2 131.01,477.45 131.66,477.7 132.3,477.94 132.95,478.17 133.6,478.4 134.25,478.62 134.9,478.84 135.55,479.04 136.21,479.23 136.86,479.41 137.52,479.58 138.17,479.73 138.83,479.86 139.49,479.97 140.15,480.06 140.81,480.12 141.47,480.14 142.13,480.12 142.8,480.04 143.46,479.89 144.12,479.64 144.79,479.26 145.45,478.68 146.11,477.84 146.78,476.63 147.44,474.92 148.09,472.55 148.74,469.33 149.39,465.06 150.02,459.55 150.66,452.65 151.28,444.26 151.9,434.4 152.51,423.24 153.13,411.13 153.75,398.72 154.38,386.92 155.03,377 155.71,370.37 156.41,368.22 157.15,370.46 157.9,376.28 158.66,384.91 159.43,395.39 160.21,406.79 160.98,418.35 161.74,429.51 162.5,439.88 163.25,449.23 163.99,457.45 164.73,464.5 165.46,470.45 166.19,475.37 166.91,479.4 167.63,482.67 168.36,485.31 169.08,487.45 169.8,489.2 170.52,490.65 171.24,491.88 171.96,492.93 172.69,493.87 173.41,494.71 174.14,495.48 174.86,496.2 175.59,496.87 176.32,497.51 177.05,498.12 177.78,498.71 178.52,499.28 179.25,499.83 179.99,500.36 180.72,500.88 181.46,501.39 182.2,501.89 182.94,502.38 183.69,502.86 184.43,503.33 185.18,503.8 185.92,504.26 186.67,504.71 187.42,505.16 188.17,505.61 188.92,506.05 189.68,506.49 190.43,506.92 191.19,507.35 191.95,507.78 192.71,508.21 193.47,508.63 194.23,509.06 195,509.48 195.76,509.9 196.53,510.32 197.3,510.73 198.07,511.15 198.84,511.56 199.62,511.98 200.39,512.39 201.17,512.8 201.94,513.21 202.72,513.63 203.5,514.04 204.29,514.45 205.07,514.86 205.86,515.27 206.64,515.68 207.43,516.09 208.22,516.5 209.01,516.91 209.81,517.32 210.6,517.73 211.4,518.14 212.2,518.55 212.19,519.11 211.39,518.72 210.6,518.32 209.8,517.93 209.01,517.53 208.22,517.14 207.43,516.75 206.64,516.36 205.85,515.97 205.06,515.58 204.28,515.19 203.5,514.8 202.72,514.41 201.94,514.03 201.16,513.64 200.38,513.26 199.61,512.87 198.83,512.49 198.06,512.1 197.29,511.72 196.52,511.34 195.76,510.96 194.99,510.58 194.23,510.2 193.46,509.82 192.7,509.45 191.94,509.07 191.18,508.69 190.43,508.32 189.67,507.94 188.92,507.57 188.16,507.2 187.41,506.82 186.66,506.45 185.92,506.08 185.17,505.71 184.42,505.34 183.68,504.97 182.94,504.6 182.2,504.23 181.46,503.87 180.72,503.5 179.98,503.14 179.25,502.77 178.51,502.41 177.78,502.04 177.05,501.68 176.32,501.32 175.59,500.96 174.86,500.6 174.14,500.24 173.41,499.88 172.69,499.52 171.97,499.16 171.25,498.8 170.53,498.45 169.81,498.09 169.09,497.74 168.38,497.38 167.67,497.03 166.95,496.68 166.24,496.32 165.53,495.97 164.83,495.62 164.12,495.27 163.41,494.92 162.71,494.57 162.01,494.22 161.3,493.87 160.6,493.53 159.91,493.18 159.21,492.83 158.51,492.49 157.82,492.14 157.12,491.8 156.43,491.46 155.74,491.11 155.05,490.77 154.36,490.43 153.67,490.09 152.99,489.75 152.3,489.41 151.62,489.07 150.94,488.73 150.25,488.39 149.58,488.06 148.9,487.72 148.22,487.38 147.54,487.05 146.87,486.71 146.19,486.38 145.52,486.05 144.85,485.71 144.18,485.38 143.51,485.05 142.84,484.72 142.18,484.39 141.51,484.06 140.85,483.73 140.19,483.4 139.52,483.07 138.86,482.74 138.21,482.42 137.55,482.09 136.89,481.76 136.24,481.44 135.58,481.12 134.93,480.79 134.28,480.47 133.62,480.14 132.98,479.82 132.33,479.5 131.68,479.18 131.03,478.86 130.39,478.54 129.74,478.22 129.1,477.9 128.46,477.58 127.82,477.27 127.18,476.95 126.54,476.63 125.9,476.32 125.27,476 124.63,475.69 124,475.37 123.37,475.06 122.74,474.74 122.11,474.43 121.48,474.12 120.85,473.81 120.22,473.5 119.6,473.19 118.97,472.88 118.35,472.57 117.72,472.26 117.1,471.95 116.48,471.64 115.86,471.34 115.24,471.03 114.63,470.72" fill="#b0ee10" fill-opacity="0.38"/>
<polyline points="114.62,470.22 115.23,470.51 115.85,470.8 116.47,471.09 117.09,471.38 117.71,471.66 118.34,471.95 118.96,472.24 119.58,472.53 120.21,472.81 120.84,473.1 121.46,473.38 122.09,473.67 122.72,473.95 123.35,474.23 123.99,474.51 124.62,474.79 125.25,475.07 125.89,475.34 126.53,475.62 127.16,475.89 127.8,476.16 128.44,476.42 129.08,476.69 129.73,476.94 130.37,477.2 131.01,477.45 131.66,477.7 132.3,477.94 132.95,478.17 133.6,478.4 134.25,478.62 134.9,478.84 135.55,479.04 136.21,479.23 136.86,479.41 137.52,479.58 138.17,479.73 138.83,479.86 139.49,479.97 140.15,480.06 140.81,480.12 141.47,480.14 142.13,480.12 142.8,480.04 143.46,479.89 144.12,479.64 144.79,479.26 145.45,478.68 146.11,477.84 146.78,476.63 147.44,474.92 148.09,472.55 148.74,469.33 149.39,465.06 150.02,459.55 150.66,452.65 151.28,444.26 151.9,434.4 152.51,423.24 153.13,411.13 153.75,398.72 154.38,386.92 155.03,377 155.71,370.37 156.41,368.22 157.15,370.46 157.9,376.28 158.66,384.91 159.43,395.39 160.21,406.79 160.98,418.35 161.74,429.51 162.5,439.88 163.25,449.23 163.99,457.45 164.73,464.5 165.46,470.45 166.19,475.37 166.91,479.4 167.63,482.67 168.36,485.31 169.08,487.45 169.8,489.2 170.52,490.65 171.24,491.88 171.96,492.93 172.69,493.87 173.41,494.71 174.14,495.48 174.86,496.2 175.59,496.87 176.32,497.51 177.05,498.12 177.78,498.71 178.52,499.28 179.25,499.83 179.99,500.36 180.72,500.88 181.46,501.39 182.2,501.89 182.94,502.38 183.69,502.86 184.43,503.33 185.18,503.8 185.92,504.26 186.67,504.71 187.42,505.16 188.17,505.61 188.92,506.05 189.68,506.49 190.43,506.92 191.19,507.35 191.95,507.78 192.71,508.21 193.47,508.63 194.23,509.06 195,509.48 195.76,509.9 196.53,510.32 197.3,510.73 198.07,511.15 198.84,511.56 199.62,511.98 200.39,512.39 201.17,512.8 201.94,513.21 202.72,513.63 203.5,514.04 204.29,514.45 205.07,514.86 205.86,515.27 206.64,515.68 207.43,516.09 208.22,516.5 209.01,516.91 209.81,517.32 210.6,517.73 211.4,518.14 212.2,518.55" fill="none" stroke="#b0ee10" stroke-width="2" stroke-linejoin="round" stroke-linecap="round"/>
<polygon points="96.97,475.35 97.58,475.66 98.2,475.96 98.81,476.26 99.42,476.56 100.04,476.86 100.65,477.16 101.27,477.46 101.89,477.76 102.51,478.06 103.13,478.36 103.75,478.66 104.37,478.95 104.99,479.25 105.62,479.55 106.24,479.84 106.87,480.14 107.5,480.43 108.12,480.72 108.75,481.01 109.38,481.3 110.02,481.58 110.65,481.87 111.28,482.15 111.92,482.42 112.56,482.7 113.19,482.97 113.83,483.24 114.47,483.5 115.11,483.76 115.75,484.01 116.4,484.26 117.04,484.5 117.69,484.73 118.33,484.95 118.98,485.16 119.63,485.36 120.28,485.55 120.93,485.72 121.58,485.87 122.23,486 122.88,486.11 123.54,486.18 124.19,486.22 124.85,486.2 125.5,486.12 126.16,485.95 126.81,485.66 127.46,485.18 128.12,484.46 128.76,483.41 129.41,481.89 130.04,479.79 130.67,476.93 131.29,473.15 131.89,468.31 132.49,462.29 133.07,455.06 133.64,446.66 134.2,437.29 134.76,427.31 135.32,417.33 135.91,408.19 136.52,400.99 137.17,396.85 137.87,396.51 138.61,399.47 139.38,405.16 140.17,412.87 140.98,421.83 141.79,431.31 142.59,440.76 143.39,449.76 144.17,458.06 144.95,465.48 145.71,471.97 146.47,477.51 147.21,482.17 147.95,486.03 148.69,489.18 149.41,491.75 150.14,493.85 150.86,495.56 151.58,496.98 152.3,498.18 153.02,499.21 153.73,500.12 154.45,500.93 155.17,501.68 155.9,502.37 156.62,503.02 157.34,503.64 158.07,504.24 158.79,504.81 159.52,505.36 160.25,505.9 160.98,506.42 161.71,506.94 162.44,507.44 163.17,507.93 163.91,508.41 164.64,508.89 165.38,509.36 166.12,509.83 166.86,510.28 167.6,510.74 168.34,511.19 169.09,511.64 169.83,512.08 170.58,512.52 171.33,512.96 172.08,513.39 172.83,513.82 173.58,514.26 174.34,514.68 175.09,515.11 175.85,515.54 176.61,515.96 177.37,516.39 178.13,516.81 178.89,517.23 179.66,517.66 180.42,518.08 181.19,518.5 181.96,518.92 182.73,519.34 183.5,519.76 184.28,520.18 185.05,520.6 185.83,521.02 186.61,521.44 187.39,521.85 188.17,522.27 188.95,522.69 189.74,523.11 190.52,523.53 191.31,523.95 192.1,524.37 192.89,524.79 193.69,525.22 193.68,525.67 192.89,525.26 192.1,524.86 191.31,524.45 190.52,524.04 189.73,523.64 188.95,523.23 188.17,522.83 187.39,522.42 186.61,522.02 185.83,521.62 185.05,521.22 184.27,520.82 183.5,520.42 182.73,520.02 181.96,519.62 181.19,519.23 180.42,518.83 179.66,518.44 178.89,518.04 178.13,517.65 177.37,517.25 176.61,516.86 175.85,516.47 175.09,516.08 174.34,515.69 173.58,515.3 172.83,514.91 172.08,514.52 171.33,514.14 170.58,513.75 169.83,513.37 169.09,512.98 168.34,512.6 167.6,512.22 166.86,511.83 166.12,511.45 165.38,511.07 164.65,510.69 163.91,510.31 163.18,509.93 162.45,509.55 161.72,509.18 160.99,508.8 160.26,508.43 159.53,508.05 158.81,507.68 158.08,507.3 157.36,506.93 156.64,506.56 155.92,506.19 155.2,505.82 154.48,505.45 153.77,505.08 153.05,504.71 152.34,504.34 151.63,503.97 150.92,503.61 150.21,503.24 149.5,502.88 148.8,502.51 148.09,502.15 147.39,501.79 146.69,501.42 145.99,501.06 145.29,500.7 144.59,500.34 143.89,499.98 143.2,499.62 142.51,499.26 141.81,498.91 141.12,498.55 140.43,498.19 139.74,497.84 139.06,497.48 138.37,497.13 137.68,496.78 137,496.42 136.32,496.07 135.64,495.72 134.96,495.37 134.28,495.02 133.6,494.67 132.93,494.32 132.25,493.97 131.58,493.63 130.91,493.28 130.23,492.93 129.56,492.59 128.9,492.24 128.23,491.9 127.56,491.55 126.9,491.21 126.23,490.87 125.57,490.53 124.91,490.19 124.25,489.85 123.59,489.51 122.94,489.17 122.28,488.83 121.62,488.49 120.97,488.15 120.32,487.82 119.67,487.48 119.02,487.14 118.37,486.81 117.72,486.47 117.07,486.14 116.43,485.81 115.78,485.47 115.14,485.14 114.5,484.81 113.86,484.48 113.22,484.15 112.58,483.82 111.94,483.49 111.31,483.16 110.67,482.84 110.04,482.51 109.4,482.18 108.77,481.86 108.14,481.53 107.51,481.21 106.88,480.88 106.26,480.56 105.63,480.24 105.01,479.91 104.38,479.59 103.76,479.27 103.14,478.95 102.52,478.63 101.9,478.31 101.28,477.99 100.66,477.67 100.05,477.36 99.43,477.04 98.82,476.72 98.21,476.41 97.6,476.09 96.99,475.77" fill="#ffa810" fill-opacity="0.38"/>
<polyline points="96.97,475.35 97.58,475.66 98.2,475.96 98.81,476.26 99.42,476.56 100.04,476.86 100.65,477.16 101.27,477.46 101.89,477.76 102.51,478.06 103.13,478.36 103.75,478.66 104.37,478.95 104.99,479.25 105.62,479.55 106.24,479.84 106.87,480.14 107.5,480.43 108.12,480.72 108.75,481.01 109.38,481.3 110.02,481.58 110.65,481.87 111.28,482.15 111.92,482.42 112.56,482.7 113.19,482.97 113.83,483.24 114.47,483.5 115.11,483.76 115.75,484.01 116.4,484.26 117.04,484.5 117.69,484.73 118.33,484.95 118.98,485.16 119.63,485.36 120.28,485.55 120.93,485.72 121.58,485.87 122.23,486 122.88,486.11 123.54,486.18 124.19,486.22 124.85,486.2 125.5,486.12 126.16,485.95 126.81,485.66 127.46,485.18 128.12,484.46 128.76,483.41 129.41,481.89 130.04,479.79 130.67,476.93 131.29,473.15 131.89,468.31 132.49,462.29 133.07,455.06 133.64,446.66 134.2,437.29 134.76,427.31 135.32,417.33 135.91,408.19 136.52,400.99 137.17,396.85 137.87,396.51 138.61,399.47 139.38,405.16 140.17,412.87 140.98,421.83 141.79,431.31 142.59,440.76 143.39,449.76 144.17,458.06 144.95,465.48 145.71,471.97 146.47,477.51 147.21,482.17 147.95,486.03 148.69,489.18 149.41,491.75 150.14,493.85 150.86,495.56 151.58,496.98 152.3,498.18 153.02,499.21 153.73,500.12 154.45,500.93 155.17,501.68 155.9,502.37 156.62,503.02 157.34,503.64 158.07,504.24 158.79,504.81 159.52,505.36 160.25,505.9 160.98,506.42 161.71,506.94 162.44,507.44 163.17,507.93 163.91,508.41 164.64,508.89 165.38,509.36 166.12,509.83 166.86,510.28 167.6,510.74 168.34,511.19 169.09,511.64 169.83,512.08 170.58,512.52 171.33,512.96 172.08,513.39 172.83,513.82 173.58,514.26 174.34,514.68 175.09,515.11 175.85,515.54 176.61,515.96 177.37,516.39 178.13,516.81 178.89,517.23 179.66,517.66 180.42,518.08 181.19,518.5 181.96,518.92 182.73,519.34 183.5,519.76 184.28,520.18 185.05,520.6 185.83,521.02 186.61,521.44 187.39,521.85 188.17,522.27 188.95,522.69 189.74,523.11 190.52,523.53 191.31,523.95 192.1,524.37 192.89,524.79 193.69,525.22" fill="none" stroke="#ffa810" stroke-width="2" stroke-linejoin="round" stroke-linecap="round"/>
<polygon points="78.82,480.81 79.42,481.13 80.02,481.45 80.63,481.77 81.24,482.09 81.84,482.41 82.45,482.73 83.06,483.05 83.67,483.37 84.28,483.69 84.9,484.02 85.51,484.34 86.13,484.66 86.74,484.98 87.36,485.3 87.98,485.62 88.6,485.95 89.22,486.27 89.84,486.59 90.46,486.91 91.09,487.23 91.71,487.55 92.34,487.87 92.96,488.19 93.59,488.51 94.22,488.83 94.85,489.14 95.48,489.46 96.12,489.77 96.75,490.09 97.39,490.4 98.02,490.7 98.66,491.01 99.3,491.31 99.94,491.61 100.58,491.91 101.22,492.2 101.86,492.49 102.51,492.77 103.15,493.05 103.8,493.31 104.45,493.57 105.09,493.81 105.74,494.04 106.39,494.25 107.04,494.43 107.69,494.57 108.35,494.66 109,494.67 109.65,494.58 110.29,494.35 110.94,493.93 111.58,493.26 112.22,492.29 112.85,490.95 113.48,489.19 114.1,486.99 114.71,484.34 115.32,481.29 115.92,477.92 116.52,474.42 117.13,471.02 117.75,468.09 118.39,466.02 119.06,465.2 119.75,465.77 120.46,467.46 121.19,470.08 121.93,473.35 122.68,477 123.43,480.77 124.18,484.48 124.92,488 125.66,491.24 126.39,494.15 127.12,496.71 127.85,498.92 128.57,500.81 129.28,502.42 130,503.77 130.71,504.92 131.42,505.9 132.13,506.75 132.84,507.49 133.55,508.16 134.26,508.78 134.97,509.35 135.68,509.89 136.39,510.41 137.1,510.91 137.82,511.39 138.53,511.87 139.25,512.34 139.97,512.79 140.69,513.25 141.41,513.69 142.13,514.14 142.85,514.57 143.58,515.01 144.3,515.44 145.03,515.87 145.76,516.3 146.49,516.73 147.22,517.15 147.95,517.57 148.69,518 149.42,518.42 150.16,518.84 150.9,519.25 151.64,519.67 152.38,520.09 153.13,520.51 153.87,520.93 154.62,521.34 155.36,521.76 156.11,522.18 156.86,522.59 157.62,523.01 158.37,523.43 159.12,523.85 159.88,524.26 160.64,524.68 161.4,525.1 162.16,525.52 162.92,525.94 163.69,526.36 164.45,526.78 165.22,527.2 165.99,527.62 166.76,528.04 167.53,528.46 168.3,528.88 169.08,529.3 169.86,529.73 170.64,530.15 171.42,530.58 172.2,531 172.98,531.43 173.76,531.86 174.55,532.28 174.55,532.46 173.76,532.03 172.98,531.61 172.2,531.19 171.42,530.77 170.64,530.35 169.86,529.93 169.08,529.51 168.31,529.1 167.53,528.68 166.76,528.27 165.99,527.85 165.22,527.44 164.45,527.03 163.69,526.61 162.92,526.2 162.16,525.79 161.4,525.38 160.64,524.98 159.88,524.57 159.13,524.16 158.37,523.75 157.62,523.35 156.87,522.95 156.12,522.54 155.37,522.14 154.62,521.74 153.87,521.34 153.13,520.94 152.39,520.54 151.64,520.14 150.9,519.74 150.17,519.34 149.43,518.95 148.69,518.55 147.96,518.16 147.23,517.76 146.49,517.37 145.77,516.98 145.04,516.58 144.31,516.19 143.58,515.8 142.86,515.41 142.14,515.02 141.42,514.64 140.7,514.25 139.98,513.86 139.26,513.48 138.55,513.09 137.83,512.71 137.12,512.33 136.41,511.94 135.7,511.56 134.99,511.18 134.28,510.8 133.58,510.42 132.87,510.04 132.17,509.66 131.47,509.29 130.77,508.91 130.07,508.53 129.37,508.16 128.67,507.78 127.98,507.41 127.29,507.04 126.59,506.67 125.9,506.29 125.21,505.92 124.52,505.55 123.84,505.18 123.15,504.81 122.47,504.45 121.78,504.08 121.1,503.71 120.42,503.35 119.74,502.98 119.07,502.62 118.39,502.25 117.71,501.89 117.04,501.53 116.37,501.17 115.7,500.8 115.03,500.44 114.36,500.08 113.69,499.73 113.02,499.37 112.36,499.01 111.69,498.65 111.03,498.3 110.37,497.94 109.71,497.59 109.05,497.23 108.39,496.88 107.74,496.52 107.08,496.17 106.43,495.82 105.78,495.47 105.12,495.12 104.47,494.77 103.83,494.42 103.18,494.07 102.53,493.72 101.89,493.38 101.24,493.03 100.6,492.69 99.96,492.34 99.32,492 98.68,491.65 98.04,491.31 97.4,490.97 96.77,490.62 96.13,490.28 95.5,489.94 94.87,489.6 94.23,489.26 93.6,488.92 92.97,488.59 92.35,488.25 91.72,487.91 91.1,487.57 90.47,487.24 89.85,486.9 89.23,486.57 88.6,486.24 87.99,485.9 87.37,485.57 86.75,485.24 86.13,484.91 85.52,484.58 84.9,484.24 84.29,483.92 83.68,483.59 83.07,483.26 82.46,482.93 81.85,482.6 81.24,482.28 80.64,481.95 80.03,481.62 79.43,481.3 78.82,480.97" fill="#ff6410" fill-opacity="0.38"/>
<polyline points="78.82,480.81 79.42,481.13 80.02,481.45 80.63,481.77 81.24,482.09 81.84,482.41 82.45,482.73 83.06,483.05 83.67,483.37 84.28,483.69 84.9,484.02 85.51,484.34 86.13,484.66 86.74,484.98 87.36,485.3 87.98,485.62 88.6,485.95 89.22,486.27 89.84,486.59 90.46,486.91 91.09,487.23 91.71,487.55 92.34,487.87 92.96,488.19 93.59,488.51 94.22,488.83 94.85,489.14 95.48,489.46 96.12,489.77 96.75,490.09 97.39,490.4 98.02,490.7 98.66,491.01 99.3,491.31 99.94,491.61 100.58,491.91 101.22,492.2 101.86,492.49 102.51,492.77 103.15,493.05 103.8,493.31 104.45,493.57 105.09,493.81 105.74,494.04 106.39,494.25 107.04,494.43 107.69,494.57 108.35,494.66 109,494.67 109.65,494.58 110.29,494.35 110.94,493.93 111.58,493.26 112.22,492.29 112.85,490.95 113.48,489.19 114.1,486.99 114.71,484.34 115.32,481.29 115.92,477.92 116.52,474.42 117.13,471.02 117.75,468.09 118.39,466.02 119.06,465.2 119.75,465.77 120.46,467.46 121.19,470.08 121.93,473.35 122.68,477 123.43,480.77 124.18,484.48 124.92,488 125.66,491.24 126.39,494.15 127.12,496.71 127.85,498.92 128.57,500.81 129.28,502.42 130,503.77 130.71,504.92 131.42,505.9 132.13,506.75 132.84,507.49 133.55,508.16 134.26,508.78 134.97,509.35 135.68,509.89 136.39,510.41 137.1,510.91 137.82,511.39 138.53,511.87 139.25,512.34 139.97,512.79 140.69,513.25 141.41,513.69 142.13,514.14 142.85,514.57 143.58,515.01 144.3,515.44 145.03,515.87 145.76,516.3 146.49,516.73 147.22,517.15 147.95,517.57 148.69,518 149.42,518.42 150.16,518.84 150.9,519.25 151.64,519.67 152.38,520.09 153.13,520.51 153.87,520.93 154.62,521.34 155.36,521.76 156.11,522.18 156.86,522.59 157.62,523.01 158.37,523.43 159.12,523.85 159.88,524.26 160.64,524.68 161.4,525.1 162.16,525.52 162.92,525.94 163.69,526.36 164.45,526.78 165.22,527.2 165.99,527.62 166.76,528.04 167.53,528.46 168.3,528.88 169.08,529.3 169.86,529.73 170.64,530.15 171.42,530.58 172.2,531 172.98,531.43 173.76,531.86 174.55,532.28" fill="none" stroke="#ff6410" stroke-width="2" stroke-linejoin="round" stroke-linecap="round"/>
<polygon points="60.11,486.19 60.71,486.52 61.3,486.85 61.9,487.18 62.5,487.51 63.1,487.85 63.7,488.18 64.3,488.51 64.9,488.84 65.51,489.17 66.11,489.51 66.72,489.84 67.32,490.17 67.93,490.5 68.54,490.84 69.15,491.17 69.76,491.51 70.38,491.84 70.99,492.17 71.6,492.51 72.22,492.84 72.84,493.17 73.45,493.51 74.07,493.84 74.69,494.17 75.32,494.5 75.94,494.83 76.56,495.16 77.19,495.49 77.81,495.82 78.44,496.14 79.07,496.47 79.7,496.79 80.33,497.11 80.96,497.43 81.59,497.74 82.23,498.05 82.86,498.36 83.5,498.66 84.13,498.96 84.77,499.25 85.41,499.53 86.05,499.8 86.69,500.06 87.33,500.3 87.97,500.52 88.62,500.7 89.26,500.84 89.9,500.92 90.54,500.91 91.18,500.78 91.82,500.49 92.45,499.99 93.08,499.23 93.7,498.16 94.31,496.75 94.91,494.95 95.51,492.78 96.1,490.26 96.69,487.49 97.27,484.59 97.86,481.79 98.47,479.38 99.09,477.71 99.74,477.09 100.42,477.64 101.13,479.13 101.86,481.41 102.6,484.24 103.34,487.39 104.09,490.64 104.84,493.85 105.59,496.89 106.33,499.7 107.06,502.23 107.79,504.46 108.51,506.41 109.23,508.08 109.94,509.5 110.65,510.72 111.35,511.76 112.06,512.66 112.76,513.45 113.46,514.15 114.17,514.79 114.87,515.38 115.57,515.93 116.27,516.46 116.98,516.97 117.69,517.46 118.39,517.95 119.1,518.42 119.81,518.89 120.52,519.35 121.23,519.8 121.95,520.25 122.66,520.7 123.38,521.14 124.09,521.58 124.81,522.02 125.53,522.46 126.25,522.9 126.98,523.33 127.7,523.76 128.43,524.19 129.15,524.62 129.88,525.05 130.61,525.48 131.34,525.91 132.07,526.34 132.81,526.77 133.54,527.2 134.28,527.63 135.02,528.05 135.76,528.48 136.5,528.91 137.25,529.34 137.99,529.77 138.74,530.2 139.48,530.63 140.23,531.06 140.98,531.49 141.74,531.92 142.49,532.35 143.25,532.78 144,533.21 144.76,533.64 145.52,534.08 146.28,534.51 147.05,534.94 147.81,535.38 148.58,535.81 149.34,536.25 150.11,536.69 150.88,537.13 151.66,537.56 152.43,538 153.21,538.44 153.99,538.88 154.76,539.32 154.77,539.47 153.99,539.03 153.21,538.6 152.43,538.16 151.66,537.73 150.89,537.29 150.11,536.86 149.35,536.43 148.58,536 147.81,535.57 147.05,535.14 146.28,534.71 145.52,534.28 144.76,533.86 144,533.43 143.25,533 142.49,532.58 141.74,532.16 140.99,531.74 140.24,531.31 139.49,530.89 138.74,530.47 137.99,530.05 137.25,529.64 136.51,529.22 135.76,528.8 135.02,528.39 134.29,527.97 133.55,527.56 132.81,527.15 132.08,526.73 131.35,526.32 130.62,525.91 129.89,525.5 129.16,525.09 128.43,524.69 127.71,524.28 126.98,523.87 126.26,523.47 125.54,523.06 124.82,522.66 124.1,522.26 123.39,521.85 122.67,521.45 121.96,521.05 121.25,520.65 120.54,520.25 119.83,519.85 119.12,519.46 118.41,519.06 117.71,518.67 117,518.27 116.3,517.88 115.6,517.48 114.9,517.09 114.2,516.7 113.51,516.31 112.81,515.92 112.12,515.53 111.43,515.14 110.73,514.75 110.04,514.36 109.36,513.98 108.67,513.59 107.98,513.2 107.3,512.82 106.62,512.44 105.93,512.05 105.25,511.67 104.57,511.29 103.9,510.91 103.22,510.53 102.54,510.15 101.87,509.77 101.2,509.4 100.53,509.02 99.86,508.64 99.19,508.27 98.52,507.89 97.86,507.52 97.19,507.15 96.53,506.77 95.86,506.4 95.2,506.03 94.54,505.66 93.89,505.29 93.23,504.92 92.57,504.55 91.92,504.18 91.26,503.82 90.61,503.45 89.96,503.09 89.31,502.72 88.66,502.36 88.02,501.99 87.37,501.63 86.73,501.27 86.08,500.91 85.44,500.55 84.8,500.19 84.16,499.83 83.52,499.47 82.88,499.11 82.25,498.76 81.61,498.4 80.98,498.04 80.35,497.69 79.71,497.33 79.08,496.98 78.46,496.63 77.83,496.27 77.2,495.92 76.58,495.57 75.95,495.22 75.33,494.87 74.71,494.52 74.09,494.17 73.47,493.82 72.85,493.48 72.23,493.13 71.61,492.78 71,492.44 70.38,492.09 69.77,491.75 69.16,491.41 68.55,491.06 67.94,490.72 67.33,490.38 66.72,490.04 66.12,489.7 65.51,489.36 64.91,489.02 64.31,488.68 63.7,488.34 63.1,488.01 62.51,487.67 61.91,487.33 61.31,487 60.71,486.66 60.12,486.33" fill="#ff1414" fill-opacity="0.38"/>
<polyline points="60.11,486.19 60.71,486.52 61.3,486.85 61.9,487.18 62.5,487.51 63.1,487.85 63.7,488.18 64.3,488.51 64.9,488.84 65.51,489.17 66.11,489.51 66.72,489.84 67.32,490.17 67.93,490.5 68.54,490.84 69.15,491.17 69.76,491.51 70.38,491.84 70.99,492.17 71.6,492.51 72.22,492.84 72.84,493.17 73.45,493.51 74.07,493.84 74.69,494.17 75.32,494.5 75.94,494.83 76.56,495.16 77.19,495.49 77.81,495.82 78.44,496.14 79.07,496.47 79.7,496.79 80.33,497.11 80.96,497.43 81.59,497.74 82.23,498.05 82.86,498.36 83.5,498.66 84.13,498.96 84.77,499.25 85.41,499.53 86.05,499.8 86.69,500.06 87.33,500.3 87.97,500.52 88.62,500.7 89.26,500.84 89.9,500.92 90.54,500.91 91.18,500.78 91.82,500.49 92.45,499.99 93.08,499.23 93.7,498.16 94.31,496.75 94.91,494.95 95.51,492.78 96.1,490.26 96.69,487.49 97.27,484.59 97.86,481.79 98.47,479.38 99.09,477.71 99.74,477.09 100.42,477.64 101.13,479.13 101.86,481.41 102.6,484.24 103.34,487.39 104.09,490.64 104.84,493.85 105.59,496.89 106.33,499.7 107.06,502.23 107.79,504.46 108.51,506.41 109.23,508.08 109.94,509.5 110.65,510.72 111.35,511.76 112.06,512.66 112.76,513.45 113.46,514.15 114.17,514.79 114.87,515.38 115.57,515.93 116.27,516.46 116.98,516.97 117.69,517.46 118.39,517.95 119.1,518.42 119.81,518.89 120.52,519.35 121.23,519.8 121.95,520.25 122.66,520.7 123.38,521.14 124.09,521.58 124.81,522.02 125.53,522.46 126.25,522.9 126.98,523.33 127.7,523.76 128.43,524.19 129.15,524.62 129.88,525.05 130.61,525.48 131.34,525.91 132.07,526.34 132.81,526.77 133.54,527.2 134.28,527.63 135.02,528.05 135.76,528.48 136.5,528.91 137.25,529.34 137.99,529.77 138.74,530.2 139.48,530.63 140.23,531.06 140.98,531.49 141.74,531.92 142.49,532.35 143.25,532.78 144,533.21 144.76,533.64 145.52,534.08 146.28,534.51 147.05,534.94 147.81,535.38 148.58,535.81 149.34,536.25 150.11,536.69 150.88,537.13 151.66,537.56 152.43,538 153.21,538.44 153.99,538.88 154.76,539.32" fill="none" stroke="#ff1414" stroke-width="2" stroke-linejoin="round" stroke-linecap="round"/>
<line x1="30.96" y1="261.93" x2="40.9" y2="487.44" stroke="#333" stroke-width="1"/>
<line x1="40.9" y1="487.44" x2="146.53" y2="548.73" stroke="#333" stroke-width="1"/>
<line x1="146.53" y1="548.73" x2="333.28" y2="481.52" stroke="#333" stroke-width="1"/>
<line x1="333.28" y1="481.52" x2="344.89" y2="259.66" stroke="#333" stroke-width="1"/>
<line x1="30.96" y1="261.93" x2="222.04" y2="241.43" stroke="#333" stroke-width="1"/>
<line x1="222.04" y1="241.43" x2="344.89" y2="259.66" stroke="#333" stroke-width="1"/>
<line x1="40.9" y1="487.44" x2="45.03" y2="486.27" stroke="#333" stroke-width="1"/>
<line x1="333.28" y1="481.52" x2="331.2" y2="480.71" stroke="#333" stroke-width="1"/>
<text x="36.9" y="491.22" font-size="10.5" text-anchor="end" fill="#111" stroke="#111">0</text>
<line x1="39.99" y1="466.82" x2="42.49" y2="466.16" stroke="#333" stroke-width="1"/>
<line x1="334.34" y1="461.22" x2="333.08" y2="460.76" stroke="#333" stroke-width="1"/>
<line x1="39.07" y1="445.93" x2="43.26" y2="444.88" stroke="#333" stroke-width="1"/>
<line x1="335.42" y1="440.64" x2="333.31" y2="439.91" stroke="#333" stroke-width="1"/>
<text x="35.07" y="449.71" font-size="10.5" text-anchor="end" fill="#111" stroke="#111">20</text>
<line x1="38.14" y1="424.74" x2="40.67" y2="424.15" stroke="#333" stroke-width="1"/>
<line x1="336.51" y1="419.78" x2="335.23" y2="419.37" stroke="#333" stroke-width="1"/>
<line x1="37.19" y1="403.26" x2="41.44" y2="402.33" stroke="#333" stroke-width="1"/>
<line x1="337.62" y1="398.64" x2="335.47" y2="398" stroke="#333" stroke-width="1"/>
<text x="33.19" y="407.04" font-size="10.5" text-anchor="end" fill="#111" stroke="#111">40</text>
<line x1="36.23" y1="381.47" x2="38.8" y2="380.96" stroke="#333" stroke-width="1"/>
<line x1="338.74" y1="377.2" x2="337.44" y2="376.84" stroke="#333" stroke-width="1"/>
<line x1="35.26" y1="359.39" x2="39.57" y2="358.6" stroke="#333" stroke-width="1"/>
<line x1="339.88" y1="355.47" x2="337.7" y2="354.92" stroke="#333" stroke-width="1"/>
<text x="31.26" y="363.17" font-size="10.5" text-anchor="end" fill="#111" stroke="#111">60</text>
<line x1="34.27" y1="336.98" x2="36.88" y2="336.55" stroke="#333" stroke-width="1"/>
<line x1="341.03" y1="333.44" x2="339.71" y2="333.14" stroke="#333" stroke-width="1"/>
<line x1="33.27" y1="314.26" x2="37.65" y2="313.61" stroke="#333" stroke-width="1"/>
<line x1="342.2" y1="311.1" x2="339.98" y2="310.64" stroke="#333" stroke-width="1"/>
<text x="29.27" y="318.04" font-size="10.5" text-anchor="end" fill="#111" stroke="#111">80</text>
<line x1="32.25" y1="291.21" x2="34.91" y2="290.86" stroke="#333" stroke-width="1"/>
<line x1="343.38" y1="288.44" x2="342.04" y2="288.2" stroke="#333" stroke-width="1"/>
<line x1="31.22" y1="267.83" x2="35.67" y2="267.33" stroke="#333" stroke-width="1"/>
<line x1="344.59" y1="265.45" x2="342.33" y2="265.11" stroke="#333" stroke-width="1"/>
<text x="27.22" y="271.61" font-size="10.5" text-anchor="end" fill="#111" stroke="#111">100</text>
<line x1="45.97" y1="490.38" x2="49.7" y2="489.31" stroke="#333" stroke-width="1"/>
<line x1="228.01" y1="242.31" x2="227.94" y2="246.91" stroke="#333" stroke-width="1"/>
<line x1="59.01" y1="497.94" x2="61.1" y2="497.33" stroke="#333" stroke-width="1"/>
<line x1="243.34" y1="244.59" x2="243.29" y2="246.93" stroke="#333" stroke-width="1"/>
<line x1="72.58" y1="505.82" x2="76.39" y2="504.66" stroke="#333" stroke-width="1"/>
<line x1="259.24" y1="246.95" x2="259.12" y2="251.72" stroke="#333" stroke-width="1"/>
<line x1="86.74" y1="514.04" x2="88.88" y2="513.37" stroke="#333" stroke-width="1"/>
<line x1="275.77" y1="249.4" x2="275.69" y2="251.83" stroke="#333" stroke-width="1"/>
<line x1="101.51" y1="522.61" x2="105.39" y2="521.35" stroke="#333" stroke-width="1"/>
<line x1="292.95" y1="251.95" x2="292.77" y2="256.9" stroke="#333" stroke-width="1"/>
<line x1="116.95" y1="531.57" x2="119.12" y2="530.83" stroke="#333" stroke-width="1"/>
<line x1="310.82" y1="254.6" x2="310.72" y2="257.13" stroke="#333" stroke-width="1"/>
<line x1="133.08" y1="540.93" x2="137.03" y2="539.55" stroke="#333" stroke-width="1"/>
<line x1="329.44" y1="257.36" x2="329.19" y2="262.51" stroke="#333" stroke-width="1"/>
<text x="46" y="503.38" font-size="10.5" text-anchor="middle" fill="#111" stroke="#111">450</text>
<text x="72.7" y="519.18" font-size="10.5" text-anchor="middle" fill="#111" stroke="#111">500</text>
<text x="101.3" y="537.18" font-size="10.5" text-anchor="middle" fill="#111" stroke="#111">550</text>
<text x="133.4" y="555.48" font-size="10.5" text-anchor="middle" fill="#111" stroke="#111">600</text>
<line x1="146.53" y1="548.73" x2="144.44" y2="547.52" stroke="#333" stroke-width="1"/>
<line x1="30.96" y1="261.93" x2="31.08" y2="264.59" stroke="#333" stroke-width="1"/>
<line x1="155.07" y1="545.66" x2="152.97" y2="544.47" stroke="#333" stroke-width="1"/>
<line x1="39.59" y1="261" x2="39.7" y2="263.65" stroke="#333" stroke-width="1"/>
<line x1="161.6" y1="543.31" x2="159.5" y2="542.13" stroke="#333" stroke-width="1"/>
<line x1="46.2" y1="260.29" x2="46.31" y2="262.92" stroke="#333" stroke-width="1"/>
<line x1="166.89" y1="541.41" x2="164.78" y2="540.24" stroke="#333" stroke-width="1"/>
<line x1="51.56" y1="259.72" x2="51.66" y2="262.34" stroke="#333" stroke-width="1"/>
<line x1="171.32" y1="539.81" x2="169.21" y2="538.65" stroke="#333" stroke-width="1"/>
<line x1="56.05" y1="259.23" x2="56.14" y2="261.85" stroke="#333" stroke-width="1"/>
<line x1="175.13" y1="538.44" x2="173.02" y2="537.28" stroke="#333" stroke-width="1"/>
<line x1="59.92" y1="258.82" x2="60.01" y2="261.43" stroke="#333" stroke-width="1"/>
<line x1="178.48" y1="537.24" x2="176.36" y2="536.09" stroke="#333" stroke-width="1"/>
<line x1="63.31" y1="258.46" x2="63.39" y2="261.06" stroke="#333" stroke-width="1"/>
<line x1="181.45" y1="536.17" x2="177.71" y2="534.16" stroke="#333" stroke-width="1"/>
<line x1="66.32" y1="258.13" x2="66.5" y2="263.32" stroke="#333" stroke-width="1"/>
<line x1="200.64" y1="529.26" x2="198.5" y2="528.16" stroke="#333" stroke-width="1"/>
<line x1="85.83" y1="256.04" x2="85.89" y2="258.6" stroke="#333" stroke-width="1"/>
<line x1="211.57" y1="525.33" x2="209.42" y2="524.25" stroke="#333" stroke-width="1"/>
<line x1="96.96" y1="254.85" x2="97.02" y2="257.38" stroke="#333" stroke-width="1"/>
<line x1="219.19" y1="522.58" x2="217.04" y2="521.52" stroke="#333" stroke-width="1"/>
<line x1="104.73" y1="254.01" x2="104.79" y2="256.53" stroke="#333" stroke-width="1"/>
<line x1="225.04" y1="520.48" x2="222.88" y2="519.42" stroke="#333" stroke-width="1"/>
<line x1="110.7" y1="253.37" x2="110.75" y2="255.88" stroke="#333" stroke-width="1"/>
<line x1="229.77" y1="518.78" x2="227.6" y2="517.73" stroke="#333" stroke-width="1"/>
<line x1="115.53" y1="252.85" x2="115.58" y2="255.35" stroke="#333" stroke-width="1"/>
<line x1="233.73" y1="517.35" x2="231.57" y2="516.31" stroke="#333" stroke-width="1"/>
<line x1="119.59" y1="252.42" x2="119.63" y2="254.91" stroke="#333" stroke-width="1"/>
<line x1="237.15" y1="516.12" x2="234.98" y2="515.09" stroke="#333" stroke-width="1"/>
<line x1="123.08" y1="252.04" x2="123.12" y2="254.53" stroke="#333" stroke-width="1"/>
<line x1="240.14" y1="515.04" x2="237.97" y2="514.01" stroke="#333" stroke-width="1"/>
<line x1="126.14" y1="251.71" x2="126.18" y2="254.19" stroke="#333" stroke-width="1"/>
<line x1="242.81" y1="514.09" x2="238.98" y2="512.28" stroke="#333" stroke-width="1"/>
<line x1="128.87" y1="251.42" x2="128.94" y2="256.36" stroke="#333" stroke-width="1"/>
<line x1="260.01" y1="507.89" x2="257.83" y2="506.9" stroke="#333" stroke-width="1"/>
<line x1="146.5" y1="249.53" x2="146.52" y2="251.97" stroke="#333" stroke-width="1"/>
<line x1="269.83" y1="504.36" x2="267.64" y2="503.39" stroke="#333" stroke-width="1"/>
<line x1="156.58" y1="248.45" x2="156.59" y2="250.86" stroke="#333" stroke-width="1"/>
<line x1="276.69" y1="501.89" x2="274.5" y2="500.93" stroke="#333" stroke-width="1"/>
<line x1="163.62" y1="247.69" x2="163.63" y2="250.09" stroke="#333" stroke-width="1"/>
<line x1="281.94" y1="500" x2="279.75" y2="499.05" stroke="#333" stroke-width="1"/>
<line x1="169.03" y1="247.11" x2="169.04" y2="249.5" stroke="#333" stroke-width="1"/>
<line x1="286.2" y1="498.47" x2="284.01" y2="497.52" stroke="#333" stroke-width="1"/>
<line x1="173.41" y1="246.64" x2="173.41" y2="249.03" stroke="#333" stroke-width="1"/>
<line x1="289.77" y1="497.18" x2="287.58" y2="496.24" stroke="#333" stroke-width="1"/>
<line x1="177.09" y1="246.25" x2="177.09" y2="248.62" stroke="#333" stroke-width="1"/>
<line x1="292.85" y1="496.08" x2="290.65" y2="495.14" stroke="#333" stroke-width="1"/>
<line x1="180.26" y1="245.91" x2="180.26" y2="248.28" stroke="#333" stroke-width="1"/>
<line x1="295.54" y1="495.11" x2="293.35" y2="494.18" stroke="#333" stroke-width="1"/>
<line x1="183.04" y1="245.61" x2="183.03" y2="247.97" stroke="#333" stroke-width="1"/>
<line x1="297.94" y1="494.24" x2="294.07" y2="492.61" stroke="#333" stroke-width="1"/>
<line x1="185.51" y1="245.34" x2="185.5" y2="250.06" stroke="#333" stroke-width="1"/>
<line x1="313.46" y1="488.66" x2="311.26" y2="487.76" stroke="#333" stroke-width="1"/>
<line x1="201.54" y1="243.63" x2="201.52" y2="245.95" stroke="#333" stroke-width="1"/>
<line x1="322.33" y1="485.47" x2="320.12" y2="484.58" stroke="#333" stroke-width="1"/>
<line x1="210.7" y1="242.64" x2="210.68" y2="244.95" stroke="#333" stroke-width="1"/>
<line x1="328.53" y1="483.24" x2="326.32" y2="482.37" stroke="#333" stroke-width="1"/>
<line x1="217.12" y1="241.95" x2="217.09" y2="244.25" stroke="#333" stroke-width="1"/>
<line x1="333.28" y1="481.52" x2="331.07" y2="480.66" stroke="#333" stroke-width="1"/>
<line x1="222.04" y1="241.43" x2="222.01" y2="243.71" stroke="#333" stroke-width="1"/>
<text x="181.9" y="550.98" font-size="10.5" text-anchor="middle" fill="#111" stroke="#111">10</text>
<text x="243.3" y="527.68" font-size="10.5" text-anchor="middle" fill="#111" stroke="#111">100</text>
<text x="298.6" y="506.78" font-size="10.5" text-anchor="middle" fill="#111" stroke="#111">1000</text>
<text x="72.5" y="541.18" font-size="13" text-anchor="middle" fill="#111" stroke="#111" transform="rotate(32 72.5 541.18)">Wavelength (nm)</text>
<text x="256" y="545.48" font-size="13" text-anchor="middle" fill="#111" stroke="#111" transform="rotate(-20 256 545.48)">Milling Time (min)</text>
<text x="10.8" y="375" font-size="12" text-anchor="middle" fill="#111" stroke="#111" transform="rotate(-90 10.8 375)">Rel. PL Intensity (arb. units)</text>
<text x="357.9" y="252" font-size="18.5" text-anchor="start" fill="#000" stroke="#000" font-weight="bold">d</text>
<line x1="397" y1="392.98" x2="565.07" y2="350.88" stroke="#666" stroke-width="0.8"/>
<line x1="565.07" y1="350.88" x2="672.43" y2="387.85" stroke="#777" stroke-width="0.8"/>
<line x1="566.75" y1="240.45" x2="565.07" y2="350.88" stroke="#999" stroke-width="0.6"/>
<line x1="402.02" y1="395.61" x2="570.62" y2="352.79" stroke="#bbb" stroke-width="0.8" stroke-dasharray="3,3"/>
<line x1="423.03" y1="406.59" x2="593.67" y2="360.73" stroke="#bbb" stroke-width="0.8" stroke-dasharray="3,3"/>
<line x1="445.66" y1="418.43" x2="618.22" y2="369.18" stroke="#bbb" stroke-width="0.8" stroke-dasharray="3,3"/>
<line x1="470.11" y1="431.21" x2="644.42" y2="378.21" stroke="#bbb" stroke-width="0.8" stroke-dasharray="3,3"/>
<line x1="428.17" y1="385.18" x2="529.91" y2="434.23" stroke="#ccc" stroke-width="0.8" stroke-dasharray="3,3"/>
<line x1="483.22" y1="371.39" x2="587.95" y2="415.35" stroke="#ccc" stroke-width="0.8" stroke-dasharray="3,3"/>
<line x1="533.01" y1="358.91" x2="639.59" y2="398.54" stroke="#ccc" stroke-width="0.8" stroke-dasharray="3,3"/>
<polygon points="556.26,284.91 556.42,291.97 556.59,298.11 556.77,303.4 556.96,307.9 557.17,311.68 557.37,314.81 557.59,317.36 557.81,319.38 558.04,320.95 558.27,322.11 558.51,322.94 558.75,323.5 558.99,323.85 559.24,324.04 559.48,324.15 559.74,323.71 560.03,320.59 560.35,315.26 560.69,308.52 561.04,301.21 561.39,294.15 561.72,288.13 562.06,281.8 562.42,274.7 562.77,267.4 563.13,260.45 563.47,254.43 563.79,249.92 564.08,247.52 564.34,247.48 564.58,248.47 564.81,249.9 565.05,251.34 565.29,252.45 565.53,253.56 565.78,254.55 566.02,255.12 566.29,254.87 566.56,253.86 566.83,252.81 567.1,252.45 567.34,253.41 567.57,255.52 567.78,258.42 567.99,261.75 568.19,265.65 568.35,271.64 568.5,278.75 568.64,285.72 568.81,291.31 568.99,295.85 569.18,300.28 569.37,304.55 569.56,308.65 569.75,312.54 569.95,316.21 570.15,319.63 570.35,322.76 570.56,325.59 570.77,328.08 570.99,330.22 571.22,331.99 571.45,333.62 571.68,335.19 571.91,336.66 572.14,337.99 572.38,339.13 572.62,340.04 572.87,340.68 573.12,341.01 573.37,341.18 573.63,341.33 573.88,341.47 574.14,341.6 574.39,341.73 574.65,341.84 574.91,341.95 575.16,342.06 575.42,342.16 575.68,342.27 575.93,342.37 576.19,342.48 576.45,342.59 576.71,342.7 576.96,342.83 577.22,342.96 577.48,343.1 577.74,343.25 577.99,343.43 578.25,343.76 578.5,344.24 578.75,344.82 579,345.46 579.25,346.12 579.5,346.74 579.75,347.29 580,347.72 580.26,347.98 580.52,348.12 580.78,348.25 581.04,348.39 581.3,348.53 581.56,348.66 581.82,348.8 582.08,348.93 582.34,349.07 582.6,349.2 582.86,349.33 583.12,349.47 583.36,349.59 583.83,349.82 584.31,350.06 584.79,350.29 585.27,350.53 585.75,350.76 586.23,350.98 586.71,351.21 587.19,351.43 587.67,351.66 588.16,351.88 588.64,352.1 589.13,352.31 589.61,352.53 590.1,352.74 590.58,352.96 591.07,353.17 591.56,353.37 592.04,353.58 592.53,353.79 593.02,353.99 593.51,354.19 594,354.4 594.49,354.6 594.99,354.79 595.48,354.99 595.97,355.19 596.47,355.38 596.96,355.58 597.46,355.77 597.95,355.96 598.45,356.15 598.95,356.34 599.45,356.53 599.95,356.71 600.44,356.9 600.95,357.08 601.45,357.27 601.95,357.45 602.45,357.63 602.95,357.81 603.46,357.99 603.96,358.17 604.47,358.35 604.97,358.53 605.48,358.71 605.99,358.88 606.49,359.06 607,359.23 607.51,359.41 608.02,359.58 608.53,359.76 609.04,359.93 609.55,360.1 610.07,360.28 610.58,360.45 611.09,360.62 611.61,360.79 612.12,360.97 612.64,361.14 613.16,361.32 613.68,361.49 614.19,361.66 614.71,361.84 615.23,362.01 615.75,362.19 616.27,362.36 616.79,362.54 617.32,362.72 617.84,362.89 618.36,363.07 618.89,363.24 619.41,363.42 619.94,363.6 620.47,363.78 620.99,363.95 621.52,364.13 622.05,364.31 622.58,364.49 623.11,364.66 623.64,364.84 624.17,365.02 624.7,365.2 625.24,365.38 625.77,365.56 626.31,365.74 626.84,365.92 627.38,366.1 627.91,366.28 628.45,366.46 628.99,366.64 629.53,366.82 630.07,367.01 630.61,367.19 631.15,367.37 631.69,367.55 632.23,367.73 632.78,367.92 633.32,368.1 633.86,368.28 634.41,368.47 634.96,368.65 635.5,368.84 636.05,369.02 636.6,369.2 637.15,369.39 637.7,369.57 638.25,369.76 638.8,369.95 639.35,370.13 639.91,370.32 640.46,370.5 641.01,370.69 641.57,370.88 642.13,371.06 642.68,371.25 643.24,371.44 643.8,371.63 644.36,371.82 644.92,372 645.48,372.19 646.04,372.38 646.6,372.57 647.16,372.76 647.73,372.95 648.29,373.14 648.86,373.33 649.42,373.52 649.99,373.71 650.56,373.9 651.13,374.09 651.7,374.29 652.27,374.48 652.84,374.67 653.41,374.86 653.98,375.05 654.56,375.25 655.13,375.44 655.71,375.63 656.28,375.83 656.86,376.02 657.44,376.22 658.01,376.41 658.59,376.61 659.17,376.8 659.75,377 660.33,377.19 660.92,377.39 661.5,377.58 662.08,377.78 661.45,391.43 660.87,391.22 660.29,391.02 659.71,390.81 659.13,390.61 658.56,390.4 657.98,390.2 657.4,390 656.83,389.79 656.25,389.59 655.68,389.39 655.11,389.19 654.53,388.98 653.96,388.78 653.39,388.58 652.82,388.38 652.25,388.18 651.69,387.98 651.12,387.78 650.55,387.58 649.99,387.38 649.42,387.18 648.86,386.98 648.29,386.78 647.73,386.58 647.17,386.38 646.61,386.18 646.05,385.98 645.49,385.79 644.93,385.59 644.37,385.39 643.81,385.2 643.26,385 642.7,384.8 642.15,384.61 641.59,384.41 641.04,384.22 640.49,384.02 639.94,383.83 639.38,383.63 638.83,383.44 638.28,383.24 637.74,383.05 637.19,382.85 636.64,382.66 636.09,382.47 635.55,382.27 635,382.08 634.46,381.89 633.92,381.7 633.37,381.51 632.83,381.31 632.29,381.12 631.75,380.93 631.21,380.74 630.67,380.55 630.13,380.36 629.59,380.17 629.06,379.98 628.52,379.79 627.98,379.6 627.45,379.41 626.92,379.22 626.38,379.04 625.85,378.85 625.32,378.66 624.79,378.47 624.26,378.29 623.73,378.1 623.2,377.91 622.67,377.72 622.14,377.54 621.61,377.35 621.09,377.17 620.56,376.98 620.04,376.79 619.51,376.61 618.99,376.42 618.47,376.24 617.95,376.06 617.42,375.87 616.9,375.69 616.38,375.5 615.86,375.32 615.35,375.14 614.83,374.95 614.31,374.77 613.79,374.59 613.28,374.41 612.76,374.22 612.25,374.04 611.74,373.86 611.22,373.68 610.71,373.5 610.2,373.32 609.69,373.14 609.18,372.96 608.67,372.78 608.16,372.6 607.65,372.42 607.14,372.24 606.64,372.06 606.13,371.88 605.62,371.7 605.12,371.52 604.61,371.35 604.11,371.17 603.61,370.99 603.11,370.81 602.6,370.63 602.1,370.46 601.6,370.28 601.1,370.1 600.6,369.93 600.1,369.75 599.61,369.58 599.11,369.4 598.61,369.22 598.12,369.05 597.62,368.87 597.13,368.7 596.63,368.53 596.14,368.35 595.65,368.18 595.16,368 594.66,367.83 594.17,367.66 593.68,367.48 593.19,367.31 592.71,367.14 592.22,366.97 591.73,366.79 591.24,366.62 590.76,366.45 590.27,366.28 589.79,366.11 589.3,365.93 588.82,365.76 588.34,365.59 587.85,365.42 587.37,365.25 586.89,365.08 586.41,364.91 585.93,364.74 585.45,364.57 584.97,364.4 584.49,364.24 584.01,364.07 583.54,363.9 583.06,363.73 582.82,363.65 582.56,363.55 582.3,363.46 582.04,363.37 581.78,363.28 581.52,363.19 581.26,363.09 581,363 580.74,362.91 580.48,362.82 580.22,362.73 579.96,362.64 579.7,362.54 579.45,362.45 579.19,362.36 578.93,362.27 578.67,362.18 578.41,362.09 578.15,362 577.9,361.91 577.64,361.81 577.38,361.72 577.13,361.63 576.87,361.54 576.61,361.45 576.35,361.36 576.1,361.27 575.84,361.18 575.59,361.09 575.33,361 575.07,360.91 574.82,360.82 574.56,360.73 574.31,360.64 574.05,360.55 573.8,360.46 573.54,360.37 573.29,360.28 573.04,360.19 572.78,360.1 572.53,360.01 572.27,359.92 572.02,359.83 571.77,359.74 571.51,359.65 571.26,359.56 571.01,359.47 570.75,359.38 570.5,359.29 570.25,359.2 570,359.11 569.75,359.02 569.49,358.94 569.24,358.85 568.99,358.76 568.74,358.67 568.49,358.58 568.24,358.49 567.99,358.4 567.73,358.31 567.48,358.23 567.23,358.14 566.98,358.05 566.73,357.96 566.48,357.87 566.23,357.78 565.99,357.7 565.74,357.61 565.49,357.52 565.24,357.43 564.99,357.34 564.74,357.26 564.49,357.17 564.24,357.08 564,356.99 563.75,356.91 563.5,356.82 563.25,356.73 563,356.64 562.76,356.56 562.51,356.47 562.26,356.38 562.02,356.29 561.77,356.21 561.52,356.12 561.28,356.03 561.03,355.95 560.79,355.86 560.54,355.77 560.29,355.69 560.05,355.6 559.8,355.51 559.56,355.43 559.31,355.34 559.07,355.25 558.82,355.17 558.58,355.08 558.34,354.99 558.09,354.91 557.85,354.82 557.6,354.74 557.36,354.65 557.12,354.56 556.87,354.48 556.63,354.39 556.39,354.31 556.14,354.22 555.9,354.13 555.66,354.05 555.42,353.96" fill="#9a14ff" fill-opacity="0.16"/>
<polyline points="556.26,284.91 556.42,291.97 556.59,298.11 556.77,303.4 556.96,307.9 557.17,311.68 557.37,314.81 557.59,317.36 557.81,319.38 558.04,320.95 558.27,322.11 558.51,322.94 558.75,323.5 558.99,323.85 559.24,324.04 559.48,324.15 559.74,323.71 560.03,320.59 560.35,315.26 560.69,308.52 561.04,301.21 561.39,294.15 561.72,288.13 562.06,281.8 562.42,274.7 562.77,267.4 563.13,260.45 563.47,254.43 563.79,249.92 564.08,247.52 564.34,247.48 564.58,248.47 564.81,249.9 565.05,251.34 565.29,252.45 565.53,253.56 565.78,254.55 566.02,255.12 566.29,254.87 566.56,253.86 566.83,252.81 567.1,252.45 567.34,253.41 567.57,255.52 567.78,258.42 567.99,261.75 568.19,265.65 568.35,271.64 568.5,278.75 568.64,285.72 568.81,291.31 568.99,295.85 569.18,300.28 569.37,304.55 569.56,308.65 569.75,312.54 569.95,316.21 570.15,319.63 570.35,322.76 570.56,325.59 570.77,328.08 570.99,330.22 571.22,331.99 571.45,333.62 571.68,335.19 571.91,336.66 572.14,337.99 572.38,339.13 572.62,340.04 572.87,340.68 573.12,341.01 573.37,341.18 573.63,341.33 573.88,341.47 574.14,341.6 574.39,341.73 574.65,341.84 574.91,341.95 575.16,342.06 575.42,342.16 575.68,342.27 575.93,342.37 576.19,342.48 576.45,342.59 576.71,342.7 576.96,342.83 577.22,342.96 577.48,343.1 577.74,343.25 577.99,343.43 578.25,343.76 578.5,344.24 578.75,344.82 579,345.46 579.25,346.12 579.5,346.74 579.75,347.29 580,347.72 580.26,347.98 580.52,348.12 580.78,348.25 581.04,348.39 581.3,348.53 581.56,348.66 581.82,348.8 582.08,348.93 582.34,349.07 582.6,349.2 582.86,349.33 583.12,349.47 583.36,349.59 583.83,349.82 584.31,350.06 584.79,350.29 585.27,350.53 585.75,350.76 586.23,350.98 586.71,351.21 587.19,351.43 587.67,351.66 588.16,351.88 588.64,352.1 589.13,352.31 589.61,352.53 590.1,352.74 590.58,352.96 591.07,353.17 591.56,353.37 592.04,353.58 592.53,353.79 593.02,353.99 593.51,354.19 594,354.4 594.49,354.6 594.99,354.79 595.48,354.99 595.97,355.19 596.47,355.38 596.96,355.58 597.46,355.77 597.95,355.96 598.45,356.15 598.95,356.34 599.45,356.53 599.95,356.71 600.44,356.9 600.95,357.08 601.45,357.27 601.95,357.45 602.45,357.63 602.95,357.81 603.46,357.99 603.96,358.17 604.47,358.35 604.97,358.53 605.48,358.71 605.99,358.88 606.49,359.06 607,359.23 607.51,359.41 608.02,359.58 608.53,359.76 609.04,359.93 609.55,360.1 610.07,360.28 610.58,360.45 611.09,360.62 611.61,360.79 612.12,360.97 612.64,361.14 613.16,361.32 613.68,361.49 614.19,361.66 614.71,361.84 615.23,362.01 615.75,362.19 616.27,362.36 616.79,362.54 617.32,362.72 617.84,362.89 618.36,363.07 618.89,363.24 619.41,363.42 619.94,363.6 620.47,363.78 620.99,363.95 621.52,364.13 622.05,364.31 622.58,364.49 623.11,364.66 623.64,364.84 624.17,365.02 624.7,365.2 625.24,365.38 625.77,365.56 626.31,365.74 626.84,365.92 627.38,366.1 627.91,366.28 628.45,366.46 628.99,366.64 629.53,366.82 630.07,367.01 630.61,367.19 631.15,367.37 631.69,367.55 632.23,367.73 632.78,367.92 633.32,368.1 633.86,368.28 634.41,368.47 634.96,368.65 635.5,368.84 636.05,369.02 636.6,369.2 637.15,369.39 637.7,369.57 638.25,369.76 638.8,369.95 639.35,370.13 639.91,370.32 640.46,370.5 641.01,370.69 641.57,370.88 642.13,371.06 642.68,371.25 643.24,371.44 643.8,371.63 644.36,371.82 644.92,372 645.48,372.19 646.04,372.38 646.6,372.57 647.16,372.76 647.73,372.95 648.29,373.14 648.86,373.33 649.42,373.52 649.99,373.71 650.56,373.9 651.13,374.09 651.7,374.29 652.27,374.48 652.84,374.67 653.41,374.86 653.98,375.05 654.56,375.25 655.13,375.44 655.71,375.63 656.28,375.83 656.86,376.02 657.44,376.22 658.01,376.41 658.59,376.61 659.17,376.8 659.75,377 660.33,377.19 660.92,377.39 661.5,377.58 662.08,377.78" fill="none" stroke="#9a14ff" stroke-width="1.7" stroke-linejoin="round" stroke-linecap="round"/>
<polygon points="540.3,285.84 540.49,293.23 540.69,299.69 540.9,305.27 541.11,310.05 541.32,314.09 541.54,317.47 541.77,320.23 542,322.45 542.23,324.19 542.46,325.52 542.7,326.48 542.94,327.15 543.18,327.58 543.43,327.84 543.67,327.98 543.92,328.04 544.18,325.84 544.48,320.63 544.79,313.48 545.1,305.45 545.42,297.61 545.73,291 546.04,284.17 546.36,276.56 546.69,268.75 547.01,261.34 547.32,254.93 547.62,250.15 547.9,247.59 548.15,247.5 548.4,248.36 548.64,249.69 548.89,251.22 549.13,252.67 549.37,253.88 549.61,255.21 549.86,256.41 550.11,257.03 550.37,256.77 550.63,255.94 550.9,255.13 551.16,254.94 551.4,256.03 551.64,258.26 551.86,261.27 552.08,264.67 552.29,268.8 552.48,275.04 552.66,282.29 552.84,289.3 553.03,294.84 553.24,299.58 553.44,304.31 553.64,308.98 553.84,313.53 554.05,317.89 554.26,322.01 554.47,325.83 554.68,329.29 554.9,332.32 555.12,334.87 555.35,336.89 555.59,338.31 555.83,339.13 556.08,339.79 556.33,340.4 556.58,340.97 556.83,341.49 557.08,341.97 557.33,342.42 557.58,342.84 557.83,343.23 558.08,343.59 558.33,343.94 558.58,344.27 558.83,344.58 559.09,344.89 559.34,345.19 559.59,345.49 559.85,345.79 560.1,346.1 560.35,346.41 560.61,346.74 560.86,347.09 561.11,347.45 561.36,347.84 561.62,348.26 561.87,348.72 562.12,349.21 562.37,349.72 562.62,350.24 562.88,350.76 563.13,351.28 563.38,351.77 563.63,352.24 563.89,352.67 564.14,353.06 564.4,353.39 564.65,353.65 564.91,353.84 565.17,353.96 565.43,354.08 565.69,354.2 565.95,354.32 566.21,354.43 566.47,354.55 566.73,354.67 566.99,354.78 567.25,354.9 567.48,355.01 567.96,355.22 568.44,355.43 568.91,355.63 569.39,355.84 569.87,356.05 570.35,356.26 570.83,356.46 571.31,356.67 571.79,356.87 572.27,357.08 572.75,357.28 573.23,357.49 573.72,357.69 574.2,357.89 574.68,358.09 575.17,358.29 575.65,358.49 576.14,358.69 576.63,358.89 577.11,359.09 577.6,359.29 578.09,359.48 578.58,359.68 579.07,359.88 579.56,360.07 580.05,360.27 580.55,360.46 581.04,360.66 581.53,360.85 582.03,361.05 582.52,361.24 583.02,361.43 583.51,361.63 584.01,361.82 584.51,362.01 585.01,362.2 585.5,362.4 586,362.59 586.5,362.78 587.01,362.97 587.51,363.16 588.01,363.35 588.51,363.54 589.02,363.73 589.52,363.92 590.02,364.11 590.53,364.3 591.04,364.49 591.54,364.68 592.05,364.86 592.56,365.05 593.07,365.24 593.58,365.43 594.09,365.62 594.6,365.81 595.11,365.99 595.62,366.18 596.14,366.37 596.65,366.56 597.17,366.75 597.68,366.94 598.2,367.12 598.71,367.31 599.23,367.5 599.75,367.69 600.27,367.88 600.79,368.07 601.31,368.26 601.83,368.44 602.35,368.63 602.87,368.82 603.4,369.01 603.92,369.2 604.45,369.39 604.97,369.58 605.5,369.77 606.02,369.96 606.55,370.15 607.08,370.34 607.61,370.54 608.14,370.73 608.67,370.92 609.2,371.11 609.73,371.3 610.26,371.5 610.8,371.69 611.33,371.88 611.87,372.08 612.4,372.27 612.94,372.47 613.47,372.66 614.01,372.85 614.55,373.05 615.09,373.24 615.63,373.44 616.17,373.63 616.71,373.83 617.25,374.03 617.8,374.22 618.34,374.42 618.88,374.62 619.43,374.81 619.98,375.01 620.52,375.21 621.07,375.4 621.62,375.6 622.17,375.8 622.72,376 623.27,376.2 623.82,376.39 624.37,376.59 624.92,376.79 625.48,376.99 626.03,377.19 626.59,377.39 627.14,377.59 627.7,377.79 628.26,377.99 628.82,378.19 629.38,378.39 629.94,378.59 630.5,378.79 631.06,378.99 631.62,379.19 632.18,379.39 632.75,379.59 633.31,379.8 633.88,380 634.44,380.2 635.01,380.4 635.58,380.6 636.15,380.81 636.72,381.01 637.29,381.21 637.86,381.41 638.43,381.62 639,381.82 639.58,382.02 640.15,382.23 640.73,382.43 641.3,382.63 641.88,382.84 642.46,383.04 643.04,383.25 643.62,383.45 644.2,383.65 644.78,383.86 645.36,384.06 645.94,384.27 645.43,396.64 644.85,396.43 644.27,396.21 643.7,396 643.12,395.79 642.54,395.58 641.96,395.37 641.39,395.16 640.81,394.95 640.24,394.74 639.67,394.53 639.1,394.32 638.52,394.11 637.95,393.9 637.38,393.69 636.82,393.48 636.25,393.27 635.68,393.06 635.11,392.86 634.55,392.65 633.98,392.44 633.42,392.23 632.86,392.03 632.29,391.82 631.73,391.62 631.17,391.41 630.61,391.2 630.05,391 629.5,390.79 628.94,390.59 628.38,390.39 627.82,390.18 627.27,389.98 626.71,389.77 626.16,389.57 625.61,389.37 625.06,389.17 624.5,388.96 623.95,388.76 623.4,388.56 622.86,388.36 622.31,388.16 621.76,387.96 621.21,387.76 620.67,387.56 620.12,387.36 619.58,387.16 619.03,386.96 618.49,386.76 617.95,386.56 617.41,386.36 616.87,386.16 616.33,385.96 615.79,385.77 615.25,385.57 614.71,385.37 614.17,385.17 613.64,384.98 613.1,384.78 612.57,384.59 612.03,384.39 611.5,384.19 610.97,384 610.43,383.8 609.9,383.61 609.37,383.41 608.84,383.22 608.31,383.03 607.79,382.83 607.26,382.64 606.73,382.45 606.21,382.25 605.68,382.06 605.16,381.87 604.63,381.68 604.11,381.48 603.59,381.29 603.06,381.1 602.54,380.91 602.02,380.72 601.5,380.53 600.98,380.34 600.47,380.15 599.95,379.96 599.43,379.77 598.92,379.58 598.4,379.39 597.89,379.2 597.37,379.01 596.86,378.82 596.35,378.64 595.83,378.45 595.32,378.26 594.81,378.07 594.3,377.89 593.79,377.7 593.28,377.51 592.78,377.33 592.27,377.14 591.76,376.95 591.26,376.77 590.75,376.58 590.25,376.4 589.74,376.21 589.24,376.03 588.74,375.85 588.24,375.66 587.74,375.48 587.24,375.29 586.74,375.11 586.24,374.93 585.74,374.75 585.24,374.56 584.74,374.38 584.25,374.2 583.75,374.02 583.26,373.83 582.76,373.65 582.27,373.47 581.77,373.29 581.28,373.11 580.79,372.93 580.3,372.75 579.81,372.57 579.32,372.39 578.83,372.21 578.34,372.03 577.85,371.85 577.37,371.67 576.88,371.5 576.39,371.32 575.91,371.14 575.42,370.96 574.94,370.78 574.45,370.61 573.97,370.43 573.49,370.25 573.01,370.08 572.53,369.9 572.05,369.72 571.57,369.55 571.09,369.37 570.61,369.2 570.13,369.02 569.65,368.85 569.18,368.67 568.7,368.5 568.23,368.32 567.75,368.15 567.28,367.97 567.04,367.89 566.78,367.79 566.52,367.7 566.26,367.6 566,367.51 565.74,367.41 565.49,367.32 565.23,367.22 564.97,367.13 564.71,367.03 564.45,366.94 564.19,366.84 563.94,366.75 563.68,366.65 563.42,366.56 563.17,366.47 562.91,366.37 562.65,366.28 562.4,366.18 562.14,366.09 561.88,366 561.63,365.9 561.37,365.81 561.11,365.71 560.86,365.62 560.6,365.53 560.35,365.43 560.09,365.34 559.84,365.25 559.58,365.15 559.33,365.06 559.08,364.97 558.82,364.87 558.57,364.78 558.31,364.69 558.06,364.59 557.81,364.5 557.55,364.41 557.3,364.32 557.05,364.22 556.8,364.13 556.54,364.04 556.29,363.94 556.04,363.85 555.79,363.76 555.54,363.67 555.28,363.58 555.03,363.48 554.78,363.39 554.53,363.3 554.28,363.21 554.03,363.11 553.78,363.02 553.53,362.93 553.28,362.84 553.03,362.75 552.78,362.66 552.53,362.56 552.28,362.47 552.03,362.38 551.78,362.29 551.53,362.2 551.28,362.11 551.03,362.02 550.79,361.93 550.54,361.83 550.29,361.74 550.04,361.65 549.79,361.56 549.55,361.47 549.3,361.38 549.05,361.29 548.8,361.2 548.56,361.11 548.31,361.02 548.06,360.93 547.82,360.84 547.57,360.75 547.33,360.66 547.08,360.57 546.83,360.48 546.59,360.39 546.34,360.3 546.1,360.21 545.85,360.12 545.61,360.03 545.36,359.94 545.12,359.85 544.87,359.76 544.63,359.67 544.39,359.58 544.14,359.49 543.9,359.4 543.66,359.31 543.41,359.22 543.17,359.13 542.93,359.04 542.68,358.95 542.44,358.86 542.2,358.78 541.96,358.69 541.71,358.6 541.47,358.51 541.23,358.42 540.99,358.33 540.75,358.24 540.51,358.15 540.26,358.07 540.02,357.98 539.78,357.89" fill="#6a14ff" fill-opacity="0.16"/>
<polyline points="540.3,285.84 540.49,293.23 540.69,299.69 540.9,305.27 541.11,310.05 541.32,314.09 541.54,317.47 541.77,320.23 542,322.45 542.23,324.19 542.46,325.52 542.7,326.48 542.94,327.15 543.18,327.58 543.43,327.84 543.67,327.98 543.92,328.04 544.18,325.84 544.48,320.63 544.79,313.48 545.1,305.45 545.42,297.61 545.73,291 546.04,284.17 546.36,276.56 546.69,268.75 547.01,261.34 547.32,254.93 547.62,250.15 547.9,247.59 548.15,247.5 548.4,248.36 548.64,249.69 548.89,251.22 549.13,252.67 549.37,253.88 549.61,255.21 549.86,256.41 550.11,257.03 550.37,256.77 550.63,255.94 550.9,255.13 551.16,254.94 551.4,256.03 551.64,258.26 551.86,261.27 552.08,264.67 552.29,268.8 552.48,275.04 552.66,282.29 552.84,289.3 553.03,294.84 553.24,299.58 553.44,304.31 553.64,308.98 553.84,313.53 554.05,317.89 554.26,322.01 554.47,325.83 554.68,329.29 554.9,332.32 555.12,334.87 555.35,336.89 555.59,338.31 555.83,339.13 556.08,339.79 556.33,340.4 556.58,340.97 556.83,341.49 557.08,341.97 557.33,342.42 557.58,342.84 557.83,343.23 558.08,343.59 558.33,343.94 558.58,344.27 558.83,344.58 559.09,344.89 559.34,345.19 559.59,345.49 559.85,345.79 560.1,346.1 560.35,346.41 560.61,346.74 560.86,347.09 561.11,347.45 561.36,347.84 561.62,348.26 561.87,348.72 562.12,349.21 562.37,349.72 562.62,350.24 562.88,350.76 563.13,351.28 563.38,351.77 563.63,352.24 563.89,352.67 564.14,353.06 564.4,353.39 564.65,353.65 564.91,353.84 565.17,353.96 565.43,354.08 565.69,354.2 565.95,354.32 566.21,354.43 566.47,354.55 566.73,354.67 566.99,354.78 567.25,354.9 567.48,355.01 567.96,355.22 568.44,355.43 568.91,355.63 569.39,355.84 569.87,356.05 570.35,356.26 570.83,356.46 571.31,356.67 571.79,356.87 572.27,357.08 572.75,357.28 573.23,357.49 573.72,357.69 574.2,357.89 574.68,358.09 575.17,358.29 575.65,358.49 576.14,358.69 576.63,358.89 577.11,359.09 577.6,359.29 578.09,359.48 578.58,359.68 579.07,359.88 579.56,360.07 580.05,360.27 580.55,360.46 581.04,360.66 581.53,360.85 582.03,361.05 582.52,361.24 583.02,361.43 583.51,361.63 584.01,361.82 584.51,362.01 585.01,362.2 585.5,362.4 586,362.59 586.5,362.78 587.01,362.97 587.51,363.16 588.01,363.35 588.51,363.54 589.02,363.73 589.52,363.92 590.02,364.11 590.53,364.3 591.04,364.49 591.54,364.68 592.05,364.86 592.56,365.05 593.07,365.24 593.58,365.43 594.09,365.62 594.6,365.81 595.11,365.99 595.62,366.18 596.14,366.37 596.65,366.56 597.17,366.75 597.68,366.94 598.2,367.12 598.71,367.31 599.23,367.5 599.75,367.69 600.27,367.88 600.79,368.07 601.31,368.26 601.83,368.44 602.35,368.63 602.87,368.82 603.4,369.01 603.92,369.2 604.45,369.39 604.97,369.58 605.5,369.77 606.02,369.96 606.55,370.15 607.08,370.34 607.61,370.54 608.14,370.73 608.67,370.92 609.2,371.11 609.73,371.3 610.26,371.5 610.8,371.69 611.33,371.88 611.87,372.08 612.4,372.27 612.94,372.47 613.47,372.66 614.01,372.85 614.55,373.05 615.09,373.24 615.63,373.44 616.17,373.63 616.71,373.83 617.25,374.03 617.8,374.22 618.34,374.42 618.88,374.62 619.43,374.81 619.98,375.01 620.52,375.21 621.07,375.4 621.62,375.6 622.17,375.8 622.72,376 623.27,376.2 623.82,376.39 624.37,376.59 624.92,376.79 625.48,376.99 626.03,377.19 626.59,377.39 627.14,377.59 627.7,377.79 628.26,377.99 628.82,378.19 629.38,378.39 629.94,378.59 630.5,378.79 631.06,378.99 631.62,379.19 632.18,379.39 632.75,379.59 633.31,379.8 633.88,380 634.44,380.2 635.01,380.4 635.58,380.6 636.15,380.81 636.72,381.01 637.29,381.21 637.86,381.41 638.43,381.62 639,381.82 639.58,382.02 640.15,382.23 640.73,382.43 641.3,382.63 641.88,382.84 642.46,383.04 643.04,383.25 643.62,383.45 644.2,383.65 644.78,383.86 645.36,384.06 645.94,384.27" fill="none" stroke="#6a14ff" stroke-width="1.7" stroke-linejoin="round" stroke-linecap="round"/>
<polygon points="525.34,325.48 525.58,326.43 525.82,327.27 526.06,328.02 526.31,328.67 526.55,329.24 526.79,329.74 527.04,330.16 527.28,330.52 527.52,330.82 527.77,331.08 528.01,331.28 528.26,331.45 528.5,331.59 528.75,331.71 529,331.81 529.24,331.9 529.49,331.74 529.75,328.61 530.02,322.59 530.3,314.8 530.58,306.37 530.87,298.46 531.15,291.79 531.43,284.34 531.72,276.28 532.01,268.27 532.3,261.02 532.58,255.25 532.85,251.66 533.11,250.89 533.36,251.48 533.61,252.58 533.86,253.94 534.11,255.34 534.36,256.54 534.61,257.62 534.86,258.76 535.11,259.63 535.37,259.88 535.63,259.5 535.89,258.81 536.15,258.12 536.41,257.75 536.66,258.37 536.91,260.63 537.14,263.91 537.38,267.58 537.6,273.02 537.81,280.24 538.02,287.97 538.23,294.96 538.45,300.57 538.67,306.11 538.89,311.63 539.11,317.04 539.33,322.24 539.55,327.14 539.77,331.67 539.99,335.71 540.22,339.2 540.46,342.04 540.7,344.15 540.94,345.71 541.18,347.19 541.43,348.55 541.67,349.78 541.92,350.83 542.17,351.69 542.42,352.31 542.67,352.66 542.92,352.81 543.18,352.94 543.43,353.07 543.69,353.21 543.94,353.34 544.2,353.47 544.46,353.6 544.71,353.72 544.97,353.85 545.22,353.98 545.48,354.1 545.74,354.23 545.99,354.35 546.25,354.47 546.51,354.6 546.76,354.72 547.02,354.84 547.28,354.96 547.54,355.08 547.79,355.19 548.05,355.31 548.31,355.43 548.57,355.54 548.83,355.66 549.09,355.77 549.35,355.89 549.61,356 549.86,356.11 550.12,356.23 550.38,356.34 550.64,356.45 550.9,356.56 551.17,356.67 551.43,356.78 551.69,356.89 551.95,357 552.21,357.1 552.47,357.21 552.73,357.32 552.97,357.41 553.44,357.6 553.92,357.79 554.39,357.98 554.87,358.17 555.34,358.35 555.82,358.54 556.3,358.72 556.78,358.91 557.26,359.09 557.74,359.27 558.22,359.45 558.7,359.63 559.18,359.81 559.66,359.99 560.14,360.17 560.63,360.35 561.11,360.53 561.6,360.71 562.08,360.89 562.57,361.07 563.05,361.25 563.54,361.43 564.03,361.62 564.52,361.8 565.01,361.98 565.5,362.16 565.99,362.35 566.48,362.53 566.97,362.72 567.46,362.91 567.96,363.1 568.45,363.29 568.95,363.48 569.44,363.67 569.94,363.87 570.43,364.06 570.93,364.26 571.43,364.46 571.93,364.67 572.42,364.87 572.92,365.08 573.42,365.29 573.93,365.5 574.43,365.71 574.93,365.93 575.43,366.15 575.94,366.37 576.44,366.6 576.94,366.82 577.45,367.05 577.96,367.29 578.46,367.53 578.97,367.77 579.48,368.01 579.99,368.26 580.49,368.51 581,368.77 581.51,369.03 582.02,369.52 582.52,370.26 583.02,371.14 583.52,372.04 584.02,372.86 584.53,373.49 585.04,373.82 585.56,374.04 586.07,374.26 586.59,374.48 587.11,374.7 587.63,374.91 588.15,375.13 588.67,375.35 589.19,375.56 589.71,375.78 590.23,375.99 590.76,376.21 591.28,376.42 591.81,376.63 592.33,376.84 592.86,377.05 593.39,377.26 593.91,377.47 594.44,377.68 594.97,377.89 595.5,378.1 596.03,378.31 596.56,378.52 597.1,378.72 597.63,378.93 598.16,379.14 598.7,379.34 599.23,379.55 599.77,379.75 600.31,379.96 600.84,380.16 601.38,380.37 601.92,380.57 602.46,380.77 603,380.98 603.55,381.18 604.09,381.38 604.63,381.59 605.18,381.79 605.72,381.99 606.27,382.19 606.81,382.4 607.36,382.6 607.91,382.8 608.46,383 609.01,383.2 609.56,383.41 610.11,383.61 610.66,383.81 611.21,384.01 611.76,384.21 612.32,384.41 612.87,384.6 613.43,384.8 613.99,385 614.55,385.19 615.1,385.38 615.66,385.58 616.22,385.77 616.78,385.96 617.35,386.15 617.91,386.34 618.47,386.53 619.04,386.72 619.6,386.9 620.17,387.09 620.74,387.28 621.3,387.46 621.87,387.65 622.44,387.83 623.01,388.01 623.58,388.2 624.16,388.38 624.73,388.56 625.3,388.74 625.88,388.92 626.46,389.1 627.03,389.28 627.61,389.46 628.19,389.64 628.77,389.82 629.35,390 629.93,390.18 630.51,390.35 631.09,390.53 630.69,401.44 630.12,401.22 629.54,401 628.96,400.78 628.38,400.56 627.81,400.34 627.23,400.12 626.66,399.9 626.08,399.69 625.51,399.47 624.94,399.25 624.37,399.03 623.8,398.82 623.23,398.6 622.66,398.39 622.09,398.17 621.53,397.96 620.96,397.74 620.4,397.53 619.83,397.31 619.27,397.1 618.71,396.88 618.14,396.67 617.58,396.46 617.02,396.25 616.46,396.03 615.9,395.82 615.35,395.61 614.79,395.4 614.23,395.19 613.68,394.98 613.12,394.77 612.57,394.56 612.02,394.35 611.46,394.14 610.91,393.93 610.36,393.72 609.81,393.51 609.26,393.3 608.71,393.09 608.17,392.88 607.62,392.68 607.07,392.47 606.53,392.26 605.98,392.06 605.44,391.85 604.9,391.64 604.36,391.44 603.81,391.23 603.27,391.03 602.73,390.82 602.19,390.62 601.66,390.41 601.12,390.21 600.58,390 600.05,389.8 599.51,389.6 598.98,389.39 598.44,389.19 597.91,388.99 597.38,388.79 596.84,388.59 596.31,388.38 595.78,388.18 595.25,387.98 594.73,387.78 594.2,387.58 593.67,387.38 593.14,387.18 592.62,386.98 592.09,386.78 591.57,386.58 591.05,386.38 590.52,386.19 590,385.99 589.48,385.79 588.96,385.59 588.44,385.39 587.92,385.2 587.4,385 586.88,384.8 586.37,384.61 585.85,384.41 585.33,384.22 584.82,384.02 584.3,383.83 583.79,383.63 583.28,383.44 582.77,383.24 582.25,383.05 581.74,382.85 581.23,382.66 580.72,382.47 580.22,382.27 579.71,382.08 579.2,381.89 578.69,381.7 578.19,381.5 577.68,381.31 577.18,381.12 576.68,380.93 576.17,380.74 575.67,380.55 575.17,380.36 574.67,380.17 574.17,379.98 573.67,379.79 573.17,379.6 572.67,379.41 572.17,379.22 571.68,379.03 571.18,378.84 570.68,378.65 570.19,378.47 569.69,378.28 569.2,378.09 568.71,377.9 568.22,377.72 567.72,377.53 567.23,377.34 566.74,377.16 566.25,376.97 565.76,376.79 565.28,376.6 564.79,376.42 564.3,376.23 563.81,376.05 563.33,375.86 562.84,375.68 562.36,375.49 561.88,375.31 561.39,375.13 560.91,374.94 560.43,374.76 559.95,374.58 559.47,374.4 558.99,374.21 558.51,374.03 558.03,373.85 557.55,373.67 557.07,373.49 556.6,373.31 556.12,373.13 555.64,372.94 555.17,372.76 554.69,372.58 554.22,372.4 553.75,372.22 553.28,372.05 552.8,371.87 552.57,371.78 552.31,371.68 552.05,371.58 551.79,371.48 551.53,371.38 551.27,371.28 551.01,371.18 550.75,371.09 550.49,370.99 550.23,370.89 549.97,370.79 549.71,370.69 549.46,370.6 549.2,370.5 548.94,370.4 548.68,370.3 548.42,370.2 548.17,370.11 547.91,370.01 547.65,369.91 547.39,369.81 547.14,369.72 546.88,369.62 546.62,369.52 546.37,369.42 546.11,369.33 545.86,369.23 545.6,369.13 545.35,369.03 545.09,368.94 544.83,368.84 544.58,368.74 544.32,368.65 544.07,368.55 543.82,368.45 543.56,368.36 543.31,368.26 543.05,368.17 542.8,368.07 542.55,367.97 542.29,367.88 542.04,367.78 541.79,367.68 541.53,367.59 541.28,367.49 541.03,367.4 540.78,367.3 540.53,367.21 540.27,367.11 540.02,367.01 539.77,366.92 539.52,366.82 539.27,366.73 539.02,366.63 538.77,366.54 538.52,366.44 538.27,366.35 538.02,366.25 537.77,366.16 537.52,366.06 537.27,365.97 537.02,365.87 536.77,365.78 536.52,365.68 536.27,365.59 536.02,365.49 535.77,365.4 535.52,365.31 535.27,365.21 535.03,365.12 534.78,365.02 534.53,364.93 534.28,364.84 534.04,364.74 533.79,364.65 533.54,364.55 533.29,364.46 533.05,364.37 532.8,364.27 532.55,364.18 532.31,364.09 532.06,363.99 531.82,363.9 531.57,363.81 531.33,363.71 531.08,363.62 530.84,363.53 530.59,363.43 530.35,363.34 530.1,363.25 529.86,363.16 529.61,363.06 529.37,362.97 529.12,362.88 528.88,362.78 528.64,362.69 528.39,362.6 528.15,362.51 527.91,362.42 527.66,362.32 527.42,362.23 527.18,362.14 526.94,362.05 526.69,361.95 526.45,361.86 526.21,361.77 525.97,361.68 525.73,361.59 525.49,361.5 525.24,361.4" fill="#2850ff" fill-opacity="0.16"/>
<polyline points="525.34,325.48 525.58,326.43 525.82,327.27 526.06,328.02 526.31,328.67 526.55,329.24 526.79,329.74 527.04,330.16 527.28,330.52 527.52,330.82 527.77,331.08 528.01,331.28 528.26,331.45 528.5,331.59 528.75,331.71 529,331.81 529.24,331.9 529.49,331.74 529.75,328.61 530.02,322.59 530.3,314.8 530.58,306.37 530.87,298.46 531.15,291.79 531.43,284.34 531.72,276.28 532.01,268.27 532.3,261.02 532.58,255.25 532.85,251.66 533.11,250.89 533.36,251.48 533.61,252.58 533.86,253.94 534.11,255.34 534.36,256.54 534.61,257.62 534.86,258.76 535.11,259.63 535.37,259.88 535.63,259.5 535.89,258.81 536.15,258.12 536.41,257.75 536.66,258.37 536.91,260.63 537.14,263.91 537.38,267.58 537.6,273.02 537.81,280.24 538.02,287.97 538.23,294.96 538.45,300.57 538.67,306.11 538.89,311.63 539.11,317.04 539.33,322.24 539.55,327.14 539.77,331.67 539.99,335.71 540.22,339.2 540.46,342.04 540.7,344.15 540.94,345.71 541.18,347.19 541.43,348.55 541.67,349.78 541.92,350.83 542.17,351.69 542.42,352.31 542.67,352.66 542.92,352.81 543.18,352.94 543.43,353.07 543.69,353.21 543.94,353.34 544.2,353.47 544.46,353.6 544.71,353.72 544.97,353.85 545.22,353.98 545.48,354.1 545.74,354.23 545.99,354.35 546.25,354.47 546.51,354.6 546.76,354.72 547.02,354.84 547.28,354.96 547.54,355.08 547.79,355.19 548.05,355.31 548.31,355.43 548.57,355.54 548.83,355.66 549.09,355.77 549.35,355.89 549.61,356 549.86,356.11 550.12,356.23 550.38,356.34 550.64,356.45 550.9,356.56 551.17,356.67 551.43,356.78 551.69,356.89 551.95,357 552.21,357.1 552.47,357.21 552.73,357.32 552.97,357.41 553.44,357.6 553.92,357.79 554.39,357.98 554.87,358.17 555.34,358.35 555.82,358.54 556.3,358.72 556.78,358.91 557.26,359.09 557.74,359.27 558.22,359.45 558.7,359.63 559.18,359.81 559.66,359.99 560.14,360.17 560.63,360.35 561.11,360.53 561.6,360.71 562.08,360.89 562.57,361.07 563.05,361.25 563.54,361.43 564.03,361.62 564.52,361.8 565.01,361.98 565.5,362.16 565.99,362.35 566.48,362.53 566.97,362.72 567.46,362.91 567.96,363.1 568.45,363.29 568.95,363.48 569.44,363.67 569.94,363.87 570.43,364.06 570.93,364.26 571.43,364.46 571.93,364.67 572.42,364.87 572.92,365.08 573.42,365.29 573.93,365.5 574.43,365.71 574.93,365.93 575.43,366.15 575.94,366.37 576.44,366.6 576.94,366.82 577.45,367.05 577.96,367.29 578.46,367.53 578.97,367.77 579.48,368.01 579.99,368.26 580.49,368.51 581,368.77 581.51,369.03 582.02,369.52 582.52,370.26 583.02,371.14 583.52,372.04 584.02,372.86 584.53,373.49 585.04,373.82 585.56,374.04 586.07,374.26 586.59,374.48 587.11,374.7 587.63,374.91 588.15,375.13 588.67,375.35 589.19,375.56 589.71,375.78 590.23,375.99 590.76,376.21 591.28,376.42 591.81,376.63 592.33,376.84 592.86,377.05 593.39,377.26 593.91,377.47 594.44,377.68 594.97,377.89 595.5,378.1 596.03,378.31 596.56,378.52 597.1,378.72 597.63,378.93 598.16,379.14 598.7,379.34 599.23,379.55 599.77,379.75 600.31,379.96 600.84,380.16 601.38,380.37 601.92,380.57 602.46,380.77 603,380.98 603.55,381.18 604.09,381.38 604.63,381.59 605.18,381.79 605.72,381.99 606.27,382.19 606.81,382.4 607.36,382.6 607.91,382.8 608.46,383 609.01,383.2 609.56,383.41 610.11,383.61 610.66,383.81 611.21,384.01 611.76,384.21 612.32,384.41 612.87,384.6 613.43,384.8 613.99,385 614.55,385.19 615.1,385.38 615.66,385.58 616.22,385.77 616.78,385.96 617.35,386.15 617.91,386.34 618.47,386.53 619.04,386.72 619.6,386.9 620.17,387.09 620.74,387.28 621.3,387.46 621.87,387.65 622.44,387.83 623.01,388.01 623.58,388.2 624.16,388.38 624.73,388.56 625.3,388.74 625.88,388.92 626.46,389.1 627.03,389.28 627.61,389.46 628.19,389.64 628.77,389.82 629.35,390 629.93,390.18 630.51,390.35 631.09,390.53" fill="none" stroke="#2850ff" stroke-width="1.7" stroke-linejoin="round" stroke-linecap="round"/>
<polygon points="512.27,292.84 512.52,300.76 512.78,307.68 513.03,313.69 513.28,318.85 513.53,323.23 513.78,326.9 514.02,329.93 514.27,332.39 514.52,334.33 514.76,335.82 515,336.92 515.25,337.7 515.49,338.21 515.74,338.53 515.98,338.71 516.23,338.82 516.47,337.67 516.71,333.14 516.96,326.17 517.21,317.77 517.45,309.01 517.7,300.95 517.95,294.24 518.2,286.92 518.46,279.04 518.71,271.16 518.97,263.85 519.22,257.69 519.48,253.26 519.74,251.15 519.99,251.34 520.24,252.33 520.5,253.75 520.75,255.3 521,256.67 521.25,257.94 521.51,259.32 521.76,260.38 522.02,260.67 522.27,260.18 522.53,259.29 522.79,258.4 523.04,257.92 523.3,258.59 523.55,261.03 523.8,264.57 524.05,268.53 524.29,274.41 524.53,282.17 524.76,290.36 525,297.51 525.24,302.88 525.48,308 525.72,312.96 525.96,317.72 526.21,322.23 526.45,326.45 526.69,330.33 526.93,333.81 527.18,336.85 527.42,339.4 527.67,341.42 527.91,343.05 528.16,344.62 528.41,346.09 528.66,347.45 528.91,348.66 529.16,349.7 529.41,350.52 529.66,351.12 529.91,351.45 530.17,351.59 530.42,351.72 530.68,351.86 530.93,351.99 531.18,352.12 531.44,352.25 531.69,352.38 531.95,352.51 532.2,352.64 532.46,352.77 532.71,352.89 532.97,353.02 533.23,353.15 533.48,353.27 533.74,353.39 534,353.52 534.25,353.64 534.51,353.76 534.77,353.88 535.02,354 535.28,354.12 535.54,354.23 535.8,354.35 536.05,354.47 536.31,354.58 536.57,354.7 536.83,354.81 537.09,354.93 537.35,355.04 537.61,355.15 537.87,355.27 538.13,355.38 538.39,355.49 538.65,355.6 538.91,355.71 539.17,355.82 539.43,355.93 539.69,356.03 539.92,356.13 540.39,356.33 540.87,356.52 541.34,356.71 541.82,356.9 542.29,357.09 542.77,357.27 543.24,357.46 543.72,357.65 544.2,357.83 544.67,358.02 545.15,358.2 545.63,358.38 546.11,358.57 546.59,358.75 547.07,358.93 547.56,359.11 548.04,359.29 548.52,359.48 549.01,359.66 549.49,359.84 549.98,360.02 550.46,360.21 550.95,360.39 551.43,360.57 551.92,360.76 552.41,360.94 552.9,361.13 553.39,361.32 553.88,361.51 554.37,361.69 554.86,361.89 555.36,362.08 555.85,362.27 556.34,362.47 556.84,362.66 557.33,362.86 557.83,363.06 558.32,363.26 558.82,363.47 559.32,363.67 559.82,363.88 560.32,364.09 560.82,364.3 561.32,364.52 561.82,364.74 562.32,364.96 562.82,365.18 563.32,365.41 563.83,365.64 564.33,365.87 564.84,366.1 565.34,366.34 565.85,366.58 566.36,366.83 566.86,367.08 567.37,367.33 567.88,367.59 568.39,367.85 568.9,368.16 569.41,368.65 569.91,369.29 570.41,370.03 570.92,370.83 571.42,371.65 571.93,372.46 572.43,373.27 572.93,374.22 573.43,375.27 573.94,376.36 574.44,377.44 574.94,378.45 575.45,379.35 575.96,380.08 576.47,380.58 576.99,380.89 577.51,381.18 578.03,381.47 578.55,381.74 579.08,382.01 579.6,382.27 580.12,382.52 580.65,382.76 581.18,382.99 581.7,383.21 582.23,383.42 582.76,383.63 583.29,383.83 583.82,384.03 584.35,384.23 584.88,384.43 585.42,384.64 585.95,384.84 586.48,385.04 587.02,385.25 587.56,385.45 588.09,385.65 588.63,385.86 589.17,386.06 589.71,386.26 590.25,386.47 590.79,386.67 591.33,386.88 591.87,387.08 592.41,387.29 592.96,387.49 593.5,387.7 594.05,387.9 594.59,388.11 595.14,388.31 595.69,388.52 596.24,388.73 596.79,388.93 597.34,389.14 597.89,389.34 598.44,389.55 598.99,389.76 599.55,389.96 600.1,390.17 600.65,390.37 601.21,390.58 601.77,390.79 602.32,390.99 602.88,391.2 603.44,391.4 604,391.61 604.56,391.82 605.12,392.02 605.69,392.23 606.25,392.43 606.81,392.64 607.38,392.84 607.94,393.05 608.51,393.25 609.08,393.46 609.65,393.66 610.22,393.87 610.79,394.07 611.36,394.28 611.93,394.48 612.5,394.69 613.07,394.89 613.65,395.1 614.22,395.3 614.8,395.5 615.38,395.71 615.95,395.91 616.53,396.11 617.11,396.31 617.69,396.52 617.39,405.76 616.82,405.54 616.24,405.31 615.66,405.09 615.09,404.86 614.51,404.64 613.94,404.41 613.37,404.19 612.79,403.96 612.22,403.74 611.65,403.51 611.08,403.29 610.52,403.07 609.95,402.85 609.38,402.62 608.81,402.4 608.25,402.18 607.68,401.96 607.12,401.74 606.56,401.52 606,401.3 605.43,401.08 604.87,400.86 604.31,400.64 603.76,400.42 603.2,400.2 602.64,399.99 602.08,399.77 601.53,399.55 600.97,399.33 600.42,399.12 599.87,398.9 599.31,398.68 598.76,398.47 598.21,398.25 597.66,398.04 597.11,397.82 596.57,397.61 596.02,397.39 595.47,397.18 594.92,396.96 594.38,396.75 593.84,396.54 593.29,396.32 592.75,396.11 592.21,395.9 591.67,395.69 591.12,395.48 590.59,395.26 590.05,395.05 589.51,394.84 588.97,394.63 588.43,394.42 587.9,394.21 587.36,394 586.83,393.79 586.3,393.58 585.76,393.37 585.23,393.17 584.7,392.96 584.17,392.75 583.64,392.54 583.11,392.34 582.58,392.13 582.05,391.92 581.53,391.72 581,391.51 580.48,391.3 579.95,391.1 579.43,390.89 578.9,390.69 578.38,390.48 577.86,390.28 577.34,390.08 576.82,389.87 576.3,389.67 575.78,389.47 575.26,389.26 574.75,389.06 574.23,388.86 573.71,388.66 573.2,388.45 572.68,388.25 572.17,388.05 571.66,387.85 571.14,387.65 570.63,387.45 570.12,387.25 569.61,387.05 569.1,386.85 568.59,386.65 568.09,386.45 567.58,386.25 567.07,386.06 566.57,385.86 566.06,385.66 565.56,385.46 565.05,385.26 564.55,385.07 564.05,384.87 563.55,384.67 563.04,384.48 562.54,384.28 562.04,384.09 561.55,383.89 561.05,383.7 560.55,383.5 560.05,383.31 559.56,383.11 559.06,382.92 558.57,382.72 558.07,382.53 557.58,382.34 557.09,382.14 556.59,381.95 556.1,381.76 555.61,381.57 555.12,381.37 554.63,381.18 554.14,380.99 553.66,380.8 553.17,380.61 552.68,380.42 552.2,380.23 551.71,380.04 551.23,379.85 550.74,379.66 550.26,379.47 549.77,379.28 549.29,379.09 548.81,378.9 548.33,378.71 547.85,378.53 547.37,378.34 546.89,378.15 546.41,377.96 545.94,377.78 545.46,377.59 544.98,377.4 544.51,377.22 544.03,377.03 543.56,376.85 543.08,376.66 542.61,376.47 542.14,376.29 541.67,376.1 541.19,375.92 540.72,375.74 540.25,375.55 539.78,375.37 539.55,375.28 539.29,375.17 539.03,375.07 538.77,374.97 538.51,374.87 538.26,374.77 538,374.67 537.74,374.57 537.48,374.47 537.22,374.37 536.97,374.26 536.71,374.16 536.45,374.06 536.2,373.96 535.94,373.86 535.68,373.76 535.43,373.66 535.17,373.56 534.91,373.46 534.66,373.36 534.4,373.26 534.15,373.16 533.89,373.06 533.64,372.96 533.38,372.86 533.13,372.76 532.87,372.66 532.62,372.56 532.36,372.46 532.11,372.36 531.86,372.26 531.6,372.16 531.35,372.06 531.1,371.97 530.84,371.87 530.59,371.77 530.34,371.67 530.08,371.57 529.83,371.47 529.58,371.37 529.33,371.27 529.08,371.17 528.83,371.08 528.57,370.98 528.32,370.88 528.07,370.78 527.82,370.68 527.57,370.58 527.32,370.49 527.07,370.39 526.82,370.29 526.57,370.19 526.32,370.09 526.07,370 525.82,369.9 525.57,369.8 525.32,369.7 525.07,369.61 524.83,369.51 524.58,369.41 524.33,369.31 524.08,369.22 523.83,369.12 523.58,369.02 523.34,368.93 523.09,368.83 522.84,368.73 522.6,368.64 522.35,368.54 522.1,368.44 521.86,368.35 521.61,368.25 521.36,368.15 521.12,368.06 520.87,367.96 520.63,367.86 520.38,367.77 520.13,367.67 519.89,367.58 519.64,367.48 519.4,367.38 519.16,367.29 518.91,367.19 518.67,367.1 518.42,367 518.18,366.91 517.94,366.81 517.69,366.72 517.45,366.62 517.21,366.53 516.96,366.43 516.72,366.33 516.48,366.24 516.23,366.14 515.99,366.05 515.75,365.96 515.51,365.86 515.27,365.77 515.02,365.67 514.78,365.58 514.54,365.48 514.3,365.39 514.06,365.29 513.82,365.2 513.58,365.1 513.34,365.01 513.1,364.92 512.86,364.82 512.62,364.73 512.38,364.63" fill="#1eaaff" fill-opacity="0.16"/>
<polyline points="512.27,292.84 512.52,300.76 512.78,307.68 513.03,313.69 513.28,318.85 513.53,323.23 513.78,326.9 514.02,329.93 514.27,332.39 514.52,334.33 514.76,335.82 515,336.92 515.25,337.7 515.49,338.21 515.74,338.53 515.98,338.71 516.23,338.82 516.47,337.67 516.71,333.14 516.96,326.17 517.21,317.77 517.45,309.01 517.7,300.95 517.95,294.24 518.2,286.92 518.46,279.04 518.71,271.16 518.97,263.85 519.22,257.69 519.48,253.26 519.74,251.15 519.99,251.34 520.24,252.33 520.5,253.75 520.75,255.3 521,256.67 521.25,257.94 521.51,259.32 521.76,260.38 522.02,260.67 522.27,260.18 522.53,259.29 522.79,258.4 523.04,257.92 523.3,258.59 523.55,261.03 523.8,264.57 524.05,268.53 524.29,274.41 524.53,282.17 524.76,290.36 525,297.51 525.24,302.88 525.48,308 525.72,312.96 525.96,317.72 526.21,322.23 526.45,326.45 526.69,330.33 526.93,333.81 527.18,336.85 527.42,339.4 527.67,341.42 527.91,343.05 528.16,344.62 528.41,346.09 528.66,347.45 528.91,348.66 529.16,349.7 529.41,350.52 529.66,351.12 529.91,351.45 530.17,351.59 530.42,351.72 530.68,351.86 530.93,351.99 531.18,352.12 531.44,352.25 531.69,352.38 531.95,352.51 532.2,352.64 532.46,352.77 532.71,352.89 532.97,353.02 533.23,353.15 533.48,353.27 533.74,353.39 534,353.52 534.25,353.64 534.51,353.76 534.77,353.88 535.02,354 535.28,354.12 535.54,354.23 535.8,354.35 536.05,354.47 536.31,354.58 536.57,354.7 536.83,354.81 537.09,354.93 537.35,355.04 537.61,355.15 537.87,355.27 538.13,355.38 538.39,355.49 538.65,355.6 538.91,355.71 539.17,355.82 539.43,355.93 539.69,356.03 539.92,356.13 540.39,356.33 540.87,356.52 541.34,356.71 541.82,356.9 542.29,357.09 542.77,357.27 543.24,357.46 543.72,357.65 544.2,357.83 544.67,358.02 545.15,358.2 545.63,358.38 546.11,358.57 546.59,358.75 547.07,358.93 547.56,359.11 548.04,359.29 548.52,359.48 549.01,359.66 549.49,359.84 549.98,360.02 550.46,360.21 550.95,360.39 551.43,360.57 551.92,360.76 552.41,360.94 552.9,361.13 553.39,361.32 553.88,361.51 554.37,361.69 554.86,361.89 555.36,362.08 555.85,362.27 556.34,362.47 556.84,362.66 557.33,362.86 557.83,363.06 558.32,363.26 558.82,363.47 559.32,363.67 559.82,363.88 560.32,364.09 560.82,364.3 561.32,364.52 561.82,364.74 562.32,364.96 562.82,365.18 563.32,365.41 563.83,365.64 564.33,365.87 564.84,366.1 565.34,366.34 565.85,366.58 566.36,366.83 566.86,367.08 567.37,367.33 567.88,367.59 568.39,367.85 568.9,368.16 569.41,368.65 569.91,369.29 570.41,370.03 570.92,370.83 571.42,371.65 571.93,372.46 572.43,373.27 572.93,374.22 573.43,375.27 573.94,376.36 574.44,377.44 574.94,378.45 575.45,379.35 575.96,380.08 576.47,380.58 576.99,380.89 577.51,381.18 578.03,381.47 578.55,381.74 579.08,382.01 579.6,382.27 580.12,382.52 580.65,382.76 581.18,382.99 581.7,383.21 582.23,383.42 582.76,383.63 583.29,383.83 583.82,384.03 584.35,384.23 584.88,384.43 585.42,384.64 585.95,384.84 586.48,385.04 587.02,385.25 587.56,385.45 588.09,385.65 588.63,385.86 589.17,386.06 589.71,386.26 590.25,386.47 590.79,386.67 591.33,386.88 591.87,387.08 592.41,387.29 592.96,387.49 593.5,387.7 594.05,387.9 594.59,388.11 595.14,388.31 595.69,388.52 596.24,388.73 596.79,388.93 597.34,389.14 597.89,389.34 598.44,389.55 598.99,389.76 599.55,389.96 600.1,390.17 600.65,390.37 601.21,390.58 601.77,390.79 602.32,390.99 602.88,391.2 603.44,391.4 604,391.61 604.56,391.82 605.12,392.02 605.69,392.23 606.25,392.43 606.81,392.64 607.38,392.84 607.94,393.05 608.51,393.25 609.08,393.46 609.65,393.66 610.22,393.87 610.79,394.07 611.36,394.28 611.93,394.48 612.5,394.69 613.07,394.89 613.65,395.1 614.22,395.3 614.8,395.5 615.38,395.71 615.95,395.91 616.53,396.11 617.11,396.31 617.69,396.52" fill="none" stroke="#1eaaff" stroke-width="1.7" stroke-linejoin="round" stroke-linecap="round"/>
<polygon points="496.57,296.16 496.86,302.94 497.14,308.81 497.42,313.86 497.69,318.14 497.95,321.73 498.21,324.69 498.47,327.09 498.73,328.99 498.98,330.44 499.23,331.52 499.48,332.28 499.72,332.78 499.97,333.09 500.21,333.26 500.46,333.37 500.7,332.42 500.93,328.81 501.14,323.26 501.36,316.54 501.57,309.43 501.78,302.75 502,296.77 502.22,289.72 502.43,281.98 502.65,274.26 502.87,267.3 503.1,261.83 503.34,258.61 503.59,258.15 503.84,258.79 504.1,259.84 504.36,261.11 504.62,262.36 504.87,263.37 505.13,264.31 505.39,265.25 505.65,265.89 505.9,265.99 506.15,265.65 506.41,265.08 506.66,264.47 506.91,264.01 507.17,263.9 507.43,264.95 507.69,267.27 507.95,270.43 508.22,274 508.49,278.22 508.76,284.59 509.03,291.84 509.3,298.47 509.57,303.09 509.83,306.71 510.09,310.24 510.35,313.67 510.62,316.98 510.88,320.14 511.14,323.14 511.4,325.97 511.65,328.58 511.91,330.98 512.17,333.13 512.43,335.02 512.68,336.62 512.94,337.93 513.19,338.91 513.45,339.54 513.7,339.81 513.96,339.93 514.21,340.05 514.47,340.16 514.72,340.28 514.98,340.4 515.24,340.51 515.49,340.63 515.75,340.74 516,340.85 516.26,340.97 516.52,341.08 516.77,341.19 517.03,341.3 517.29,341.41 517.55,341.52 517.8,341.63 518.06,341.74 518.32,341.85 518.58,341.96 518.84,342.07 519.09,342.17 519.35,342.28 519.61,342.39 519.87,342.49 520.13,342.6 520.39,342.7 520.65,342.81 520.91,342.91 521.17,343.01 521.43,343.12 521.69,343.22 521.95,343.32 522.21,343.43 522.47,343.53 522.74,343.63 523,343.73 523.26,343.83 523.52,343.93 523.78,344.03 524.05,344.13 524.31,344.23 524.54,344.32 525.01,344.5 525.49,344.67 525.96,344.85 526.43,345.02 526.91,345.2 527.38,345.37 527.86,345.54 528.33,345.72 528.81,345.89 529.29,346.06 529.77,346.23 530.24,346.4 530.72,346.57 531.2,346.73 531.69,346.89 532.17,347.05 532.65,347.2 533.13,347.36 533.62,347.51 534.1,347.65 534.58,347.8 535.07,347.94 535.56,348.08 536.04,348.23 536.53,348.36 537.02,348.5 537.51,348.64 538,348.77 538.49,348.91 538.98,349.04 539.47,349.17 539.97,349.31 540.46,349.44 540.95,349.57 541.45,349.7 541.94,349.84 542.44,349.97 542.94,350.1 543.43,350.24 543.93,350.37 544.43,350.51 544.93,350.64 545.43,350.78 545.93,350.92 546.43,351.06 546.94,351.2 547.44,351.35 547.94,351.49 548.45,351.64 548.96,351.79 549.46,351.95 549.97,352.1 550.48,352.26 550.98,352.43 551.49,352.59 552,352.76 552.51,352.93 553.02,353.11 553.54,353.29 554.05,353.57 554.56,353.99 555.07,354.54 555.58,355.21 556.08,356 556.59,356.9 557.09,357.96 557.58,360.56 558.05,364.45 558.52,368.48 559,371.61 559.48,374.45 559.96,377.28 560.45,379.83 560.94,381.81 561.44,382.95 561.96,383.31 562.48,383.63 563,383.95 563.52,384.25 564.04,384.54 564.56,384.83 565.09,385.1 565.61,385.37 566.13,385.64 566.66,385.89 567.19,386.14 567.71,386.38 568.24,386.62 568.77,386.85 569.3,387.08 569.83,387.3 570.36,387.51 570.89,387.72 571.43,387.93 571.96,388.14 572.5,388.35 573.03,388.56 573.57,388.77 574.11,388.98 574.64,389.19 575.18,389.4 575.72,389.61 576.26,389.82 576.8,390.03 577.34,390.24 577.89,390.45 578.43,390.66 578.97,390.87 579.52,391.09 580.06,391.3 580.61,391.51 581.16,391.72 581.71,391.93 582.26,392.14 582.81,392.34 583.36,392.55 583.91,392.76 584.46,392.97 585.01,393.18 585.57,393.39 586.12,393.59 586.68,393.8 587.24,394.01 587.79,394.21 588.35,394.42 588.91,394.62 589.47,394.83 590.03,395.03 590.59,395.24 591.16,395.44 591.72,395.64 592.28,395.84 592.85,396.04 593.41,396.24 593.98,396.44 594.55,396.64 595.12,396.83 595.69,397.03 596.26,397.23 596.83,397.42 597.4,397.61 597.98,397.81 598.55,398 599.12,398.19 599.7,398.38 600.28,398.57 600.85,398.75 601.43,398.94 602.01,399.12 601.69,410.87 601.12,410.64 600.54,410.41 599.97,410.17 599.39,409.94 598.82,409.71 598.25,409.47 597.68,409.24 597.11,409.01 596.54,408.78 595.97,408.55 595.4,408.32 594.84,408.09 594.27,407.86 593.71,407.63 593.14,407.4 592.58,407.17 592.02,406.94 591.45,406.71 590.89,406.48 590.33,406.26 589.77,406.03 589.22,405.8 588.66,405.58 588.1,405.35 587.55,405.12 586.99,404.9 586.44,404.67 585.88,404.45 585.33,404.22 584.78,404 584.23,403.78 583.68,403.55 583.13,403.33 582.58,403.11 582.03,402.88 581.48,402.66 580.94,402.44 580.39,402.22 579.85,402 579.31,401.78 578.76,401.55 578.22,401.33 577.68,401.11 577.14,400.89 576.6,400.68 576.06,400.46 575.52,400.24 574.98,400.02 574.45,399.8 573.91,399.58 573.38,399.37 572.84,399.15 572.31,398.93 571.78,398.72 571.24,398.5 570.71,398.28 570.18,398.07 569.65,397.85 569.12,397.64 568.6,397.42 568.07,397.21 567.54,397 567.02,396.78 566.49,396.57 565.97,396.36 565.44,396.14 564.92,395.93 564.4,395.72 563.88,395.51 563.36,395.29 562.84,395.08 562.32,394.87 561.8,394.66 561.28,394.45 560.76,394.24 560.25,394.03 559.73,393.82 559.22,393.61 558.7,393.4 558.19,393.2 557.68,392.99 557.17,392.78 556.66,392.57 556.15,392.36 555.64,392.16 555.13,391.95 554.62,391.74 554.11,391.54 553.61,391.33 553.1,391.13 552.59,390.92 552.09,390.72 551.59,390.51 551.08,390.31 550.58,390.1 550.08,389.9 549.58,389.7 549.08,389.49 548.58,389.29 548.08,389.09 547.58,388.88 547.08,388.68 546.59,388.48 546.09,388.28 545.59,388.08 545.1,387.88 544.61,387.67 544.11,387.47 543.62,387.27 543.13,387.07 542.64,386.87 542.15,386.68 541.66,386.48 541.17,386.28 540.68,386.08 540.19,385.88 539.7,385.68 539.22,385.48 538.73,385.29 538.25,385.09 537.76,384.89 537.28,384.7 536.79,384.5 536.31,384.3 535.83,384.11 535.35,383.91 534.87,383.72 534.39,383.52 533.91,383.33 533.43,383.13 532.95,382.94 532.47,382.75 532,382.55 531.52,382.36 531.05,382.17 530.57,381.97 530.1,381.78 529.63,381.59 529.15,381.4 528.68,381.2 528.21,381.01 527.74,380.82 527.27,380.63 526.8,380.44 526.33,380.25 525.86,380.06 525.39,379.87 524.93,379.68 524.46,379.49 524.23,379.39 523.97,379.29 523.71,379.18 523.45,379.08 523.19,378.97 522.93,378.87 522.67,378.76 522.42,378.66 522.16,378.55 521.9,378.45 521.64,378.34 521.38,378.24 521.13,378.13 520.87,378.03 520.61,377.92 520.35,377.82 520.1,377.72 519.84,377.61 519.59,377.51 519.33,377.4 519.07,377.3 518.82,377.2 518.56,377.09 518.31,376.99 518.05,376.88 517.8,376.78 517.54,376.68 517.29,376.57 517.03,376.47 516.78,376.37 516.52,376.26 516.27,376.16 516.02,376.06 515.76,375.95 515.51,375.85 515.26,375.75 515,375.65 514.75,375.54 514.5,375.44 514.25,375.34 513.99,375.24 513.74,375.13 513.49,375.03 513.24,374.93 512.99,374.83 512.74,374.72 512.49,374.62 512.23,374.52 511.98,374.42 511.73,374.32 511.48,374.21 511.23,374.11 510.98,374.01 510.73,373.91 510.48,373.81 510.23,373.71 509.99,373.61 509.74,373.5 509.49,373.4 509.24,373.3 508.99,373.2 508.74,373.1 508.49,373 508.25,372.9 508,372.8 507.75,372.7 507.5,372.6 507.26,372.5 507.01,372.4 506.76,372.3 506.52,372.2 506.27,372.1 506.02,372 505.78,371.9 505.53,371.8 505.29,371.7 505.04,371.6 504.79,371.5 504.55,371.4 504.3,371.3 504.06,371.2 503.82,371.1 503.57,371 503.33,370.9 503.08,370.8 502.84,370.7 502.59,370.6 502.35,370.5 502.11,370.41 501.86,370.31 501.62,370.21 501.38,370.11 501.14,370.01 500.89,369.91 500.65,369.81 500.41,369.71 500.17,369.62 499.93,369.52 499.68,369.42 499.44,369.32 499.2,369.22 498.96,369.13 498.72,369.03 498.48,368.93 498.24,368.83 498,368.73 497.76,368.64 497.52,368.54 497.28,368.44 497.04,368.34" fill="#14e6e6" fill-opacity="0.16"/>
<polyline points="496.57,296.16 496.86,302.94 497.14,308.81 497.42,313.86 497.69,318.14 497.95,321.73 498.21,324.69 498.47,327.09 498.73,328.99 498.98,330.44 499.23,331.52 499.48,332.28 499.72,332.78 499.97,333.09 500.21,333.26 500.46,333.37 500.7,332.42 500.93,328.81 501.14,323.26 501.36,316.54 501.57,309.43 501.78,302.75 502,296.77 502.22,289.72 502.43,281.98 502.65,274.26 502.87,267.3 503.1,261.83 503.34,258.61 503.59,258.15 503.84,258.79 504.1,259.84 504.36,261.11 504.62,262.36 504.87,263.37 505.13,264.31 505.39,265.25 505.65,265.89 505.9,265.99 506.15,265.65 506.41,265.08 506.66,264.47 506.91,264.01 507.17,263.9 507.43,264.95 507.69,267.27 507.95,270.43 508.22,274 508.49,278.22 508.76,284.59 509.03,291.84 509.3,298.47 509.57,303.09 509.83,306.71 510.09,310.24 510.35,313.67 510.62,316.98 510.88,320.14 511.14,323.14 511.4,325.97 511.65,328.58 511.91,330.98 512.17,333.13 512.43,335.02 512.68,336.62 512.94,337.93 513.19,338.91 513.45,339.54 513.7,339.81 513.96,339.93 514.21,340.05 514.47,340.16 514.72,340.28 514.98,340.4 515.24,340.51 515.49,340.63 515.75,340.74 516,340.85 516.26,340.97 516.52,341.08 516.77,341.19 517.03,341.3 517.29,341.41 517.55,341.52 517.8,341.63 518.06,341.74 518.32,341.85 518.58,341.96 518.84,342.07 519.09,342.17 519.35,342.28 519.61,342.39 519.87,342.49 520.13,342.6 520.39,342.7 520.65,342.81 520.91,342.91 521.17,343.01 521.43,343.12 521.69,343.22 521.95,343.32 522.21,343.43 522.47,343.53 522.74,343.63 523,343.73 523.26,343.83 523.52,343.93 523.78,344.03 524.05,344.13 524.31,344.23 524.54,344.32 525.01,344.5 525.49,344.67 525.96,344.85 526.43,345.02 526.91,345.2 527.38,345.37 527.86,345.54 528.33,345.72 528.81,345.89 529.29,346.06 529.77,346.23 530.24,346.4 530.72,346.57 531.2,346.73 531.69,346.89 532.17,347.05 532.65,347.2 533.13,347.36 533.62,347.51 534.1,347.65 534.58,347.8 535.07,347.94 535.56,348.08 536.04,348.23 536.53,348.36 537.02,348.5 537.51,348.64 538,348.77 538.49,348.91 538.98,349.04 539.47,349.17 539.97,349.31 540.46,349.44 540.95,349.57 541.45,349.7 541.94,349.84 542.44,349.97 542.94,350.1 543.43,350.24 543.93,350.37 544.43,350.51 544.93,350.64 545.43,350.78 545.93,350.92 546.43,351.06 546.94,351.2 547.44,351.35 547.94,351.49 548.45,351.64 548.96,351.79 549.46,351.95 549.97,352.1 550.48,352.26 550.98,352.43 551.49,352.59 552,352.76 552.51,352.93 553.02,353.11 553.54,353.29 554.05,353.57 554.56,353.99 555.07,354.54 555.58,355.21 556.08,356 556.59,356.9 557.09,357.96 557.58,360.56 558.05,364.45 558.52,368.48 559,371.61 559.48,374.45 559.96,377.28 560.45,379.83 560.94,381.81 561.44,382.95 561.96,383.31 562.48,383.63 563,383.95 563.52,384.25 564.04,384.54 564.56,384.83 565.09,385.1 565.61,385.37 566.13,385.64 566.66,385.89 567.19,386.14 567.71,386.38 568.24,386.62 568.77,386.85 569.3,387.08 569.83,387.3 570.36,387.51 570.89,387.72 571.43,387.93 571.96,388.14 572.5,388.35 573.03,388.56 573.57,388.77 574.11,388.98 574.64,389.19 575.18,389.4 575.72,389.61 576.26,389.82 576.8,390.03 577.34,390.24 577.89,390.45 578.43,390.66 578.97,390.87 579.52,391.09 580.06,391.3 580.61,391.51 581.16,391.72 581.71,391.93 582.26,392.14 582.81,392.34 583.36,392.55 583.91,392.76 584.46,392.97 585.01,393.18 585.57,393.39 586.12,393.59 586.68,393.8 587.24,394.01 587.79,394.21 588.35,394.42 588.91,394.62 589.47,394.83 590.03,395.03 590.59,395.24 591.16,395.44 591.72,395.64 592.28,395.84 592.85,396.04 593.41,396.24 593.98,396.44 594.55,396.64 595.12,396.83 595.69,397.03 596.26,397.23 596.83,397.42 597.4,397.61 597.98,397.81 598.55,398 599.12,398.19 599.7,398.38 600.28,398.57 600.85,398.75 601.43,398.94 602.01,399.12" fill="none" stroke="#14e6e6" stroke-width="1.7" stroke-linejoin="round" stroke-linecap="round"/>
<polygon points="480.61,297.84 480.9,302.26 481.18,306.07 481.46,309.29 481.73,311.95 482,314.08 482.26,315.71 482.51,316.85 482.76,317.54 483.01,317.8 483.24,317.22 483.47,315.62 483.69,313.19 483.9,310.14 484.1,306.67 484.31,302.99 484.52,299.29 484.73,295.8 484.94,292.7 485.16,289.45 485.37,285.76 485.57,281.8 485.78,277.74 485.99,273.73 486.2,269.95 486.42,266.57 486.64,263.77 486.87,261.72 487.11,260.58 487.36,260.51 487.62,261.18 487.88,262.3 488.14,263.61 488.41,264.86 488.66,265.79 488.92,266.56 489.18,267.28 489.44,267.76 489.69,267.77 489.93,267.03 490.18,266.08 490.43,265.59 490.68,266.34 490.96,268.51 491.23,271.63 491.51,275.22 491.8,278.81 492.07,282.2 492.36,285.87 492.63,289.04 492.91,292.29 493.19,295.59 493.46,298.88 493.74,302.11 494.01,305.22 494.29,308.14 494.56,310.82 494.83,313.2 495.09,315.22 495.36,316.83 495.62,317.96 495.87,318.57 496.13,319 496.38,319.41 496.64,319.77 496.9,320.1 497.15,320.37 497.41,320.6 497.66,320.76 497.91,320.87 498.17,320.95 498.42,321.04 498.68,321.12 498.93,321.2 499.19,321.28 499.45,321.36 499.7,321.44 499.96,321.52 500.21,321.59 500.47,321.67 500.73,321.74 500.98,321.82 501.24,321.89 501.5,321.96 501.75,322.03 502.01,322.1 502.27,322.17 502.53,322.24 502.79,322.31 503.04,322.38 503.3,322.44 503.56,322.51 503.82,322.57 504.08,322.64 504.34,322.7 504.6,322.76 504.86,322.83 505.12,322.89 505.38,322.95 505.64,323.01 505.9,323.07 506.16,323.13 506.42,323.18 506.68,323.24 506.94,323.3 507.21,323.35 507.47,323.41 507.73,323.46 507.99,323.52 508.25,323.57 508.49,323.62 508.96,323.71 509.43,323.81 509.91,323.9 510.38,323.99 510.85,324.07 511.33,324.16 511.8,324.25 512.28,324.33 512.76,324.41 513.23,324.5 513.71,324.58 514.19,324.66 514.67,324.74 515.15,324.82 515.63,324.89 516.11,324.97 516.6,325.05 517.08,325.12 517.56,325.2 518.05,325.28 518.53,325.35 519.02,325.43 519.51,325.5 519.99,325.58 520.48,325.65 520.97,325.73 521.46,325.81 521.95,325.88 522.44,325.96 522.94,326.04 523.43,326.11 523.92,326.19 524.42,326.27 524.91,326.35 525.41,326.43 525.9,326.51 526.4,326.6 526.9,326.68 527.4,326.77 527.89,326.85 528.39,326.94 528.9,327.03 529.4,327.12 529.9,327.21 530.4,327.3 530.91,327.39 531.41,327.46 531.92,327.53 532.42,327.6 532.93,327.67 533.44,327.73 533.95,327.79 534.45,327.86 534.96,327.94 535.48,328.02 535.99,328.1 536.5,328.2 537.01,328.31 537.53,328.43 538.04,328.57 538.55,328.72 539.07,328.96 539.58,329.46 540.1,330.22 540.61,331.21 541.12,332.57 541.6,337.8 542.05,346.22 542.5,354.92 542.97,361.21 543.44,366.46 543.92,371.69 544.39,376.65 544.87,381.08 545.36,384.76 545.85,387.41 546.36,388.81 546.87,389.17 547.39,389.46 547.91,389.74 548.43,390.01 548.95,390.27 549.47,390.53 549.99,390.78 550.52,391.02 551.04,391.26 551.57,391.51 552.09,391.75 552.62,392 553.14,392.25 553.67,392.52 554.2,392.78 554.73,393.05 555.26,393.31 555.79,393.58 556.32,393.85 556.85,394.12 557.38,394.4 557.92,394.67 558.45,394.94 558.98,395.21 559.52,395.48 560.06,395.75 560.59,396.03 561.13,396.29 561.67,396.56 562.21,396.83 562.75,397.09 563.29,397.36 563.83,397.62 564.38,397.87 564.92,398.13 565.47,398.38 566.01,398.64 566.56,398.89 567.1,399.15 567.65,399.4 568.2,399.65 568.75,399.91 569.3,400.16 569.85,400.42 570.4,400.67 570.96,400.93 571.51,401.18 572.06,401.44 572.62,401.69 573.18,401.95 573.73,402.2 574.29,402.45 574.85,402.71 575.41,402.96 575.97,403.21 576.53,403.47 577.09,403.72 577.66,403.97 578.22,404.22 578.78,404.47 579.35,404.72 579.92,404.97 580.48,405.22 581.05,405.46 581.62,405.71 582.19,405.96 582.76,406.2 583.33,406.45 583.91,406.69 584.48,406.93 585.06,407.18 585.63,407.42 585.44,416.16 584.86,415.92 584.29,415.68 583.72,415.44 583.15,415.2 582.58,414.95 582.01,414.71 581.44,414.47 580.87,414.23 580.31,413.99 579.74,413.76 579.17,413.52 578.61,413.28 578.05,413.04 577.48,412.8 576.92,412.57 576.36,412.33 575.8,412.09 575.24,411.86 574.68,411.62 574.13,411.39 573.57,411.15 573.01,410.92 572.46,410.68 571.91,410.45 571.35,410.21 570.8,409.98 570.25,409.75 569.7,409.52 569.15,409.28 568.6,409.05 568.05,408.82 567.5,408.59 566.96,408.36 566.41,408.13 565.87,407.9 565.32,407.67 564.78,407.44 564.23,407.21 563.69,406.98 563.15,406.75 562.61,406.52 562.07,406.3 561.53,406.07 561,405.84 560.46,405.61 559.92,405.39 559.39,405.16 558.85,404.94 558.32,404.71 557.79,404.49 557.25,404.26 556.72,404.04 556.19,403.81 555.66,403.59 555.13,403.37 554.61,403.14 554.08,402.92 553.55,402.7 553.02,402.48 552.5,402.25 551.98,402.03 551.45,401.81 550.93,401.59 550.41,401.37 549.89,401.15 549.36,400.93 548.84,400.71 548.33,400.49 547.81,400.27 547.29,400.05 546.77,399.84 546.26,399.62 545.74,399.4 545.23,399.18 544.71,398.97 544.2,398.75 543.69,398.53 543.18,398.32 542.67,398.1 542.16,397.89 541.65,397.67 541.14,397.46 540.63,397.24 540.12,397.03 539.62,396.81 539.11,396.6 538.6,396.39 538.1,396.17 537.6,395.96 537.09,395.75 536.59,395.54 536.09,395.32 535.59,395.11 535.09,394.9 534.59,394.69 534.09,394.48 533.59,394.27 533.1,394.06 532.6,393.85 532.11,393.64 531.61,393.43 531.12,393.22 530.62,393.02 530.13,392.81 529.64,392.6 529.15,392.39 528.66,392.19 528.17,391.98 527.68,391.77 527.19,391.57 526.7,391.36 526.21,391.15 525.73,390.95 525.24,390.74 524.75,390.54 524.27,390.33 523.79,390.13 523.3,389.93 522.82,389.72 522.34,389.52 521.86,389.31 521.38,389.11 520.9,388.91 520.42,388.71 519.94,388.5 519.46,388.3 518.98,388.1 518.51,387.9 518.03,387.7 517.56,387.5 517.08,387.3 516.61,387.1 516.14,386.9 515.66,386.7 515.19,386.5 514.72,386.3 514.25,386.1 513.78,385.9 513.31,385.71 512.84,385.51 512.37,385.31 511.91,385.11 511.44,384.92 510.97,384.72 510.51,384.52 510.04,384.33 509.58,384.13 509.12,383.93 508.65,383.74 508.42,383.64 508.17,383.53 507.91,383.42 507.65,383.32 507.39,383.21 507.14,383.1 506.88,382.99 506.62,382.88 506.37,382.77 506.11,382.67 505.86,382.56 505.6,382.45 505.34,382.34 505.09,382.23 504.83,382.13 504.58,382.02 504.32,381.91 504.07,381.8 503.82,381.7 503.56,381.59 503.31,381.48 503.05,381.37 502.8,381.27 502.55,381.16 502.29,381.05 502.04,380.95 501.79,380.84 501.54,380.73 501.28,380.63 501.03,380.52 500.78,380.41 500.53,380.31 500.27,380.2 500.02,380.1 499.77,379.99 499.52,379.88 499.27,379.78 499.02,379.67 498.77,379.57 498.52,379.46 498.27,379.35 498.02,379.25 497.77,379.14 497.52,379.04 497.27,378.93 497.02,378.83 496.77,378.72 496.52,378.62 496.27,378.51 496.03,378.41 495.78,378.3 495.53,378.2 495.28,378.09 495.03,377.99 494.79,377.88 494.54,377.78 494.29,377.68 494.05,377.57 493.8,377.47 493.55,377.36 493.31,377.26 493.06,377.15 492.81,377.05 492.57,376.95 492.32,376.84 492.08,376.74 491.83,376.64 491.59,376.53 491.34,376.43 491.1,376.33 490.85,376.22 490.61,376.12 490.36,376.02 490.12,375.91 489.88,375.81 489.63,375.71 489.39,375.6 489.15,375.5 488.9,375.4 488.66,375.3 488.42,375.19 488.17,375.09 487.93,374.99 487.69,374.89 487.45,374.78 487.21,374.68 486.96,374.58 486.72,374.48 486.48,374.38 486.24,374.28 486,374.17 485.76,374.07 485.52,373.97 485.28,373.87 485.04,373.77 484.8,373.67 484.56,373.56 484.32,373.46 484.08,373.36 483.84,373.26 483.6,373.16 483.36,373.06 483.12,372.96 482.88,372.86 482.64,372.76 482.41,372.66 482.17,372.56 481.93,372.46 481.69,372.35 481.46,372.25" fill="#28e628" fill-opacity="0.16"/>
<polyline points="480.61,297.84 480.9,302.26 481.18,306.07 481.46,309.29 481.73,311.95 482,314.08 482.26,315.71 482.51,316.85 482.76,317.54 483.01,317.8 483.24,317.22 483.47,315.62 483.69,313.19 483.9,310.14 484.1,306.67 484.31,302.99 484.52,299.29 484.73,295.8 484.94,292.7 485.16,289.45 485.37,285.76 485.57,281.8 485.78,277.74 485.99,273.73 486.2,269.95 486.42,266.57 486.64,263.77 486.87,261.72 487.11,260.58 487.36,260.51 487.62,261.18 487.88,262.3 488.14,263.61 488.41,264.86 488.66,265.79 488.92,266.56 489.18,267.28 489.44,267.76 489.69,267.77 489.93,267.03 490.18,266.08 490.43,265.59 490.68,266.34 490.96,268.51 491.23,271.63 491.51,275.22 491.8,278.81 492.07,282.2 492.36,285.87 492.63,289.04 492.91,292.29 493.19,295.59 493.46,298.88 493.74,302.11 494.01,305.22 494.29,308.14 494.56,310.82 494.83,313.2 495.09,315.22 495.36,316.83 495.62,317.96 495.87,318.57 496.13,319 496.38,319.41 496.64,319.77 496.9,320.1 497.15,320.37 497.41,320.6 497.66,320.76 497.91,320.87 498.17,320.95 498.42,321.04 498.68,321.12 498.93,321.2 499.19,321.28 499.45,321.36 499.7,321.44 499.96,321.52 500.21,321.59 500.47,321.67 500.73,321.74 500.98,321.82 501.24,321.89 501.5,321.96 501.75,322.03 502.01,322.1 502.27,322.17 502.53,322.24 502.79,322.31 503.04,322.38 503.3,322.44 503.56,322.51 503.82,322.57 504.08,322.64 504.34,322.7 504.6,322.76 504.86,322.83 505.12,322.89 505.38,322.95 505.64,323.01 505.9,323.07 506.16,323.13 506.42,323.18 506.68,323.24 506.94,323.3 507.21,323.35 507.47,323.41 507.73,323.46 507.99,323.52 508.25,323.57 508.49,323.62 508.96,323.71 509.43,323.81 509.91,323.9 510.38,323.99 510.85,324.07 511.33,324.16 511.8,324.25 512.28,324.33 512.76,324.41 513.23,324.5 513.71,324.58 514.19,324.66 514.67,324.74 515.15,324.82 515.63,324.89 516.11,324.97 516.6,325.05 517.08,325.12 517.56,325.2 518.05,325.28 518.53,325.35 519.02,325.43 519.51,325.5 519.99,325.58 520.48,325.65 520.97,325.73 521.46,325.81 521.95,325.88 522.44,325.96 522.94,326.04 523.43,326.11 523.92,326.19 524.42,326.27 524.91,326.35 525.41,326.43 525.9,326.51 526.4,326.6 526.9,326.68 527.4,326.77 527.89,326.85 528.39,326.94 528.9,327.03 529.4,327.12 529.9,327.21 530.4,327.3 530.91,327.39 531.41,327.46 531.92,327.53 532.42,327.6 532.93,327.67 533.44,327.73 533.95,327.79 534.45,327.86 534.96,327.94 535.48,328.02 535.99,328.1 536.5,328.2 537.01,328.31 537.53,328.43 538.04,328.57 538.55,328.72 539.07,328.96 539.58,329.46 540.1,330.22 540.61,331.21 541.12,332.57 541.6,337.8 542.05,346.22 542.5,354.92 542.97,361.21 543.44,366.46 543.92,371.69 544.39,376.65 544.87,381.08 545.36,384.76 545.85,387.41 546.36,388.81 546.87,389.17 547.39,389.46 547.91,389.74 548.43,390.01 548.95,390.27 549.47,390.53 549.99,390.78 550.52,391.02 551.04,391.26 551.57,391.51 552.09,391.75 552.62,392 553.14,392.25 553.67,392.52 554.2,392.78 554.73,393.05 555.26,393.31 555.79,393.58 556.32,393.85 556.85,394.12 557.38,394.4 557.92,394.67 558.45,394.94 558.98,395.21 559.52,395.48 560.06,395.75 560.59,396.03 561.13,396.29 561.67,396.56 562.21,396.83 562.75,397.09 563.29,397.36 563.83,397.62 564.38,397.87 564.92,398.13 565.47,398.38 566.01,398.64 566.56,398.89 567.1,399.15 567.65,399.4 568.2,399.65 568.75,399.91 569.3,400.16 569.85,400.42 570.4,400.67 570.96,400.93 571.51,401.18 572.06,401.44 572.62,401.69 573.18,401.95 573.73,402.2 574.29,402.45 574.85,402.71 575.41,402.96 575.97,403.21 576.53,403.47 577.09,403.72 577.66,403.97 578.22,404.22 578.78,404.47 579.35,404.72 579.92,404.97 580.48,405.22 581.05,405.46 581.62,405.71 582.19,405.96 582.76,406.2 583.33,406.45 583.91,406.69 584.48,406.93 585.06,407.18 585.63,407.42" fill="none" stroke="#28e628" stroke-width="1.7" stroke-linejoin="round" stroke-linecap="round"/>
<polygon points="461.27,300.07 461.53,301.02 461.78,301.82 462.03,302.44 462.28,302.81 462.52,302.89 462.75,302.74 462.99,302.39 463.22,301.87 463.45,301.19 463.67,300.37 463.9,299.43 464.12,298.4 464.35,297.29 464.57,296.13 464.79,294.94 465.01,293.73 465.24,292.53 465.46,291.35 465.68,289.91 465.89,288.09 466.1,285.99 466.31,283.72 466.52,281.37 466.73,279.06 466.94,276.88 467.15,274.94 467.38,273.35 467.6,272.21 467.84,271.63 468.09,271.63 468.34,271.78 468.59,272.01 468.84,272.31 469.09,272.67 469.35,273.08 469.6,273.53 469.86,274.01 470.11,274.51 470.37,275.06 470.63,275.79 470.89,276.69 471.15,277.74 471.42,278.91 471.68,280.19 471.95,281.55 472.22,282.96 472.49,284.4 472.76,285.85 473.03,287.42 473.31,289.31 473.58,291.41 473.86,293.56 474.14,295.63 474.41,297.47 474.68,298.94 474.95,300.01 475.21,301.02 475.47,302 475.74,302.92 476,303.75 476.26,304.47 476.51,305.05 476.77,305.48 477.02,305.73 477.28,305.82 477.53,305.9 477.78,305.97 478.03,306.04 478.29,306.1 478.54,306.16 478.79,306.22 479.05,306.27 479.3,306.32 479.55,306.37 479.81,306.41 480.06,306.45 480.32,306.49 480.57,306.52 480.83,306.55 481.08,306.58 481.33,306.61 481.59,306.63 481.84,306.65 482.1,306.67 482.36,306.68 482.61,306.7 482.87,306.71 483.12,306.71 483.38,306.72 483.64,306.72 483.89,306.73 484.15,306.73 484.41,306.73 484.67,306.73 484.92,306.72 485.18,306.72 485.44,306.71 485.7,306.7 485.95,306.69 486.21,306.68 486.47,306.67 486.73,306.66 486.99,306.65 487.25,306.64 487.51,306.62 487.77,306.61 488.03,306.6 488.29,306.58 488.55,306.57 488.78,306.56 489.25,306.53 489.72,306.51 490.19,306.48 490.66,306.46 491.13,306.45 491.6,306.43 492.08,306.42 492.55,306.41 493.02,306.41 493.5,306.41 493.97,306.42 494.45,306.43 494.93,306.46 495.41,306.49 495.89,306.53 496.36,306.57 496.85,306.63 497.33,306.7 497.81,306.77 498.29,306.86 498.77,306.96 499.26,307.07 499.74,307.2 500.23,307.34 500.72,307.49 501.2,307.64 501.69,307.79 502.18,307.95 502.67,308.1 503.16,308.25 503.65,308.41 504.14,308.56 504.64,308.71 505.13,308.87 505.62,309.02 506.12,309.18 506.61,309.33 507.11,309.49 507.61,309.64 508.1,309.8 508.6,309.95 509.1,310.11 509.6,310.26 510.1,310.42 510.6,310.58 511.11,310.73 511.61,310.89 512.11,311.05 512.62,311.21 513.12,311.36 513.63,311.52 514.13,311.68 514.64,311.84 515.15,312 515.66,312.16 516.17,312.32 516.68,312.48 517.19,312.63 517.7,312.79 518.21,312.96 518.73,313.12 519.24,313.47 519.76,314.54 520.27,316.25 520.78,318.51 521.3,321.21 521.81,325.81 522.31,335 522.81,346.13 523.3,356.36 523.8,364.46 524.3,372.53 524.79,379.62 525.29,384.64 525.8,387.46 526.31,389.88 526.82,391.87 527.33,393.35 527.84,394.19 528.35,394.53 528.87,394.85 529.39,395.16 529.9,395.48 530.42,395.79 530.94,396.09 531.46,396.4 531.98,396.71 532.5,397.01 533.02,397.31 533.54,397.61 534.07,397.91 534.59,398.2 535.12,398.5 535.64,398.79 536.17,399.08 536.7,399.37 537.22,399.66 537.75,399.94 538.28,400.23 538.81,400.51 539.34,400.79 539.88,401.07 540.41,401.35 540.94,401.63 541.48,401.9 542.01,402.18 542.55,402.45 543.09,402.72 543.62,402.99 544.16,403.26 544.7,403.53 545.24,403.8 545.78,404.06 546.32,404.33 546.87,404.59 547.41,404.85 547.95,405.11 548.5,405.37 549.05,405.63 549.59,405.89 550.14,406.15 550.69,406.41 551.24,406.66 551.79,406.92 552.34,407.17 552.89,407.43 553.44,407.68 554,407.93 554.55,408.19 555.11,408.44 555.66,408.69 556.22,408.94 556.78,409.19 557.34,409.44 557.9,409.69 558.46,409.93 559.02,410.18 559.58,410.43 560.15,410.68 560.71,410.92 561.28,411.17 561.84,411.42 562.41,411.66 562.98,411.91 563.54,412.16 564.11,412.4 564.68,412.65 565.26,412.89 565.83,413.14 565.68,422.59 565.11,422.34 564.54,422.09 563.97,421.84 563.4,421.58 562.84,421.33 562.27,421.08 561.71,420.83 561.14,420.58 560.58,420.33 560.02,420.09 559.45,419.84 558.89,419.59 558.33,419.34 557.77,419.09 557.22,418.85 556.66,418.6 556.1,418.35 555.55,418.11 554.99,417.86 554.44,417.62 553.89,417.37 553.33,417.13 552.78,416.88 552.23,416.64 551.68,416.4 551.13,416.15 550.59,415.91 550.04,415.67 549.49,415.43 548.95,415.19 548.4,414.95 547.86,414.71 547.32,414.47 546.77,414.23 546.23,413.99 545.69,413.75 545.15,413.51 544.61,413.27 544.08,413.03 543.54,412.79 543,412.56 542.47,412.32 541.93,412.08 541.4,411.85 540.87,411.61 540.33,411.38 539.8,411.14 539.27,410.91 538.74,410.67 538.21,410.44 537.69,410.2 537.16,409.97 536.63,409.74 536.11,409.5 535.58,409.27 535.06,409.04 534.53,408.81 534.01,408.58 533.49,408.35 532.97,408.12 532.45,407.88 531.93,407.65 531.41,407.43 530.89,407.2 530.37,406.97 529.86,406.74 529.34,406.51 528.83,406.28 528.31,406.06 527.8,405.83 527.29,405.6 526.77,405.37 526.26,405.15 525.75,404.92 525.24,404.7 524.73,404.47 524.23,404.25 523.72,404.02 523.21,403.8 522.71,403.57 522.2,403.35 521.7,403.13 521.19,402.9 520.69,402.68 520.19,402.46 519.69,402.24 519.19,402.02 518.69,401.8 518.19,401.57 517.69,401.35 517.19,401.13 516.69,400.91 516.2,400.69 515.7,400.47 515.21,400.26 514.71,400.04 514.22,399.82 513.73,399.6 513.23,399.38 512.74,399.17 512.25,398.95 511.76,398.73 511.27,398.52 510.78,398.3 510.3,398.08 509.81,397.87 509.32,397.65 508.84,397.44 508.35,397.22 507.87,397.01 507.39,396.79 506.9,396.58 506.42,396.37 505.94,396.15 505.46,395.94 504.98,395.73 504.5,395.52 504.02,395.31 503.54,395.09 503.07,394.88 502.59,394.67 502.11,394.46 501.64,394.25 501.16,394.04 500.69,393.83 500.22,393.62 499.74,393.41 499.27,393.2 498.8,393 498.33,392.79 497.86,392.58 497.39,392.37 496.92,392.16 496.45,391.96 495.99,391.75 495.52,391.54 495.05,391.34 494.59,391.13 494.12,390.93 493.66,390.72 493.2,390.52 492.73,390.31 492.27,390.11 491.81,389.9 491.35,389.7 490.89,389.5 490.43,389.29 489.97,389.09 489.51,388.89 489.29,388.79 489.03,388.67 488.78,388.56 488.52,388.45 488.27,388.33 488.01,388.22 487.76,388.11 487.51,388 487.25,387.88 487,387.77 486.75,387.66 486.49,387.55 486.24,387.44 485.99,387.33 485.73,387.21 485.48,387.1 485.23,386.99 484.98,386.88 484.73,386.77 484.48,386.66 484.22,386.54 483.97,386.43 483.72,386.32 483.47,386.21 483.22,386.1 482.97,385.99 482.72,385.88 482.47,385.77 482.22,385.66 481.97,385.55 481.72,385.44 481.47,385.33 481.22,385.22 480.97,385.11 480.73,385 480.48,384.89 480.23,384.78 479.98,384.67 479.73,384.56 479.49,384.45 479.24,384.34 478.99,384.23 478.74,384.12 478.5,384.01 478.25,383.9 478,383.79 477.76,383.68 477.51,383.57 477.27,383.47 477.02,383.36 476.77,383.25 476.53,383.14 476.28,383.03 476.04,382.92 475.79,382.81 475.55,382.71 475.31,382.6 475.06,382.49 474.82,382.38 474.57,382.27 474.33,382.17 474.09,382.06 473.84,381.95 473.6,381.84 473.36,381.74 473.11,381.63 472.87,381.52 472.63,381.41 472.39,381.31 472.15,381.2 471.9,381.09 471.66,380.99 471.42,380.88 471.18,380.77 470.94,380.67 470.7,380.56 470.46,380.45 470.22,380.35 469.98,380.24 469.74,380.13 469.5,380.03 469.26,379.92 469.02,379.81 468.78,379.71 468.54,379.6 468.3,379.5 468.06,379.39 467.82,379.29 467.58,379.18 467.34,379.07 467.11,378.97 466.87,378.86 466.63,378.76 466.39,378.65 466.15,378.55 465.92,378.44 465.68,378.34 465.44,378.23 465.21,378.13 464.97,378.02 464.73,377.92 464.5,377.82 464.26,377.71 464.03,377.61 463.79,377.5 463.55,377.4 463.32,377.29 463.08,377.19 462.85,377.09 462.61,376.98" fill="#b4e614" fill-opacity="0.16"/>
<polyline points="461.27,300.07 461.53,301.02 461.78,301.82 462.03,302.44 462.28,302.81 462.52,302.89 462.75,302.74 462.99,302.39 463.22,301.87 463.45,301.19 463.67,300.37 463.9,299.43 464.12,298.4 464.35,297.29 464.57,296.13 464.79,294.94 465.01,293.73 465.24,292.53 465.46,291.35 465.68,289.91 465.89,288.09 466.1,285.99 466.31,283.72 466.52,281.37 466.73,279.06 466.94,276.88 467.15,274.94 467.38,273.35 467.6,272.21 467.84,271.63 468.09,271.63 468.34,271.78 468.59,272.01 468.84,272.31 469.09,272.67 469.35,273.08 469.6,273.53 469.86,274.01 470.11,274.51 470.37,275.06 470.63,275.79 470.89,276.69 471.15,277.74 471.42,278.91 471.68,280.19 471.95,281.55 472.22,282.96 472.49,284.4 472.76,285.85 473.03,287.42 473.31,289.31 473.58,291.41 473.86,293.56 474.14,295.63 474.41,297.47 474.68,298.94 474.95,300.01 475.21,301.02 475.47,302 475.74,302.92 476,303.75 476.26,304.47 476.51,305.05 476.77,305.48 477.02,305.73 477.28,305.82 477.53,305.9 477.78,305.97 478.03,306.04 478.29,306.1 478.54,306.16 478.79,306.22 479.05,306.27 479.3,306.32 479.55,306.37 479.81,306.41 480.06,306.45 480.32,306.49 480.57,306.52 480.83,306.55 481.08,306.58 481.33,306.61 481.59,306.63 481.84,306.65 482.1,306.67 482.36,306.68 482.61,306.7 482.87,306.71 483.12,306.71 483.38,306.72 483.64,306.72 483.89,306.73 484.15,306.73 484.41,306.73 484.67,306.73 484.92,306.72 485.18,306.72 485.44,306.71 485.7,306.7 485.95,306.69 486.21,306.68 486.47,306.67 486.73,306.66 486.99,306.65 487.25,306.64 487.51,306.62 487.77,306.61 488.03,306.6 488.29,306.58 488.55,306.57 488.78,306.56 489.25,306.53 489.72,306.51 490.19,306.48 490.66,306.46 491.13,306.45 491.6,306.43 492.08,306.42 492.55,306.41 493.02,306.41 493.5,306.41 493.97,306.42 494.45,306.43 494.93,306.46 495.41,306.49 495.89,306.53 496.36,306.57 496.85,306.63 497.33,306.7 497.81,306.77 498.29,306.86 498.77,306.96 499.26,307.07 499.74,307.2 500.23,307.34 500.72,307.49 501.2,307.64 501.69,307.79 502.18,307.95 502.67,308.1 503.16,308.25 503.65,308.41 504.14,308.56 504.64,308.71 505.13,308.87 505.62,309.02 506.12,309.18 506.61,309.33 507.11,309.49 507.61,309.64 508.1,309.8 508.6,309.95 509.1,310.11 509.6,310.26 510.1,310.42 510.6,310.58 511.11,310.73 511.61,310.89 512.11,311.05 512.62,311.21 513.12,311.36 513.63,311.52 514.13,311.68 514.64,311.84 515.15,312 515.66,312.16 516.17,312.32 516.68,312.48 517.19,312.63 517.7,312.79 518.21,312.96 518.73,313.12 519.24,313.47 519.76,314.54 520.27,316.25 520.78,318.51 521.3,321.21 521.81,325.81 522.31,335 522.81,346.13 523.3,356.36 523.8,364.46 524.3,372.53 524.79,379.62 525.29,384.64 525.8,387.46 526.31,389.88 526.82,391.87 527.33,393.35 527.84,394.19 528.35,394.53 528.87,394.85 529.39,395.16 529.9,395.48 530.42,395.79 530.94,396.09 531.46,396.4 531.98,396.71 532.5,397.01 533.02,397.31 533.54,397.61 534.07,397.91 534.59,398.2 535.12,398.5 535.64,398.79 536.17,399.08 536.7,399.37 537.22,399.66 537.75,399.94 538.28,400.23 538.81,400.51 539.34,400.79 539.88,401.07 540.41,401.35 540.94,401.63 541.48,401.9 542.01,402.18 542.55,402.45 543.09,402.72 543.62,402.99 544.16,403.26 544.7,403.53 545.24,403.8 545.78,404.06 546.32,404.33 546.87,404.59 547.41,404.85 547.95,405.11 548.5,405.37 549.05,405.63 549.59,405.89 550.14,406.15 550.69,406.41 551.24,406.66 551.79,406.92 552.34,407.17 552.89,407.43 553.44,407.68 554,407.93 554.55,408.19 555.11,408.44 555.66,408.69 556.22,408.94 556.78,409.19 557.34,409.44 557.9,409.69 558.46,409.93 559.02,410.18 559.58,410.43 560.15,410.68 560.71,410.92 561.28,411.17 561.84,411.42 562.41,411.66 562.98,411.91 563.54,412.16 564.11,412.4 564.68,412.65 565.26,412.89 565.83,413.14" fill="none" stroke="#b4e614" stroke-width="1.7" stroke-linejoin="round" stroke-linecap="round"/>
<polygon points="444.61,303.26 444.84,303.32 445.07,303.36 445.31,303.37 445.54,303.36 445.77,303.32 446,303.26 446.23,303.18 446.46,303.07 446.69,302.94 446.92,302.79 447.15,302.62 447.38,302.44 447.61,302.23 447.84,302.01 448.07,301.7 448.29,300.88 448.5,299.53 448.69,297.78 448.89,295.7 449.07,293.41 449.26,290.99 449.44,288.57 449.63,286.22 449.82,284.07 450.02,282.2 450.23,280.72 450.45,279.74 450.68,279.37 450.92,279.46 451.16,279.64 451.41,279.89 451.65,280.2 451.9,280.55 452.15,280.93 452.4,281.34 452.65,281.74 452.9,282.16 453.15,282.65 453.4,283.19 453.65,283.8 453.9,284.44 454.16,285.13 454.41,285.86 454.67,286.6 454.93,287.36 455.18,288.16 455.44,289.08 455.71,290.12 455.97,291.24 456.23,292.43 456.5,293.65 456.77,294.89 457.03,296.1 457.3,297.27 457.56,298.37 457.82,299.38 458.08,300.26 458.34,301 458.59,301.56 458.84,302.01 459.09,302.45 459.35,302.88 459.6,303.3 459.85,303.69 460.1,304.07 460.35,304.42 460.6,304.74 460.85,305.03 461.1,305.28 461.35,305.5 461.6,305.68 461.85,305.82 462.09,305.91 462.34,305.99 462.59,306.07 462.84,306.15 463.09,306.23 463.33,306.3 463.58,306.38 463.83,306.46 464.08,306.53 464.33,306.6 464.58,306.68 464.83,306.75 465.08,306.82 465.33,306.89 465.58,306.96 465.83,307.03 466.08,307.1 466.33,307.17 466.58,307.23 466.83,307.3 467.08,307.37 467.33,307.43 467.58,307.5 467.84,307.56 468.09,307.62 468.34,307.69 468.59,307.75 468.84,307.81 469.1,307.87 469.35,307.93 469.6,307.99 469.86,308.05 470.11,308.11 470.36,308.17 470.62,308.23 470.87,308.29 471.13,308.34 471.36,308.4 471.82,308.5 472.29,308.6 472.75,308.7 473.22,308.8 473.68,308.9 474.15,309 474.62,309.1 475.09,309.19 475.56,309.29 476.03,309.38 476.5,309.48 476.97,309.57 477.45,309.67 477.92,309.76 478.39,309.86 478.87,309.95 479.34,310.05 479.82,310.14 480.3,310.24 480.77,310.34 481.25,310.43 481.73,310.53 482.21,310.63 482.69,310.73 483.17,310.83 483.66,310.92 484.14,311.01 484.62,311.09 485.11,311.17 485.59,311.25 486.08,311.32 486.56,311.38 487.05,311.45 487.54,311.51 488.03,311.57 488.51,311.62 489,311.68 489.5,311.73 489.99,311.79 490.48,311.85 490.97,311.9 491.47,311.96 491.96,312.02 492.46,312.08 492.95,312.15 493.45,312.22 493.95,312.29 494.45,312.37 494.95,312.45 495.45,312.53 495.95,312.63 496.45,312.72 496.95,312.83 497.46,312.94 497.96,313.06 498.46,313.19 498.97,313.33 499.48,313.47 499.99,313.63 500.49,313.92 501.01,314.68 501.52,315.89 502.04,317.47 502.56,319.37 503.09,322.8 503.63,330.33 504.18,340.33 504.73,351 505.28,360.55 505.82,368.51 506.35,376.69 506.88,383.99 507.41,389.17 507.92,392.04 508.44,394.46 508.95,396.46 509.46,397.96 509.97,398.88 510.49,399.34 511,399.76 511.51,400.17 512.02,400.56 512.54,400.94 513.05,401.3 513.57,401.65 514.08,401.99 514.6,402.32 515.12,402.65 515.63,402.96 516.15,403.26 516.67,403.56 517.19,403.85 517.71,404.13 518.23,404.41 518.76,404.69 519.28,404.96 519.81,405.23 520.33,405.5 520.86,405.77 521.38,406.04 521.91,406.31 522.44,406.58 522.97,406.85 523.5,407.12 524.03,407.39 524.56,407.66 525.09,407.92 525.62,408.19 526.16,408.46 526.69,408.73 527.23,409 527.77,409.27 528.3,409.53 528.84,409.8 529.38,410.07 529.92,410.34 530.46,410.6 531,410.87 531.54,411.13 532.09,411.4 532.63,411.67 533.18,411.93 533.72,412.2 534.27,412.46 534.81,412.73 535.36,412.99 535.91,413.26 536.46,413.52 537.01,413.78 537.56,414.05 538.12,414.31 538.67,414.57 539.22,414.83 539.78,415.1 540.34,415.36 540.89,415.62 541.45,415.88 542.01,416.14 542.57,416.4 543.13,416.66 543.69,416.92 544.25,417.18 544.82,417.43 545.38,417.69 545.95,417.95 546.51,418.2 547.08,418.46 547.65,418.72 548.21,418.97 548.12,428.31 547.55,428.04 546.99,427.78 546.42,427.52 545.86,427.26 545.3,427 544.73,426.74 544.17,426.48 543.61,426.22 543.05,425.97 542.49,425.71 541.93,425.45 541.38,425.19 540.82,424.94 540.27,424.68 539.71,424.42 539.16,424.17 538.61,423.91 538.05,423.66 537.5,423.41 536.95,423.15 536.4,422.9 535.86,422.65 535.31,422.39 534.76,422.14 534.22,421.89 533.67,421.64 533.13,421.39 532.58,421.14 532.04,420.88 531.5,420.63 530.96,420.39 530.42,420.14 529.88,419.89 529.34,419.64 528.8,419.39 528.27,419.14 527.73,418.9 527.2,418.65 526.66,418.4 526.13,418.16 525.6,417.91 525.07,417.67 524.54,417.42 524.01,417.18 523.48,416.93 522.95,416.69 522.42,416.45 521.9,416.2 521.37,415.96 520.84,415.72 520.32,415.48 519.8,415.23 519.27,414.99 518.75,414.75 518.23,414.51 517.71,414.27 517.19,414.03 516.67,413.79 516.16,413.55 515.64,413.32 515.12,413.08 514.61,412.84 514.09,412.6 513.58,412.36 513.06,412.13 512.55,411.89 512.04,411.65 511.53,411.42 511.02,411.18 510.51,410.95 510,410.71 509.49,410.48 508.99,410.25 508.48,410.01 507.98,409.78 507.47,409.55 506.97,409.31 506.46,409.08 505.96,408.85 505.46,408.62 504.96,408.39 504.46,408.16 503.96,407.93 503.46,407.7 502.96,407.47 502.47,407.24 501.97,407.01 501.47,406.78 500.98,406.55 500.49,406.32 499.99,406.09 499.5,405.87 499.01,405.64 498.52,405.41 498.03,405.19 497.54,404.96 497.05,404.74 496.56,404.51 496.07,404.28 495.58,404.06 495.1,403.84 494.61,403.61 494.13,403.39 493.64,403.16 493.16,402.94 492.68,402.72 492.2,402.5 491.71,402.27 491.23,402.05 490.75,401.83 490.27,401.61 489.8,401.39 489.32,401.17 488.84,400.95 488.37,400.73 487.89,400.51 487.41,400.29 486.94,400.07 486.47,399.85 485.99,399.63 485.52,399.42 485.05,399.2 484.58,398.98 484.11,398.76 483.64,398.55 483.17,398.33 482.7,398.12 482.24,397.9 481.77,397.68 481.3,397.47 480.84,397.25 480.37,397.04 479.91,396.83 479.45,396.61 478.98,396.4 478.52,396.19 478.06,395.97 477.6,395.76 477.14,395.55 476.68,395.34 476.22,395.12 475.76,394.91 475.31,394.7 474.85,394.49 474.39,394.28 473.94,394.07 473.48,393.86 473.03,393.65 472.58,393.44 472.35,393.34 472.1,393.22 471.85,393.11 471.6,392.99 471.36,392.88 471.11,392.77 470.86,392.65 470.62,392.54 470.37,392.42 470.12,392.31 469.87,392.2 469.63,392.08 469.38,391.97 469.14,391.85 468.89,391.74 468.64,391.63 468.4,391.51 468.15,391.4 467.91,391.29 467.66,391.18 467.42,391.06 467.17,390.95 466.93,390.84 466.69,390.72 466.44,390.61 466.2,390.5 465.96,390.39 465.71,390.27 465.47,390.16 465.23,390.05 464.98,389.94 464.74,389.83 464.5,389.71 464.26,389.6 464.01,389.49 463.77,389.38 463.53,389.27 463.29,389.16 463.05,389.04 462.81,388.93 462.57,388.82 462.32,388.71 462.08,388.6 461.84,388.49 461.6,388.38 461.36,388.27 461.12,388.16 460.88,388.05 460.64,387.94 460.41,387.83 460.17,387.72 459.93,387.6 459.69,387.49 459.45,387.38 459.21,387.27 458.97,387.16 458.74,387.05 458.5,386.95 458.26,386.84 458.02,386.73 457.79,386.62 457.55,386.51 457.31,386.4 457.07,386.29 456.84,386.18 456.6,386.07 456.37,385.96 456.13,385.85 455.89,385.74 455.66,385.63 455.42,385.53 455.19,385.42 454.95,385.31 454.72,385.2 454.48,385.09 454.25,384.98 454.01,384.88 453.78,384.77 453.55,384.66 453.31,384.55 453.08,384.44 452.84,384.34 452.61,384.23 452.38,384.12 452.14,384.01 451.91,383.91 451.68,383.8 451.45,383.69 451.21,383.58 450.98,383.48 450.75,383.37 450.52,383.26 450.29,383.16 450.06,383.05 449.82,382.94 449.59,382.84 449.36,382.73 449.13,382.62 448.9,382.52 448.67,382.41 448.44,382.3 448.21,382.2 447.98,382.09 447.75,381.99 447.52,381.88 447.29,381.77 447.06,381.67 446.83,381.56 446.61,381.46 446.38,381.35" fill="#ffa014" fill-opacity="0.16"/>
<polyline points="444.61,303.26 444.84,303.32 445.07,303.36 445.31,303.37 445.54,303.36 445.77,303.32 446,303.26 446.23,303.18 446.46,303.07 446.69,302.94 446.92,302.79 447.15,302.62 447.38,302.44 447.61,302.23 447.84,302.01 448.07,301.7 448.29,300.88 448.5,299.53 448.69,297.78 448.89,295.7 449.07,293.41 449.26,290.99 449.44,288.57 449.63,286.22 449.82,284.07 450.02,282.2 450.23,280.72 450.45,279.74 450.68,279.37 450.92,279.46 451.16,279.64 451.41,279.89 451.65,280.2 451.9,280.55 452.15,280.93 452.4,281.34 452.65,281.74 452.9,282.16 453.15,282.65 453.4,283.19 453.65,283.8 453.9,284.44 454.16,285.13 454.41,285.86 454.67,286.6 454.93,287.36 455.18,288.16 455.44,289.08 455.71,290.12 455.97,291.24 456.23,292.43 456.5,293.65 456.77,294.89 457.03,296.1 457.3,297.27 457.56,298.37 457.82,299.38 458.08,300.26 458.34,301 458.59,301.56 458.84,302.01 459.09,302.45 459.35,302.88 459.6,303.3 459.85,303.69 460.1,304.07 460.35,304.42 460.6,304.74 460.85,305.03 461.1,305.28 461.35,305.5 461.6,305.68 461.85,305.82 462.09,305.91 462.34,305.99 462.59,306.07 462.84,306.15 463.09,306.23 463.33,306.3 463.58,306.38 463.83,306.46 464.08,306.53 464.33,306.6 464.58,306.68 464.83,306.75 465.08,306.82 465.33,306.89 465.58,306.96 465.83,307.03 466.08,307.1 466.33,307.17 466.58,307.23 466.83,307.3 467.08,307.37 467.33,307.43 467.58,307.5 467.84,307.56 468.09,307.62 468.34,307.69 468.59,307.75 468.84,307.81 469.1,307.87 469.35,307.93 469.6,307.99 469.86,308.05 470.11,308.11 470.36,308.17 470.62,308.23 470.87,308.29 471.13,308.34 471.36,308.4 471.82,308.5 472.29,308.6 472.75,308.7 473.22,308.8 473.68,308.9 474.15,309 474.62,309.1 475.09,309.19 475.56,309.29 476.03,309.38 476.5,309.48 476.97,309.57 477.45,309.67 477.92,309.76 478.39,309.86 478.87,309.95 479.34,310.05 479.82,310.14 480.3,310.24 480.77,310.34 481.25,310.43 481.73,310.53 482.21,310.63 482.69,310.73 483.17,310.83 483.66,310.92 484.14,311.01 484.62,311.09 485.11,311.17 485.59,311.25 486.08,311.32 486.56,311.38 487.05,311.45 487.54,311.51 488.03,311.57 488.51,311.62 489,311.68 489.5,311.73 489.99,311.79 490.48,311.85 490.97,311.9 491.47,311.96 491.96,312.02 492.46,312.08 492.95,312.15 493.45,312.22 493.95,312.29 494.45,312.37 494.95,312.45 495.45,312.53 495.95,312.63 496.45,312.72 496.95,312.83 497.46,312.94 497.96,313.06 498.46,313.19 498.97,313.33 499.48,313.47 499.99,313.63 500.49,313.92 501.01,314.68 501.52,315.89 502.04,317.47 502.56,319.37 503.09,322.8 503.63,330.33 504.18,340.33 504.73,351 505.28,360.55 505.82,368.51 506.35,376.69 506.88,383.99 507.41,389.17 507.92,392.04 508.44,394.46 508.95,396.46 509.46,397.96 509.97,398.88 510.49,399.34 511,399.76 511.51,400.17 512.02,400.56 512.54,400.94 513.05,401.3 513.57,401.65 514.08,401.99 514.6,402.32 515.12,402.65 515.63,402.96 516.15,403.26 516.67,403.56 517.19,403.85 517.71,404.13 518.23,404.41 518.76,404.69 519.28,404.96 519.81,405.23 520.33,405.5 520.86,405.77 521.38,406.04 521.91,406.31 522.44,406.58 522.97,406.85 523.5,407.12 524.03,407.39 524.56,407.66 525.09,407.92 525.62,408.19 526.16,408.46 526.69,408.73 527.23,409 527.77,409.27 528.3,409.53 528.84,409.8 529.38,410.07 529.92,410.34 530.46,410.6 531,410.87 531.54,411.13 532.09,411.4 532.63,411.67 533.18,411.93 533.72,412.2 534.27,412.46 534.81,412.73 535.36,412.99 535.91,413.26 536.46,413.52 537.01,413.78 537.56,414.05 538.12,414.31 538.67,414.57 539.22,414.83 539.78,415.1 540.34,415.36 540.89,415.62 541.45,415.88 542.01,416.14 542.57,416.4 543.13,416.66 543.69,416.92 544.25,417.18 544.82,417.43 545.38,417.69 545.95,417.95 546.51,418.2 547.08,418.46 547.65,418.72 548.21,418.97" fill="none" stroke="#ffa014" stroke-width="1.7" stroke-linejoin="round" stroke-linecap="round"/>
<polygon points="426.46,303.72 426.72,304.44 426.96,305.03 427.21,305.49 427.45,305.83 427.69,306.03 427.92,306.08 428.15,305.92 428.38,305.59 428.6,305.1 428.81,304.47 429.03,303.73 429.24,302.9 429.45,302 429.66,301.07 429.87,300.11 430.08,299.16 430.29,298.24 430.5,297.37 430.71,296.39 430.91,295.21 431.11,293.9 431.31,292.48 431.51,291.01 431.71,289.53 431.91,288.1 432.11,286.75 432.32,285.53 432.53,284.5 432.75,283.7 432.97,283.17 433.21,282.96 433.45,283.13 433.7,283.68 433.97,284.53 434.23,285.63 434.51,286.89 434.78,288.26 435.06,289.66 435.33,291.03 435.61,292.29 435.88,293.37 436.14,294.22 436.4,294.93 436.66,295.66 436.92,296.38 437.18,297.06 437.43,297.71 437.69,298.29 437.94,298.78 438.2,299.17 438.44,299.44 438.69,299.57 438.93,299.65 439.18,299.73 439.43,299.82 439.67,299.9 439.92,299.98 440.16,300.06 440.41,300.14 440.65,300.22 440.9,300.3 441.15,300.39 441.39,300.47 441.64,300.55 441.89,300.64 442.14,300.77 442.39,300.93 442.64,301.13 442.89,301.34 443.14,301.57 443.39,301.81 443.64,302.06 443.9,302.3 444.15,302.54 444.4,302.76 444.65,302.98 444.91,303.22 445.16,303.48 445.41,303.74 445.67,304.01 445.92,304.27 446.18,304.54 446.43,304.79 446.69,305.04 446.94,305.26 447.19,305.47 447.45,305.65 447.7,305.8 447.95,305.92 448.21,306 448.46,306.09 448.71,306.17 448.96,306.25 449.22,306.32 449.47,306.4 449.72,306.47 449.98,306.55 450.23,306.62 450.48,306.69 450.74,306.75 450.99,306.82 451.24,306.88 451.5,306.95 451.75,307.01 452.01,307.07 452.26,307.13 452.52,307.19 452.77,307.25 453.03,307.3 453.26,307.35 453.72,307.45 454.18,307.54 454.64,307.63 455.1,307.71 455.56,307.8 456.02,307.88 456.48,307.96 456.95,308.03 457.41,308.11 457.88,308.18 458.34,308.26 458.81,308.33 459.27,308.4 459.74,308.47 460.21,308.54 460.68,308.61 461.15,308.68 461.62,308.75 462.09,308.82 462.56,308.89 463.04,308.96 463.51,309.04 463.98,309.11 464.46,309.19 464.94,309.27 465.41,309.35 465.89,309.43 466.37,309.52 466.85,309.61 467.33,309.7 467.81,309.79 468.29,309.87 468.77,309.95 469.25,310.03 469.74,310.11 470.22,310.18 470.71,310.25 471.19,310.32 471.68,310.39 472.17,310.46 472.65,310.53 473.14,310.6 473.63,310.68 474.12,310.75 474.61,310.83 475.11,310.91 475.6,310.99 476.09,311.08 476.59,311.17 477.08,311.26 477.58,311.36 478.08,311.47 478.57,311.58 479.07,311.7 479.57,311.82 480.07,311.96 480.57,312.1 481.08,312.25 481.58,312.4 482.09,312.76 482.6,313.79 483.12,315.44 483.65,317.59 484.18,320.16 484.73,324.18 485.31,331.84 485.91,341.42 486.51,351.01 487.1,360.05 487.69,370.1 488.28,379.58 488.85,386.77 489.39,391.19 489.93,395.07 490.46,398.33 490.98,400.82 491.5,402.34 492.01,403.06 492.51,403.7 493.02,404.29 493.53,404.83 494.04,405.34 494.55,405.81 495.06,406.24 495.58,406.64 496.09,407.02 496.6,407.36 497.11,407.68 497.63,407.99 498.14,408.28 498.66,408.57 499.17,408.85 499.69,409.14 500.21,409.43 500.72,409.71 501.24,410 501.76,410.28 502.28,410.57 502.8,410.85 503.33,411.13 503.85,411.42 504.37,411.7 504.9,411.98 505.42,412.26 505.95,412.54 506.48,412.82 507.01,413.1 507.53,413.38 508.06,413.66 508.59,413.94 509.13,414.21 509.66,414.49 510.19,414.77 510.72,415.04 511.26,415.32 511.79,415.59 512.33,415.87 512.87,416.14 513.4,416.41 513.94,416.69 514.48,416.96 515.02,417.23 515.56,417.5 516.11,417.78 516.65,418.05 517.19,418.32 517.74,418.59 518.28,418.86 518.83,419.13 519.38,419.4 519.93,419.67 520.48,419.94 521.03,420.2 521.58,420.47 522.13,420.74 522.68,421.01 523.23,421.28 523.79,421.54 524.34,421.81 524.9,422.08 525.46,422.34 526.02,422.61 526.57,422.87 527.13,423.14 527.69,423.4 528.26,423.67 528.82,423.93 529.38,424.2 529.95,424.46 529.91,434.23 529.34,433.96 528.78,433.69 528.22,433.42 527.66,433.15 527.1,432.88 526.54,432.61 525.99,432.34 525.43,432.07 524.88,431.81 524.32,431.54 523.77,431.27 523.21,431.01 522.66,430.74 522.11,430.47 521.56,430.21 521.01,429.94 520.46,429.68 519.92,429.42 519.37,429.15 518.83,428.89 518.28,428.63 517.74,428.36 517.19,428.1 516.65,427.84 516.11,427.58 515.57,427.32 515.03,427.06 514.49,426.8 513.95,426.54 513.42,426.28 512.88,426.02 512.35,425.76 511.81,425.51 511.28,425.25 510.74,424.99 510.21,424.74 509.68,424.48 509.15,424.22 508.62,423.97 508.09,423.71 507.57,423.46 507.04,423.21 506.51,422.95 505.99,422.7 505.46,422.45 504.94,422.19 504.42,421.94 503.89,421.69 503.37,421.44 502.85,421.19 502.33,420.94 501.81,420.69 501.3,420.44 500.78,420.19 500.26,419.94 499.75,419.69 499.23,419.44 498.72,419.19 498.21,418.95 497.69,418.7 497.18,418.45 496.67,418.21 496.16,417.96 495.65,417.72 495.14,417.47 494.64,417.23 494.13,416.98 493.62,416.74 493.12,416.49 492.61,416.25 492.11,416.01 491.61,415.77 491.11,415.52 490.6,415.28 490.1,415.04 489.6,414.8 489.1,414.56 488.61,414.32 488.11,414.08 487.61,413.84 487.12,413.6 486.62,413.36 486.13,413.12 485.63,412.88 485.14,412.65 484.65,412.41 484.16,412.17 483.66,411.94 483.17,411.7 482.68,411.46 482.2,411.23 481.71,410.99 481.22,410.76 480.74,410.52 480.25,410.29 479.76,410.05 479.28,409.82 478.8,409.59 478.31,409.36 477.83,409.12 477.35,408.89 476.87,408.66 476.39,408.43 475.91,408.2 475.43,407.97 474.96,407.74 474.48,407.51 474,407.28 473.53,407.05 473.05,406.82 472.58,406.59 472.1,406.36 471.63,406.13 471.16,405.91 470.69,405.68 470.22,405.45 469.75,405.23 469.28,405 468.81,404.77 468.34,404.55 467.88,404.32 467.41,404.1 466.94,403.87 466.48,403.65 466.01,403.42 465.55,403.2 465.09,402.98 464.63,402.76 464.16,402.53 463.7,402.31 463.24,402.09 462.78,401.87 462.32,401.65 461.87,401.42 461.41,401.2 460.95,400.98 460.5,400.76 460.04,400.54 459.58,400.32 459.13,400.11 458.68,399.89 458.22,399.67 457.77,399.45 457.32,399.23 456.87,399.02 456.42,398.8 455.97,398.58 455.52,398.36 455.07,398.15 454.85,398.04 454.6,397.92 454.35,397.8 454.1,397.68 453.85,397.56 453.6,397.44 453.35,397.32 453.11,397.2 452.86,397.08 452.61,396.96 452.36,396.84 452.11,396.72 451.87,396.6 451.62,396.48 451.37,396.36 451.13,396.25 450.88,396.13 450.63,396.01 450.39,395.89 450.14,395.77 449.89,395.65 449.65,395.53 449.4,395.42 449.16,395.3 448.91,395.18 448.67,395.06 448.42,394.94 448.18,394.83 447.94,394.71 447.69,394.59 447.45,394.47 447.2,394.35 446.96,394.24 446.72,394.12 446.47,394 446.23,393.89 445.99,393.77 445.75,393.65 445.5,393.54 445.26,393.42 445.02,393.3 444.78,393.19 444.54,393.07 444.3,392.95 444.05,392.84 443.81,392.72 443.57,392.6 443.33,392.49 443.09,392.37 442.85,392.26 442.61,392.14 442.37,392.02 442.13,391.91 441.89,391.79 441.65,391.68 441.41,391.56 441.18,391.45 440.94,391.33 440.7,391.22 440.46,391.1 440.22,390.99 439.98,390.87 439.75,390.76 439.51,390.64 439.27,390.53 439.03,390.42 438.8,390.3 438.56,390.19 438.32,390.07 438.09,389.96 437.85,389.85 437.61,389.73 437.38,389.62 437.14,389.5 436.91,389.39 436.67,389.28 436.44,389.16 436.2,389.05 435.97,388.94 435.73,388.82 435.5,388.71 435.26,388.6 435.03,388.49 434.8,388.37 434.56,388.26 434.33,388.15 434.1,388.03 433.86,387.92 433.63,387.81 433.4,387.7 433.16,387.59 432.93,387.47 432.7,387.36 432.47,387.25 432.24,387.14 432,387.03 431.77,386.91 431.54,386.8 431.31,386.69 431.08,386.58 430.85,386.47 430.62,386.36 430.39,386.25 430.16,386.14 429.93,386.02 429.7,385.91 429.47,385.8 429.24,385.69 429.01,385.58 428.78,385.47" fill="#ff5014" fill-opacity="0.16"/>
<polyline points="426.46,303.72 426.72,304.44 426.96,305.03 427.21,305.49 427.45,305.83 427.69,306.03 427.92,306.08 428.15,305.92 428.38,305.59 428.6,305.1 428.81,304.47 429.03,303.73 429.24,302.9 429.45,302 429.66,301.07 429.87,300.11 430.08,299.16 430.29,298.24 430.5,297.37 430.71,296.39 430.91,295.21 431.11,293.9 431.31,292.48 431.51,291.01 431.71,289.53 431.91,288.1 432.11,286.75 432.32,285.53 432.53,284.5 432.75,283.7 432.97,283.17 433.21,282.96 433.45,283.13 433.7,283.68 433.97,284.53 434.23,285.63 434.51,286.89 434.78,288.26 435.06,289.66 435.33,291.03 435.61,292.29 435.88,293.37 436.14,294.22 436.4,294.93 436.66,295.66 436.92,296.38 437.18,297.06 437.43,297.71 437.69,298.29 437.94,298.78 438.2,299.17 438.44,299.44 438.69,299.57 438.93,299.65 439.18,299.73 439.43,299.82 439.67,299.9 439.92,299.98 440.16,300.06 440.41,300.14 440.65,300.22 440.9,300.3 441.15,300.39 441.39,300.47 441.64,300.55 441.89,300.64 442.14,300.77 442.39,300.93 442.64,301.13 442.89,301.34 443.14,301.57 443.39,301.81 443.64,302.06 443.9,302.3 444.15,302.54 444.4,302.76 444.65,302.98 444.91,303.22 445.16,303.48 445.41,303.74 445.67,304.01 445.92,304.27 446.18,304.54 446.43,304.79 446.69,305.04 446.94,305.26 447.19,305.47 447.45,305.65 447.7,305.8 447.95,305.92 448.21,306 448.46,306.09 448.71,306.17 448.96,306.25 449.22,306.32 449.47,306.4 449.72,306.47 449.98,306.55 450.23,306.62 450.48,306.69 450.74,306.75 450.99,306.82 451.24,306.88 451.5,306.95 451.75,307.01 452.01,307.07 452.26,307.13 452.52,307.19 452.77,307.25 453.03,307.3 453.26,307.35 453.72,307.45 454.18,307.54 454.64,307.63 455.1,307.71 455.56,307.8 456.02,307.88 456.48,307.96 456.95,308.03 457.41,308.11 457.88,308.18 458.34,308.26 458.81,308.33 459.27,308.4 459.74,308.47 460.21,308.54 460.68,308.61 461.15,308.68 461.62,308.75 462.09,308.82 462.56,308.89 463.04,308.96 463.51,309.04 463.98,309.11 464.46,309.19 464.94,309.27 465.41,309.35 465.89,309.43 466.37,309.52 466.85,309.61 467.33,309.7 467.81,309.79 468.29,309.87 468.77,309.95 469.25,310.03 469.74,310.11 470.22,310.18 470.71,310.25 471.19,310.32 471.68,310.39 472.17,310.46 472.65,310.53 473.14,310.6 473.63,310.68 474.12,310.75 474.61,310.83 475.11,310.91 475.6,310.99 476.09,311.08 476.59,311.17 477.08,311.26 477.58,311.36 478.08,311.47 478.57,311.58 479.07,311.7 479.57,311.82 480.07,311.96 480.57,312.1 481.08,312.25 481.58,312.4 482.09,312.76 482.6,313.79 483.12,315.44 483.65,317.59 484.18,320.16 484.73,324.18 485.31,331.84 485.91,341.42 486.51,351.01 487.1,360.05 487.69,370.1 488.28,379.58 488.85,386.77 489.39,391.19 489.93,395.07 490.46,398.33 490.98,400.82 491.5,402.34 492.01,403.06 492.51,403.7 493.02,404.29 493.53,404.83 494.04,405.34 494.55,405.81 495.06,406.24 495.58,406.64 496.09,407.02 496.6,407.36 497.11,407.68 497.63,407.99 498.14,408.28 498.66,408.57 499.17,408.85 499.69,409.14 500.21,409.43 500.72,409.71 501.24,410 501.76,410.28 502.28,410.57 502.8,410.85 503.33,411.13 503.85,411.42 504.37,411.7 504.9,411.98 505.42,412.26 505.95,412.54 506.48,412.82 507.01,413.1 507.53,413.38 508.06,413.66 508.59,413.94 509.13,414.21 509.66,414.49 510.19,414.77 510.72,415.04 511.26,415.32 511.79,415.59 512.33,415.87 512.87,416.14 513.4,416.41 513.94,416.69 514.48,416.96 515.02,417.23 515.56,417.5 516.11,417.78 516.65,418.05 517.19,418.32 517.74,418.59 518.28,418.86 518.83,419.13 519.38,419.4 519.93,419.67 520.48,419.94 521.03,420.2 521.58,420.47 522.13,420.74 522.68,421.01 523.23,421.28 523.79,421.54 524.34,421.81 524.9,422.08 525.46,422.34 526.02,422.61 526.57,422.87 527.13,423.14 527.69,423.4 528.26,423.67 528.82,423.93 529.38,424.2 529.95,424.46" fill="none" stroke="#ff5014" stroke-width="1.7" stroke-linejoin="round" stroke-linecap="round"/>
<polygon points="408.48,314.66 408.73,315.3 408.97,315.84 409.22,316.27 409.45,316.62 409.69,316.88 409.93,317.07 410.16,317.2 410.39,317.22 410.61,317.09 410.83,316.8 411.05,316.39 411.26,315.86 411.47,315.24 411.68,314.54 411.88,313.78 412.08,312.97 412.29,312.13 412.49,311.28 412.69,310.43 412.9,309.59 413.09,308.48 413.28,307.09 413.46,305.5 413.64,303.79 413.81,302.04 413.99,300.32 414.17,298.73 414.36,297.33 414.56,296.21 414.77,295.46 415,295.14 415.24,295.31 415.49,295.86 415.75,296.7 416.02,297.78 416.3,299.02 416.57,300.34 416.85,301.68 417.13,302.96 417.4,304.13 417.67,305.09 417.93,305.93 418.19,306.79 418.45,307.65 418.72,308.5 418.98,309.3 419.24,310.05 419.5,310.71 419.75,311.26 420,311.68 420.25,311.95 420.49,312.14 420.73,312.3 420.98,312.45 421.22,312.59 421.46,312.72 421.7,312.85 421.95,312.98 422.19,313.11 422.43,313.26 422.68,313.42 422.92,313.61 423.17,313.85 423.42,314.14 423.67,314.48 423.92,314.85 424.17,315.24 424.43,315.63 424.68,316.01 424.93,316.37 425.18,316.69 425.43,316.96 425.68,317.17 425.93,317.33 426.17,317.49 426.42,317.64 426.67,317.79 426.91,317.93 427.16,318.08 427.41,318.22 427.66,318.35 427.9,318.48 428.15,318.61 428.4,318.74 428.65,318.86 428.89,318.98 429.14,319.09 429.39,319.2 429.64,319.3 429.89,319.4 430.13,319.5 430.38,319.59 430.63,319.68 430.88,319.77 431.13,319.86 431.38,319.95 431.63,320.04 431.88,320.13 432.13,320.22 432.38,320.31 432.63,320.39 432.88,320.48 433.13,320.57 433.38,320.65 433.63,320.74 433.88,320.83 434.13,320.91 434.38,321 434.64,321.08 434.86,321.16 435.31,321.31 435.77,321.46 436.22,321.61 436.67,321.76 437.13,321.91 437.58,322.05 438.04,322.2 438.5,322.35 438.96,322.49 439.41,322.64 439.87,322.78 440.33,322.93 440.79,323.07 441.25,323.21 441.72,323.36 442.18,323.5 442.64,323.65 443.11,323.79 443.57,323.94 444.04,324.08 444.5,324.23 444.97,324.37 445.44,324.52 445.9,324.66 446.37,324.81 446.84,324.95 447.31,325.09 447.78,325.23 448.26,325.36 448.73,325.49 449.2,325.62 449.67,325.75 450.15,325.87 450.62,326 451.1,326.12 451.58,326.24 452.05,326.36 452.53,326.48 453.01,326.6 453.49,326.73 453.97,326.85 454.45,326.97 454.93,327.09 455.42,327.22 455.9,327.35 456.39,327.48 456.87,327.61 457.36,327.74 457.84,327.88 458.33,328.02 458.82,328.16 459.31,328.31 459.8,328.46 460.29,328.62 460.78,328.78 461.28,328.94 461.77,329.12 462.26,329.29 462.76,329.61 463.27,330.44 463.78,331.72 464.31,333.36 464.83,335.28 465.37,338.08 465.95,343.16 466.55,349.67 467.16,356.68 467.76,363.34 468.37,370.92 469,379.15 469.61,386.66 470.18,392.12 470.72,395.24 471.26,397.84 471.78,399.96 472.3,401.51 472.81,402.44 473.32,403.12 473.82,403.73 474.33,404.27 474.83,404.75 475.34,405.2 475.85,405.61 476.35,406.01 476.86,406.39 477.37,406.77 477.88,407.14 478.39,407.5 478.9,407.85 479.41,408.2 479.92,408.55 480.43,408.88 480.94,409.21 481.46,409.54 481.97,409.85 482.49,410.17 483,410.48 483.52,410.78 484.04,411.08 484.55,411.37 485.07,411.67 485.59,411.96 486.11,412.26 486.63,412.56 487.16,412.85 487.68,413.15 488.2,413.44 488.73,413.74 489.25,414.03 489.78,414.33 490.31,414.62 490.83,414.92 491.36,415.21 491.89,415.5 492.42,415.8 492.95,416.09 493.49,416.38 494.02,416.68 494.55,416.97 495.09,417.26 495.62,417.55 496.16,417.84 496.7,418.13 497.23,418.42 497.77,418.71 498.31,419 498.85,419.29 499.39,419.58 499.94,419.86 500.48,420.15 501.02,420.44 501.57,420.72 502.11,421.01 502.66,421.29 503.21,421.58 503.76,421.86 504.31,422.14 504.86,422.42 505.41,422.7 505.96,422.98 506.51,423.26 507.07,423.54 507.62,423.81 508.18,424.09 508.73,424.37 509.29,424.64 509.85,424.91 510.41,425.19 510.97,425.46 511,440.38 510.44,440.1 509.89,439.82 509.33,439.54 508.78,439.26 508.22,438.98 507.67,438.7 507.12,438.42 506.56,438.14 506.01,437.87 505.47,437.59 504.92,437.31 504.37,437.04 503.82,436.76 503.28,436.48 502.73,436.21 502.19,435.94 501.64,435.66 501.1,435.39 500.56,435.11 500.02,434.84 499.48,434.57 498.94,434.3 498.4,434.03 497.87,433.75 497.33,433.48 496.8,433.21 496.26,432.94 495.73,432.67 495.2,432.41 494.66,432.14 494.13,431.87 493.6,431.6 493.07,431.33 492.54,431.07 492.02,430.8 491.49,430.53 490.96,430.27 490.44,430 489.92,429.74 489.39,429.48 488.87,429.21 488.35,428.95 487.83,428.69 487.31,428.42 486.79,428.16 486.27,427.9 485.75,427.64 485.24,427.38 484.72,427.12 484.2,426.86 483.69,426.6 483.18,426.34 482.66,426.08 482.15,425.82 481.64,425.56 481.13,425.31 480.62,425.05 480.11,424.79 479.61,424.54 479.1,424.28 478.59,424.02 478.09,423.77 477.58,423.51 477.08,423.26 476.58,423.01 476.07,422.75 475.57,422.5 475.07,422.25 474.57,421.99 474.07,421.74 473.58,421.49 473.08,421.24 472.58,420.99 472.09,420.74 471.59,420.49 471.1,420.24 470.6,419.99 470.11,419.74 469.62,419.49 469.13,419.24 468.64,419 468.15,418.75 467.66,418.5 467.17,418.26 466.68,418.01 466.19,417.76 465.71,417.52 465.22,417.27 464.74,417.03 464.26,416.79 463.77,416.54 463.29,416.3 462.81,416.06 462.33,415.81 461.85,415.57 461.37,415.33 460.89,415.09 460.41,414.85 459.93,414.6 459.46,414.36 458.98,414.12 458.51,413.88 458.03,413.65 457.56,413.41 457.09,413.17 456.62,412.93 456.14,412.69 455.67,412.45 455.2,412.22 454.73,411.98 454.27,411.74 453.8,411.51 453.33,411.27 452.87,411.04 452.4,410.8 451.93,410.57 451.47,410.33 451.01,410.1 450.54,409.86 450.08,409.63 449.62,409.4 449.16,409.17 448.7,408.93 448.24,408.7 447.78,408.47 447.32,408.24 446.87,408.01 446.41,407.78 445.95,407.55 445.5,407.32 445.04,407.09 444.59,406.86 444.14,406.63 443.68,406.4 443.23,406.17 442.78,405.95 442.33,405.72 441.88,405.49 441.43,405.26 440.98,405.04 440.54,404.81 440.09,404.59 439.64,404.36 439.2,404.14 438.75,403.91 438.31,403.69 437.86,403.46 437.42,403.24 436.98,403.01 436.76,402.9 436.51,402.78 436.26,402.65 436.02,402.53 435.77,402.41 435.53,402.28 435.28,402.16 435.04,402.04 434.79,401.91 434.55,401.79 434.3,401.66 434.06,401.54 433.81,401.42 433.57,401.29 433.33,401.17 433.08,401.05 432.84,400.93 432.6,400.8 432.35,400.68 432.11,400.56 431.87,400.44 431.62,400.31 431.38,400.19 431.14,400.07 430.9,399.95 430.66,399.82 430.42,399.7 430.17,399.58 429.93,399.46 429.69,399.34 429.45,399.22 429.21,399.09 428.97,398.97 428.73,398.85 428.49,398.73 428.25,398.61 428.01,398.49 427.77,398.37 427.53,398.25 427.3,398.13 427.06,398.01 426.82,397.89 426.58,397.77 426.34,397.65 426.1,397.53 425.87,397.41 425.63,397.29 425.39,397.17 425.15,397.05 424.92,396.93 424.68,396.81 424.44,396.69 424.21,396.57 423.97,396.45 423.74,396.33 423.5,396.21 423.26,396.09 423.03,395.97 422.79,395.85 422.56,395.74 422.32,395.62 422.09,395.5 421.85,395.38 421.62,395.26 421.39,395.14 421.15,395.03 420.92,394.91 420.68,394.79 420.45,394.67 420.22,394.55 419.99,394.44 419.75,394.32 419.52,394.2 419.29,394.08 419.06,393.97 418.82,393.85 418.59,393.73 418.36,393.62 418.13,393.5 417.9,393.38 417.67,393.27 417.43,393.15 417.2,393.03 416.97,392.92 416.74,392.8 416.51,392.68 416.28,392.57 416.05,392.45 415.82,392.34 415.59,392.22 415.36,392.1 415.14,391.99 414.91,391.87 414.68,391.76 414.45,391.64 414.22,391.53 413.99,391.41 413.76,391.3 413.54,391.18 413.31,391.07 413.08,390.95 412.85,390.84 412.63,390.72 412.4,390.61 412.17,390.49 411.95,390.38 411.72,390.26 411.49,390.15 411.27,390.04 411.04,389.92" fill="#ff1a1a" fill-opacity="0.16"/>
<polyline points="408.48,314.66 408.73,315.3 408.97,315.84 409.22,316.27 409.45,316.62 409.69,316.88 409.93,317.07 410.16,317.2 410.39,317.22 410.61,317.09 410.83,316.8 411.05,316.39 411.26,315.86 411.47,315.24 411.68,314.54 411.88,313.78 412.08,312.97 412.29,312.13 412.49,311.28 412.69,310.43 412.9,309.59 413.09,308.48 413.28,307.09 413.46,305.5 413.64,303.79 413.81,302.04 413.99,300.32 414.17,298.73 414.36,297.33 414.56,296.21 414.77,295.46 415,295.14 415.24,295.31 415.49,295.86 415.75,296.7 416.02,297.78 416.3,299.02 416.57,300.34 416.85,301.68 417.13,302.96 417.4,304.13 417.67,305.09 417.93,305.93 418.19,306.79 418.45,307.65 418.72,308.5 418.98,309.3 419.24,310.05 419.5,310.71 419.75,311.26 420,311.68 420.25,311.95 420.49,312.14 420.73,312.3 420.98,312.45 421.22,312.59 421.46,312.72 421.7,312.85 421.95,312.98 422.19,313.11 422.43,313.26 422.68,313.42 422.92,313.61 423.17,313.85 423.42,314.14 423.67,314.48 423.92,314.85 424.17,315.24 424.43,315.63 424.68,316.01 424.93,316.37 425.18,316.69 425.43,316.96 425.68,317.17 425.93,317.33 426.17,317.49 426.42,317.64 426.67,317.79 426.91,317.93 427.16,318.08 427.41,318.22 427.66,318.35 427.9,318.48 428.15,318.61 428.4,318.74 428.65,318.86 428.89,318.98 429.14,319.09 429.39,319.2 429.64,319.3 429.89,319.4 430.13,319.5 430.38,319.59 430.63,319.68 430.88,319.77 431.13,319.86 431.38,319.95 431.63,320.04 431.88,320.13 432.13,320.22 432.38,320.31 432.63,320.39 432.88,320.48 433.13,320.57 433.38,320.65 433.63,320.74 433.88,320.83 434.13,320.91 434.38,321 434.64,321.08 434.86,321.16 435.31,321.31 435.77,321.46 436.22,321.61 436.67,321.76 437.13,321.91 437.58,322.05 438.04,322.2 438.5,322.35 438.96,322.49 439.41,322.64 439.87,322.78 440.33,322.93 440.79,323.07 441.25,323.21 441.72,323.36 442.18,323.5 442.64,323.65 443.11,323.79 443.57,323.94 444.04,324.08 444.5,324.23 444.97,324.37 445.44,324.52 445.9,324.66 446.37,324.81 446.84,324.95 447.31,325.09 447.78,325.23 448.26,325.36 448.73,325.49 449.2,325.62 449.67,325.75 450.15,325.87 450.62,326 451.1,326.12 451.58,326.24 452.05,326.36 452.53,326.48 453.01,326.6 453.49,326.73 453.97,326.85 454.45,326.97 454.93,327.09 455.42,327.22 455.9,327.35 456.39,327.48 456.87,327.61 457.36,327.74 457.84,327.88 458.33,328.02 458.82,328.16 459.31,328.31 459.8,328.46 460.29,328.62 460.78,328.78 461.28,328.94 461.77,329.12 462.26,329.29 462.76,329.61 463.27,330.44 463.78,331.72 464.31,333.36 464.83,335.28 465.37,338.08 465.95,343.16 466.55,349.67 467.16,356.68 467.76,363.34 468.37,370.92 469,379.15 469.61,386.66 470.18,392.12 470.72,395.24 471.26,397.84 471.78,399.96 472.3,401.51 472.81,402.44 473.32,403.12 473.82,403.73 474.33,404.27 474.83,404.75 475.34,405.2 475.85,405.61 476.35,406.01 476.86,406.39 477.37,406.77 477.88,407.14 478.39,407.5 478.9,407.85 479.41,408.2 479.92,408.55 480.43,408.88 480.94,409.21 481.46,409.54 481.97,409.85 482.49,410.17 483,410.48 483.52,410.78 484.04,411.08 484.55,411.37 485.07,411.67 485.59,411.96 486.11,412.26 486.63,412.56 487.16,412.85 487.68,413.15 488.2,413.44 488.73,413.74 489.25,414.03 489.78,414.33 490.31,414.62 490.83,414.92 491.36,415.21 491.89,415.5 492.42,415.8 492.95,416.09 493.49,416.38 494.02,416.68 494.55,416.97 495.09,417.26 495.62,417.55 496.16,417.84 496.7,418.13 497.23,418.42 497.77,418.71 498.31,419 498.85,419.29 499.39,419.58 499.94,419.86 500.48,420.15 501.02,420.44 501.57,420.72 502.11,421.01 502.66,421.29 503.21,421.58 503.76,421.86 504.31,422.14 504.86,422.42 505.41,422.7 505.96,422.98 506.51,423.26 507.07,423.54 507.62,423.81 508.18,424.09 508.73,424.37 509.29,424.64 509.85,424.91 510.41,425.19 510.97,425.46" fill="none" stroke="#ff1a1a" stroke-width="1.7" stroke-linejoin="round" stroke-linecap="round"/>
<polygon points="545.2,342.8 570.3,349.8 579.6,384.2 555.1,393" fill="none" stroke="#222" stroke-width="1.6" stroke-dasharray="4,2.5" stroke-linejoin="round"/>
<line x1="392.03" y1="264.16" x2="397" y2="392.98" stroke="#333" stroke-width="1"/>
<line x1="397" y1="392.98" x2="496.6" y2="445.07" stroke="#333" stroke-width="1"/>
<line x1="496.6" y1="445.07" x2="672.43" y2="387.85" stroke="#333" stroke-width="1"/>
<line x1="672.43" y1="387.85" x2="678.7" y2="261.98" stroke="#333" stroke-width="1"/>
<line x1="392.03" y1="264.16" x2="566.75" y2="240.45" stroke="#333" stroke-width="1"/>
<line x1="566.75" y1="240.45" x2="678.7" y2="261.98" stroke="#333" stroke-width="1"/>
<line x1="397" y1="392.98" x2="400.94" y2="392" stroke="#333" stroke-width="1"/>
<line x1="672.43" y1="387.85" x2="670.47" y2="387.18" stroke="#333" stroke-width="1"/>
<text x="392.5" y="396.51" font-size="9.8" text-anchor="end" fill="#111" stroke="#111">0.0</text>
<line x1="396.52" y1="380.56" x2="398.9" y2="379.99" stroke="#333" stroke-width="1"/>
<line x1="673.04" y1="375.71" x2="671.85" y2="375.32" stroke="#333" stroke-width="1"/>
<line x1="396.04" y1="368.04" x2="400.01" y2="367.14" stroke="#333" stroke-width="1"/>
<line x1="673.65" y1="363.47" x2="671.66" y2="362.84" stroke="#333" stroke-width="1"/>
<text x="391.54" y="371.57" font-size="9.8" text-anchor="end" fill="#111" stroke="#111">0.2</text>
<line x1="395.55" y1="355.43" x2="397.95" y2="354.91" stroke="#333" stroke-width="1"/>
<line x1="674.26" y1="351.13" x2="673.06" y2="350.77" stroke="#333" stroke-width="1"/>
<line x1="395.06" y1="342.7" x2="399.07" y2="341.88" stroke="#333" stroke-width="1"/>
<line x1="674.88" y1="338.7" x2="672.88" y2="338.12" stroke="#333" stroke-width="1"/>
<text x="390.56" y="346.23" font-size="9.8" text-anchor="end" fill="#111" stroke="#111">0.4</text>
<line x1="394.56" y1="329.88" x2="396.98" y2="329.41" stroke="#333" stroke-width="1"/>
<line x1="675.5" y1="326.16" x2="674.29" y2="325.84" stroke="#333" stroke-width="1"/>
<line x1="394.06" y1="316.95" x2="398.11" y2="316.21" stroke="#333" stroke-width="1"/>
<line x1="676.13" y1="313.53" x2="674.11" y2="313.02" stroke="#333" stroke-width="1"/>
<text x="389.56" y="320.48" font-size="9.8" text-anchor="end" fill="#111" stroke="#111">0.6</text>
<line x1="393.56" y1="303.92" x2="396" y2="303.5" stroke="#333" stroke-width="1"/>
<line x1="676.77" y1="300.8" x2="675.55" y2="300.5" stroke="#333" stroke-width="1"/>
<line x1="393.05" y1="290.77" x2="397.13" y2="290.12" stroke="#333" stroke-width="1"/>
<line x1="677.4" y1="287.96" x2="675.36" y2="287.5" stroke="#333" stroke-width="1"/>
<text x="388.55" y="294.3" font-size="9.8" text-anchor="end" fill="#111" stroke="#111">0.8</text>
<line x1="392.54" y1="277.52" x2="395" y2="277.16" stroke="#333" stroke-width="1"/>
<line x1="678.05" y1="275.02" x2="676.82" y2="274.77" stroke="#333" stroke-width="1"/>
<line x1="392.03" y1="264.16" x2="396.14" y2="263.61" stroke="#333" stroke-width="1"/>
<line x1="678.7" y1="261.98" x2="676.64" y2="261.58" stroke="#333" stroke-width="1"/>
<text x="387.53" y="267.69" font-size="9.8" text-anchor="end" fill="#111" stroke="#111">1.0</text>
<line x1="402.02" y1="395.61" x2="405.58" y2="394.7" stroke="#333" stroke-width="1"/>
<line x1="572.5" y1="241.56" x2="572.46" y2="244.09" stroke="#333" stroke-width="1"/>
<line x1="412.33" y1="401" x2="414.33" y2="400.48" stroke="#333" stroke-width="1"/>
<line x1="584.29" y1="243.82" x2="584.26" y2="245.11" stroke="#333" stroke-width="1"/>
<line x1="423.03" y1="406.59" x2="426.65" y2="405.62" stroke="#333" stroke-width="1"/>
<line x1="596.46" y1="246.16" x2="596.4" y2="248.77" stroke="#333" stroke-width="1"/>
<line x1="434.13" y1="412.4" x2="436.16" y2="411.84" stroke="#333" stroke-width="1"/>
<line x1="609.03" y1="248.58" x2="608.99" y2="249.91" stroke="#333" stroke-width="1"/>
<line x1="445.66" y1="418.43" x2="449.34" y2="417.38" stroke="#333" stroke-width="1"/>
<line x1="622.03" y1="251.08" x2="621.94" y2="253.78" stroke="#333" stroke-width="1"/>
<line x1="457.64" y1="424.7" x2="459.71" y2="424.09" stroke="#333" stroke-width="1"/>
<line x1="635.47" y1="253.67" x2="635.42" y2="255.04" stroke="#333" stroke-width="1"/>
<line x1="470.11" y1="431.21" x2="473.85" y2="430.07" stroke="#333" stroke-width="1"/>
<line x1="649.38" y1="256.34" x2="649.26" y2="259.12" stroke="#333" stroke-width="1"/>
<line x1="483.08" y1="438" x2="485.18" y2="437.34" stroke="#333" stroke-width="1"/>
<line x1="663.78" y1="259.11" x2="663.71" y2="260.53" stroke="#333" stroke-width="1"/>
<line x1="496.6" y1="445.07" x2="500.4" y2="443.83" stroke="#333" stroke-width="1"/>
<line x1="678.7" y1="261.98" x2="678.55" y2="264.86" stroke="#333" stroke-width="1"/>
<text x="399.6" y="408.33" font-size="9.8" text-anchor="middle" fill="#111" stroke="#111">300</text>
<text x="420.7" y="420.23" font-size="9.8" text-anchor="middle" fill="#111" stroke="#111">400</text>
<text x="443" y="431.93" font-size="9.8" text-anchor="middle" fill="#111" stroke="#111">500</text>
<text x="466.8" y="444.33" font-size="9.8" text-anchor="middle" fill="#111" stroke="#111">600</text>
<line x1="496.6" y1="445.07" x2="494.61" y2="444.03" stroke="#333" stroke-width="1"/>
<line x1="392.03" y1="264.16" x2="392.08" y2="265.64" stroke="#333" stroke-width="1"/>
<line x1="504.76" y1="442.41" x2="502.76" y2="441.39" stroke="#333" stroke-width="1"/>
<line x1="399.98" y1="263.09" x2="400.03" y2="264.55" stroke="#333" stroke-width="1"/>
<line x1="511" y1="440.38" x2="509" y2="439.37" stroke="#333" stroke-width="1"/>
<line x1="406.07" y1="262.26" x2="406.12" y2="263.72" stroke="#333" stroke-width="1"/>
<line x1="516.04" y1="438.74" x2="514.03" y2="437.74" stroke="#333" stroke-width="1"/>
<line x1="411" y1="261.59" x2="411.05" y2="263.04" stroke="#333" stroke-width="1"/>
<line x1="520.27" y1="437.37" x2="518.25" y2="436.38" stroke="#333" stroke-width="1"/>
<line x1="415.14" y1="261.03" x2="415.18" y2="262.47" stroke="#333" stroke-width="1"/>
<line x1="523.9" y1="436.19" x2="521.88" y2="435.2" stroke="#333" stroke-width="1"/>
<line x1="418.7" y1="260.55" x2="418.74" y2="261.99" stroke="#333" stroke-width="1"/>
<line x1="527.08" y1="435.15" x2="525.06" y2="434.17" stroke="#333" stroke-width="1"/>
<line x1="421.81" y1="260.12" x2="421.86" y2="261.56" stroke="#333" stroke-width="1"/>
<line x1="529.91" y1="434.23" x2="526.35" y2="432.52" stroke="#333" stroke-width="1"/>
<line x1="424.59" y1="259.75" x2="424.67" y2="262.61" stroke="#333" stroke-width="1"/>
<line x1="548.12" y1="428.31" x2="546.08" y2="427.37" stroke="#333" stroke-width="1"/>
<line x1="442.5" y1="257.31" x2="442.53" y2="258.73" stroke="#333" stroke-width="1"/>
<line x1="558.47" y1="424.94" x2="556.42" y2="424.02" stroke="#333" stroke-width="1"/>
<line x1="452.71" y1="255.93" x2="452.74" y2="257.33" stroke="#333" stroke-width="1"/>
<line x1="565.68" y1="422.59" x2="563.63" y2="421.68" stroke="#333" stroke-width="1"/>
<line x1="459.84" y1="254.96" x2="459.86" y2="256.35" stroke="#333" stroke-width="1"/>
<line x1="571.2" y1="420.8" x2="569.15" y2="419.9" stroke="#333" stroke-width="1"/>
<line x1="465.3" y1="254.22" x2="465.32" y2="255.6" stroke="#333" stroke-width="1"/>
<line x1="575.66" y1="419.34" x2="573.61" y2="418.45" stroke="#333" stroke-width="1"/>
<line x1="469.73" y1="253.62" x2="469.75" y2="255" stroke="#333" stroke-width="1"/>
<line x1="579.4" y1="418.13" x2="577.34" y2="417.24" stroke="#333" stroke-width="1"/>
<line x1="473.44" y1="253.12" x2="473.45" y2="254.49" stroke="#333" stroke-width="1"/>
<line x1="582.62" y1="417.08" x2="580.56" y2="416.2" stroke="#333" stroke-width="1"/>
<line x1="476.63" y1="252.68" x2="476.65" y2="254.05" stroke="#333" stroke-width="1"/>
<line x1="585.44" y1="416.16" x2="583.38" y2="415.29" stroke="#333" stroke-width="1"/>
<line x1="479.43" y1="252.3" x2="479.45" y2="253.67" stroke="#333" stroke-width="1"/>
<line x1="587.95" y1="415.35" x2="584.31" y2="413.82" stroke="#333" stroke-width="1"/>
<line x1="481.92" y1="251.96" x2="481.95" y2="254.69" stroke="#333" stroke-width="1"/>
<line x1="604.11" y1="410.08" x2="602.04" y2="409.25" stroke="#333" stroke-width="1"/>
<line x1="498.03" y1="249.78" x2="498.04" y2="251.12" stroke="#333" stroke-width="1"/>
<line x1="613.32" y1="407.09" x2="611.24" y2="406.27" stroke="#333" stroke-width="1"/>
<line x1="507.22" y1="248.53" x2="507.23" y2="249.86" stroke="#333" stroke-width="1"/>
<line x1="619.73" y1="405" x2="617.66" y2="404.19" stroke="#333" stroke-width="1"/>
<line x1="513.65" y1="247.66" x2="513.65" y2="248.98" stroke="#333" stroke-width="1"/>
<line x1="624.65" y1="403.4" x2="622.57" y2="402.6" stroke="#333" stroke-width="1"/>
<line x1="518.58" y1="246.99" x2="518.58" y2="248.31" stroke="#333" stroke-width="1"/>
<line x1="628.63" y1="402.11" x2="626.55" y2="401.31" stroke="#333" stroke-width="1"/>
<line x1="522.57" y1="246.45" x2="522.56" y2="247.76" stroke="#333" stroke-width="1"/>
<line x1="631.96" y1="401.02" x2="629.88" y2="400.23" stroke="#333" stroke-width="1"/>
<line x1="525.92" y1="245.99" x2="525.91" y2="247.3" stroke="#333" stroke-width="1"/>
<line x1="634.83" y1="400.09" x2="632.75" y2="399.31" stroke="#333" stroke-width="1"/>
<line x1="528.8" y1="245.6" x2="528.79" y2="246.91" stroke="#333" stroke-width="1"/>
<line x1="637.35" y1="399.27" x2="635.27" y2="398.49" stroke="#333" stroke-width="1"/>
<line x1="531.33" y1="245.26" x2="531.32" y2="246.56" stroke="#333" stroke-width="1"/>
<line x1="639.59" y1="398.54" x2="635.92" y2="397.18" stroke="#333" stroke-width="1"/>
<line x1="533.58" y1="244.95" x2="533.57" y2="247.55" stroke="#333" stroke-width="1"/>
<line x1="654.04" y1="393.84" x2="651.95" y2="393.09" stroke="#333" stroke-width="1"/>
<line x1="548.14" y1="242.98" x2="548.13" y2="244.26" stroke="#333" stroke-width="1"/>
<line x1="662.27" y1="391.16" x2="660.19" y2="390.42" stroke="#333" stroke-width="1"/>
<line x1="556.47" y1="241.85" x2="556.45" y2="243.12" stroke="#333" stroke-width="1"/>
<line x1="668.02" y1="389.29" x2="665.94" y2="388.56" stroke="#333" stroke-width="1"/>
<line x1="562.28" y1="241.06" x2="562.27" y2="242.32" stroke="#333" stroke-width="1"/>
<line x1="672.43" y1="387.85" x2="670.34" y2="387.14" stroke="#333" stroke-width="1"/>
<line x1="566.75" y1="240.45" x2="566.73" y2="241.71" stroke="#333" stroke-width="1"/>
<text x="528.8" y="447.03" font-size="9.8" text-anchor="middle" fill="#111" stroke="#111">10</text>
<text x="586.8" y="428.13" font-size="9.8" text-anchor="middle" fill="#111" stroke="#111">100</text>
<text x="639.5" y="410.53" font-size="9.8" text-anchor="middle" fill="#111" stroke="#111">1000</text>
<text x="426" y="445.82" font-size="12" text-anchor="middle" fill="#111" stroke="#111" transform="rotate(32 426 445.82)">Wavelength (nm)</text>
<text x="597.6" y="444.72" font-size="12" text-anchor="middle" fill="#111" stroke="#111" transform="rotate(-18.5 597.6 444.72)">Milling Time (min)</text>
<text x="367.5" y="326" font-size="11.5" text-anchor="middle" fill="#111" stroke="#111" transform="rotate(-90 367.5 326)">Absorption (arb. units)</text>
<text x="0.5" y="578" font-size="18.5" text-anchor="start" fill="#000" stroke="#000" font-weight="bold">e</text>
<defs><radialGradient id="ballw" cx="0.4" cy="0.38" r="0.6" fx="0.35" fy="0.3"><stop offset="0" stop-color="#fff" stop-opacity="1"/><stop offset="0.35" stop-color="#fff" stop-opacity="0.3"/><stop offset="1" stop-color="#fff" stop-opacity="0"/></radialGradient></defs>
<line x1="42.2" y1="672.6" x2="340.7" y2="672.6" stroke="#aaa" stroke-width="1" stroke-dasharray="2,2"/>
<line x1="42.2" y1="638.4" x2="340.7" y2="638.4" stroke="#aaa" stroke-width="1" stroke-dasharray="2,2"/>
<line x1="42.2" y1="604.2" x2="340.7" y2="604.2" stroke="#aaa" stroke-width="1" stroke-dasharray="2,2"/>
<line x1="42.2" y1="583.5" x2="340.7" y2="583.5" stroke="#666" stroke-width="1"/>
<line x1="42.2" y1="693.4" x2="340.7" y2="693.4" stroke="#333" stroke-width="1"/>
<line x1="42.2" y1="583.5" x2="42.2" y2="693.4" stroke="#333" stroke-width="1"/>
<line x1="340.7" y1="583.5" x2="340.7" y2="693.4" stroke="#666" stroke-width="1"/>
<line x1="42.2" y1="689.7" x2="44.2" y2="689.7" stroke="#333" stroke-width="1"/>
<line x1="338.7" y1="689.7" x2="340.7" y2="689.7" stroke="#666" stroke-width="1"/>
<line x1="42.2" y1="672.6" x2="46.2" y2="672.6" stroke="#333" stroke-width="1"/>
<line x1="336.7" y1="672.6" x2="340.7" y2="672.6" stroke="#666" stroke-width="1"/>
<text x="39.5" y="676.56" font-size="11" text-anchor="end" fill="#111" stroke="#111">2.2</text>
<line x1="42.2" y1="655.5" x2="44.2" y2="655.5" stroke="#333" stroke-width="1"/>
<line x1="338.7" y1="655.5" x2="340.7" y2="655.5" stroke="#666" stroke-width="1"/>
<line x1="42.2" y1="638.4" x2="46.2" y2="638.4" stroke="#333" stroke-width="1"/>
<line x1="336.7" y1="638.4" x2="340.7" y2="638.4" stroke="#666" stroke-width="1"/>
<text x="39.5" y="642.36" font-size="11" text-anchor="end" fill="#111" stroke="#111">2.3</text>
<line x1="42.2" y1="621.3" x2="44.2" y2="621.3" stroke="#333" stroke-width="1"/>
<line x1="338.7" y1="621.3" x2="340.7" y2="621.3" stroke="#666" stroke-width="1"/>
<line x1="42.2" y1="604.2" x2="46.2" y2="604.2" stroke="#333" stroke-width="1"/>
<line x1="336.7" y1="604.2" x2="340.7" y2="604.2" stroke="#666" stroke-width="1"/>
<text x="39.5" y="608.16" font-size="11" text-anchor="end" fill="#111" stroke="#111">2.4</text>
<line x1="42.2" y1="587.1" x2="44.2" y2="587.1" stroke="#333" stroke-width="1"/>
<line x1="338.7" y1="587.1" x2="340.7" y2="587.1" stroke="#666" stroke-width="1"/>
<line x1="68.5" y1="693.4" x2="68.5" y2="689.4" stroke="#333" stroke-width="1"/>
<line x1="68.5" y1="583.5" x2="68.5" y2="587.5" stroke="#666" stroke-width="1"/>
<text x="68.5" y="708.36" font-size="11" text-anchor="middle" fill="#111" stroke="#111">5</text>
<line x1="104" y1="693.4" x2="104" y2="689.4" stroke="#333" stroke-width="1"/>
<line x1="104" y1="583.5" x2="104" y2="587.5" stroke="#666" stroke-width="1"/>
<text x="104" y="708.36" font-size="11" text-anchor="middle" fill="#111" stroke="#111">10</text>
<line x1="139.5" y1="693.4" x2="139.5" y2="689.4" stroke="#333" stroke-width="1"/>
<line x1="139.5" y1="583.5" x2="139.5" y2="587.5" stroke="#666" stroke-width="1"/>
<text x="139.5" y="708.36" font-size="11" text-anchor="middle" fill="#111" stroke="#111">20</text>
<line x1="175.6" y1="693.4" x2="175.6" y2="689.4" stroke="#333" stroke-width="1"/>
<line x1="175.6" y1="583.5" x2="175.6" y2="587.5" stroke="#666" stroke-width="1"/>
<text x="175.6" y="708.36" font-size="11" text-anchor="middle" fill="#111" stroke="#111">40</text>
<line x1="216.8" y1="693.4" x2="216.8" y2="689.4" stroke="#333" stroke-width="1"/>
<line x1="216.8" y1="583.5" x2="216.8" y2="587.5" stroke="#666" stroke-width="1"/>
<text x="216.8" y="708.36" font-size="11" text-anchor="middle" fill="#111" stroke="#111">90</text>
<line x1="252.3" y1="693.4" x2="252.3" y2="689.4" stroke="#333" stroke-width="1"/>
<line x1="252.3" y1="583.5" x2="252.3" y2="587.5" stroke="#666" stroke-width="1"/>
<text x="252.3" y="708.36" font-size="11" text-anchor="middle" fill="#111" stroke="#111">180</text>
<line x1="287.8" y1="693.4" x2="287.8" y2="689.4" stroke="#333" stroke-width="1"/>
<line x1="287.8" y1="583.5" x2="287.8" y2="587.5" stroke="#666" stroke-width="1"/>
<text x="287.8" y="708.36" font-size="11" text-anchor="middle" fill="#111" stroke="#111">360</text>
<line x1="319" y1="693.4" x2="319" y2="689.4" stroke="#333" stroke-width="1"/>
<line x1="319" y1="583.5" x2="319" y2="587.5" stroke="#666" stroke-width="1"/>
<text x="319" y="708.36" font-size="11" text-anchor="middle" fill="#111" stroke="#111">660</text>
<text x="191.5" y="726.9" font-size="13.6" text-anchor="middle" fill="#111" stroke="#111">Milling Time (min)</text>
<text x="18.1" y="639" font-size="11.2" text-anchor="middle" fill="#111" stroke="#111" transform="rotate(-90 18.1 639)">Optical Bandgap (eV)</text>
<line x1="68.5" y1="628.2" x2="68.5" y2="648.9" stroke="#ff0000" stroke-width="1.6"/>
<line x1="63.5" y1="628.2" x2="73.5" y2="628.2" stroke="#ff0000" stroke-width="1.8"/>
<line x1="63.5" y1="648.9" x2="73.5" y2="648.9" stroke="#ff0000" stroke-width="1.8"/>
<circle cx="68.5" cy="638.4" r="4.5" fill="#ff0000" stroke="none" stroke-width="1"/>
<circle cx="67.5" cy="637.2" r="3" fill="url(#ballw)" stroke="none" stroke-width="1"/>
<line x1="104" y1="627.7" x2="104" y2="652.5" stroke="#ff8a1c" stroke-width="1.6"/>
<line x1="99" y1="627.7" x2="109" y2="627.7" stroke="#ff8a1c" stroke-width="1.8"/>
<line x1="99" y1="652.5" x2="109" y2="652.5" stroke="#ff8a1c" stroke-width="1.8"/>
<circle cx="104" cy="639.7" r="4.5" fill="#ff8a1c" stroke="none" stroke-width="1"/>
<circle cx="103" cy="638.5" r="3" fill="url(#ballw)" stroke="none" stroke-width="1"/>
<line x1="139.5" y1="621.8" x2="139.5" y2="653.3" stroke="#bdbd1c" stroke-width="1.6"/>
<line x1="134.5" y1="621.8" x2="144.5" y2="621.8" stroke="#bdbd1c" stroke-width="1.8"/>
<line x1="134.5" y1="653.3" x2="144.5" y2="653.3" stroke="#bdbd1c" stroke-width="1.8"/>
<circle cx="139.5" cy="637.2" r="4.5" fill="#bdbd1c" stroke="none" stroke-width="1"/>
<circle cx="138.5" cy="636" r="3" fill="url(#ballw)" stroke="none" stroke-width="1"/>
<line x1="175.6" y1="608" x2="175.6" y2="668.6" stroke="#158c15" stroke-width="1.6"/>
<line x1="170.6" y1="608" x2="180.6" y2="608" stroke="#158c15" stroke-width="1.8"/>
<line x1="170.6" y1="668.6" x2="180.6" y2="668.6" stroke="#158c15" stroke-width="1.8"/>
<circle cx="175.6" cy="638.4" r="4.5" fill="#158c15" stroke="none" stroke-width="1"/>
<circle cx="174.6" cy="637.2" r="3" fill="url(#ballw)" stroke="none" stroke-width="1"/>
<line x1="216.8" y1="627" x2="216.8" y2="649.4" stroke="#178585" stroke-width="1.6"/>
<line x1="211.8" y1="627" x2="221.8" y2="627" stroke="#178585" stroke-width="1.8"/>
<line x1="211.8" y1="649.4" x2="221.8" y2="649.4" stroke="#178585" stroke-width="1.8"/>
<circle cx="216.8" cy="638.4" r="4.5" fill="#178585" stroke="none" stroke-width="1"/>
<circle cx="215.8" cy="637.2" r="3" fill="url(#ballw)" stroke="none" stroke-width="1"/>
<line x1="252.3" y1="631.5" x2="252.3" y2="647.4" stroke="#1515f5" stroke-width="1.6"/>
<line x1="247.3" y1="631.5" x2="257.3" y2="631.5" stroke="#1515f5" stroke-width="1.8"/>
<line x1="247.3" y1="647.4" x2="257.3" y2="647.4" stroke="#1515f5" stroke-width="1.8"/>
<circle cx="252.3" cy="639.2" r="4.5" fill="#1515f5" stroke="none" stroke-width="1"/>
<circle cx="251.3" cy="638" r="3" fill="url(#ballw)" stroke="none" stroke-width="1"/>
<line x1="287.8" y1="612.4" x2="287.8" y2="644.3" stroke="#9535ee" stroke-width="1.6"/>
<line x1="282.8" y1="612.4" x2="292.8" y2="612.4" stroke="#9535ee" stroke-width="1.8"/>
<line x1="282.8" y1="644.3" x2="292.8" y2="644.3" stroke="#9535ee" stroke-width="1.8"/>
<circle cx="287.8" cy="628.2" r="4.5" fill="#9535ee" stroke="none" stroke-width="1"/>
<circle cx="286.8" cy="627" r="3" fill="url(#ballw)" stroke="none" stroke-width="1"/>
<line x1="319" y1="614.4" x2="319" y2="647.4" stroke="#111" stroke-width="1.6"/>
<line x1="314" y1="614.4" x2="324" y2="614.4" stroke="#111" stroke-width="1.8"/>
<line x1="314" y1="647.4" x2="324" y2="647.4" stroke="#111" stroke-width="1.8"/>
<circle cx="319" cy="631" r="4.5" fill="#111" stroke="none" stroke-width="1"/>
<circle cx="318" cy="629.8" r="3" fill="url(#ballw)" stroke="none" stroke-width="1"/>
<text x="360" y="496" font-size="18.5" text-anchor="start" fill="#000" stroke="#000" font-weight="bold">f</text>
<rect x="395.9" y="581.7" width="38.9" height="111.7" fill="#fbe6d9"/>
<line x1="434.8" y1="581.7" x2="434.8" y2="693.4" stroke="#8b4513" stroke-width="1.6" stroke-dasharray="4,2.5"/>
<line x1="395.9" y1="490" x2="660.8" y2="490" stroke="#777" stroke-width="1"/>
<line x1="395.9" y1="693.4" x2="660.8" y2="693.4" stroke="#333" stroke-width="1"/>
<line x1="395.9" y1="490" x2="395.9" y2="693.4" stroke="#333" stroke-width="1"/>
<line x1="660.8" y1="490" x2="660.8" y2="693.4" stroke="#777" stroke-width="1"/>
<line x1="410" y1="693.4" x2="410" y2="689.4" stroke="#333" stroke-width="1"/>
<line x1="410" y1="490" x2="410" y2="494" stroke="#777" stroke-width="1"/>
<text x="410" y="709.62" font-size="12" text-anchor="middle" fill="#111" stroke="#111">3</text>
<line x1="424.8" y1="693.4" x2="424.8" y2="691.4" stroke="#333" stroke-width="1"/>
<line x1="424.8" y1="490" x2="424.8" y2="492" stroke="#777" stroke-width="1"/>
<line x1="439.6" y1="693.4" x2="439.6" y2="689.4" stroke="#333" stroke-width="1"/>
<line x1="439.6" y1="490" x2="439.6" y2="494" stroke="#777" stroke-width="1"/>
<text x="439.6" y="709.62" font-size="12" text-anchor="middle" fill="#111" stroke="#111">4</text>
<line x1="454.4" y1="693.4" x2="454.4" y2="691.4" stroke="#333" stroke-width="1"/>
<line x1="454.4" y1="490" x2="454.4" y2="492" stroke="#777" stroke-width="1"/>
<line x1="469.2" y1="693.4" x2="469.2" y2="689.4" stroke="#333" stroke-width="1"/>
<line x1="469.2" y1="490" x2="469.2" y2="494" stroke="#777" stroke-width="1"/>
<text x="469.2" y="709.62" font-size="12" text-anchor="middle" fill="#111" stroke="#111">5</text>
<line x1="484" y1="693.4" x2="484" y2="691.4" stroke="#333" stroke-width="1"/>
<line x1="484" y1="490" x2="484" y2="492" stroke="#777" stroke-width="1"/>
<line x1="498.8" y1="693.4" x2="498.8" y2="689.4" stroke="#333" stroke-width="1"/>
<line x1="498.8" y1="490" x2="498.8" y2="494" stroke="#777" stroke-width="1"/>
<text x="498.8" y="709.62" font-size="12" text-anchor="middle" fill="#111" stroke="#111">6</text>
<line x1="513.6" y1="693.4" x2="513.6" y2="691.4" stroke="#333" stroke-width="1"/>
<line x1="513.6" y1="490" x2="513.6" y2="492" stroke="#777" stroke-width="1"/>
<line x1="528.4" y1="693.4" x2="528.4" y2="689.4" stroke="#333" stroke-width="1"/>
<line x1="528.4" y1="490" x2="528.4" y2="494" stroke="#777" stroke-width="1"/>
<text x="528.4" y="709.62" font-size="12" text-anchor="middle" fill="#111" stroke="#111">7</text>
<line x1="543.2" y1="693.4" x2="543.2" y2="691.4" stroke="#333" stroke-width="1"/>
<line x1="543.2" y1="490" x2="543.2" y2="492" stroke="#777" stroke-width="1"/>
<line x1="558" y1="693.4" x2="558" y2="689.4" stroke="#333" stroke-width="1"/>
<line x1="558" y1="490" x2="558" y2="494" stroke="#777" stroke-width="1"/>
<text x="558" y="709.62" font-size="12" text-anchor="middle" fill="#111" stroke="#111">8</text>
<line x1="572.8" y1="693.4" x2="572.8" y2="691.4" stroke="#333" stroke-width="1"/>
<line x1="572.8" y1="490" x2="572.8" y2="492" stroke="#777" stroke-width="1"/>
<line x1="587.6" y1="693.4" x2="587.6" y2="689.4" stroke="#333" stroke-width="1"/>
<line x1="587.6" y1="490" x2="587.6" y2="494" stroke="#777" stroke-width="1"/>
<text x="587.6" y="709.62" font-size="12" text-anchor="middle" fill="#111" stroke="#111">9</text>
<line x1="602.4" y1="693.4" x2="602.4" y2="691.4" stroke="#333" stroke-width="1"/>
<line x1="602.4" y1="490" x2="602.4" y2="492" stroke="#777" stroke-width="1"/>
<line x1="617.2" y1="693.4" x2="617.2" y2="689.4" stroke="#333" stroke-width="1"/>
<line x1="617.2" y1="490" x2="617.2" y2="494" stroke="#777" stroke-width="1"/>
<text x="617.2" y="709.62" font-size="12" text-anchor="middle" fill="#111" stroke="#111">10</text>
<line x1="632" y1="693.4" x2="632" y2="691.4" stroke="#333" stroke-width="1"/>
<line x1="632" y1="490" x2="632" y2="492" stroke="#777" stroke-width="1"/>
<line x1="646.8" y1="693.4" x2="646.8" y2="689.4" stroke="#333" stroke-width="1"/>
<line x1="646.8" y1="490" x2="646.8" y2="494" stroke="#777" stroke-width="1"/>
<text x="646.8" y="709.62" font-size="12" text-anchor="middle" fill="#111" stroke="#111">11</text>
<line x1="395.9" y1="672.2" x2="399.9" y2="672.2" stroke="#333" stroke-width="1"/>
<line x1="656.8" y1="672.2" x2="660.8" y2="672.2" stroke="#777" stroke-width="1"/>
<text x="392.2" y="676.52" font-size="12" text-anchor="end" fill="#111" stroke="#111">0.2</text>
<line x1="395.9" y1="650.7" x2="397.9" y2="650.7" stroke="#333" stroke-width="1"/>
<line x1="658.8" y1="650.7" x2="660.8" y2="650.7" stroke="#777" stroke-width="1"/>
<line x1="395.9" y1="629.2" x2="399.9" y2="629.2" stroke="#333" stroke-width="1"/>
<line x1="656.8" y1="629.2" x2="660.8" y2="629.2" stroke="#777" stroke-width="1"/>
<text x="392.2" y="633.52" font-size="12" text-anchor="end" fill="#111" stroke="#111">0.4</text>
<line x1="395.9" y1="607.7" x2="397.9" y2="607.7" stroke="#333" stroke-width="1"/>
<line x1="658.8" y1="607.7" x2="660.8" y2="607.7" stroke="#777" stroke-width="1"/>
<line x1="395.9" y1="586.2" x2="399.9" y2="586.2" stroke="#333" stroke-width="1"/>
<line x1="656.8" y1="586.2" x2="660.8" y2="586.2" stroke="#777" stroke-width="1"/>
<text x="392.2" y="590.52" font-size="12" text-anchor="end" fill="#111" stroke="#111">0.6</text>
<line x1="395.9" y1="564.7" x2="397.9" y2="564.7" stroke="#333" stroke-width="1"/>
<line x1="658.8" y1="564.7" x2="660.8" y2="564.7" stroke="#777" stroke-width="1"/>
<line x1="395.9" y1="543.2" x2="399.9" y2="543.2" stroke="#333" stroke-width="1"/>
<line x1="656.8" y1="543.2" x2="660.8" y2="543.2" stroke="#777" stroke-width="1"/>
<text x="392.2" y="547.52" font-size="12" text-anchor="end" fill="#111" stroke="#111">0.8</text>
<line x1="395.9" y1="521.7" x2="397.9" y2="521.7" stroke="#333" stroke-width="1"/>
<line x1="658.8" y1="521.7" x2="660.8" y2="521.7" stroke="#777" stroke-width="1"/>
<line x1="395.9" y1="500.2" x2="399.9" y2="500.2" stroke="#333" stroke-width="1"/>
<line x1="656.8" y1="500.2" x2="660.8" y2="500.2" stroke="#777" stroke-width="1"/>
<text x="392.2" y="504.52" font-size="12" text-anchor="end" fill="#111" stroke="#111">1.0</text>
<circle cx="415.62" cy="596.52" r="3.6" fill="none" stroke="#000" stroke-width="2.1"/>
<circle cx="418.88" cy="625.98" r="3.6" fill="none" stroke="#000" stroke-width="2.1"/>
<circle cx="424.39" cy="650.7" r="3.6" fill="none" stroke="#000" stroke-width="2.1"/>
<circle cx="430.72" cy="673.71" r="3.6" fill="none" stroke="#000" stroke-width="2.1"/>
<circle cx="436.34" cy="674.78" r="3.6" fill="none" stroke="#000" stroke-width="2.1"/>
<circle cx="442.56" cy="666.83" r="3.6" fill="none" stroke="#000" stroke-width="2.1"/>
<circle cx="448.18" cy="660.81" r="3.6" fill="none" stroke="#000" stroke-width="2.1"/>
<circle cx="453.81" cy="656.5" r="3.6" fill="none" stroke="#000" stroke-width="2.1"/>
<circle cx="459.14" cy="652.85" r="3.6" fill="none" stroke="#000" stroke-width="2.1"/>
<circle cx="465.94" cy="648.55" r="3.6" fill="none" stroke="#000" stroke-width="2.1"/>
<circle cx="471.57" cy="642.75" r="3.6" fill="none" stroke="#000" stroke-width="2.1"/>
<circle cx="477.78" cy="636.73" r="3.6" fill="none" stroke="#000" stroke-width="2.1"/>
<circle cx="488.44" cy="627.05" r="3.6" fill="none" stroke="#000" stroke-width="2.1"/>
<circle cx="500.58" cy="618.02" r="3.6" fill="none" stroke="#000" stroke-width="2.1"/>
<circle cx="513.6" cy="604.91" r="3.6" fill="none" stroke="#000" stroke-width="2.1"/>
<circle cx="526.03" cy="593.73" r="3.6" fill="none" stroke="#000" stroke-width="2.1"/>
<circle cx="539.06" cy="582.98" r="3.6" fill="none" stroke="#000" stroke-width="2.1"/>
<circle cx="545.57" cy="577.17" r="3.6" fill="none" stroke="#000" stroke-width="2.1"/>
<circle cx="557.41" cy="564.7" r="3.6" fill="none" stroke="#000" stroke-width="2.1"/>
<circle cx="571.91" cy="554.81" r="3.6" fill="none" stroke="#000" stroke-width="2.1"/>
<circle cx="579.9" cy="550.3" r="3.6" fill="none" stroke="#000" stroke-width="2.1"/>
<circle cx="606.84" cy="537.83" r="3.6" fill="none" stroke="#000" stroke-width="2.1"/>
<circle cx="618.38" cy="531.81" r="3.6" fill="none" stroke="#000" stroke-width="2.1"/>
<circle cx="631.11" cy="526" r="3.6" fill="none" stroke="#000" stroke-width="2.1"/>
<circle cx="642.95" cy="519.55" r="3.6" fill="none" stroke="#000" stroke-width="2.1"/>
<circle cx="653.02" cy="515.25" r="3.6" fill="none" stroke="#000" stroke-width="2.1"/>
<polyline points="448.48,660.42 451.92,657.97 455.35,655.45 458.79,652.87 462.23,650.22 465.66,647.51 469.1,644.73 472.54,641.91 475.97,639.03 479.41,636.09 482.85,633.12 486.28,630.1 489.72,627.04 493.16,623.95 496.59,620.84 500.03,617.7 503.47,614.55 506.9,611.38 510.34,608.21 513.78,605.04 517.21,601.87 520.65,598.71 524.09,595.57 527.52,592.45 530.96,589.36 534.4,586.3 537.83,583.28 541.27,580.29 544.71,577.36 548.14,574.47 551.58,571.63 555.01,568.85 558.45,566.13 561.89,563.47 565.32,560.88 568.76,558.35 572.2,555.89 575.63,553.5 579.07,551.18 582.51,548.94 585.94,546.76 589.38,544.66 592.82,542.63 596.25,540.67 599.69,538.78 603.13,536.97 606.56,535.22 610,533.54 613.44,531.93 616.87,530.39 620.31,528.91 623.75,527.49 627.18,526.14 630.62,524.84 634.06,523.6 637.49,522.42 640.93,521.3 644.37,520.22 647.8,519.2 651.24,518.23" fill="none" stroke="#1cd21c" stroke-width="2.2"/>
<circle cx="421.4" cy="508.5" r="3.4" fill="none" stroke="#000" stroke-width="2"/>
<text x="440.5" y="512.5" font-size="11.1" text-anchor="start" fill="#111" stroke="#111">Experiment</text>
<line x1="409" y1="522.2" x2="433.8" y2="522.2" stroke="#1ccc1c" stroke-width="2"/>
<text x="440.5" y="526.27" font-size="11.3" text-anchor="start" fill="#1cc41c" stroke="#1cc41c">Arrhenius Fitting</text>
<text x="415.7" y="541.81" font-size="11.5" font-weight="bold" fill="#f0141e" stroke="#f0141e">E<tspan font-size="8" dy="3">b</tspan><tspan dy="-3"> = 43.8 ± 0.43 meV</tspan></text>
<text x="415.7" y="559.2" font-size="11.1" fill="#111" stroke="#111">R<tspan font-size="7.5" dy="-4">2</tspan><tspan dy="4"> = 0.999</tspan></text>
<path d="M421.9,588 C421,580 428,574 437,574.5" fill="none" stroke="#8b4513" stroke-width="2"/>
<polygon points="441.5,574.6 435.5,570.5 436.5,578.5" fill="#8b4513"/>
<text x="444.8" y="580.47" font-size="10.2" text-anchor="start" fill="#8b4513" stroke="#8b4513">Anti-quenching</text>
<text x="444.8" y="592.84" font-size="10.1" text-anchor="start" fill="#8b4513" stroke="#8b4513">domain</text>
<text x="528.3" y="730.43" font-size="16.2" text-anchor="middle" fill="#111" stroke="#111">1/T&#160;&#160;(10<tspan font-size="10.5" dy="-5.5">−3</tspan><tspan dy="5.5">K</tspan><tspan font-size="10.5" dy="-5.5">−1</tspan><tspan dy="5.5">)</tspan></text>
<text x="367" y="591" font-size="12.1" text-anchor="middle" fill="#111" stroke="#111" transform="rotate(-90 367 591)">Norm. Integrated Intensity</text>
<defs><linearGradient id="ins1" x1="0" x2="1" y1="0" y2="0"><stop offset="0" stop-color="#3f5d52"/><stop offset="0.6" stop-color="#3d5a54"/><stop offset="1" stop-color="#55607a"/></linearGradient><clipPath id="insclip"><rect x="547.6" y="605.1" width="94.5" height="73.7"/></clipPath><filter id="blur1"><feGaussianBlur stdDeviation="1.3"/></filter><filter id="blur05"><feGaussianBlur stdDeviation="0.6"/></filter></defs>
<rect x="547.6" y="605.1" width="94.5" height="73.7" fill="url(#ins1)"/>
<g clip-path="url(#insclip)"><g filter="url(#blur1)">
<circle cx="597" cy="609.5" r="6.5" fill="#d8c040" stroke="none" stroke-width="1" opacity="0.85"/>
<circle cx="557" cy="605.5" r="3" fill="#c8b040" stroke="none" stroke-width="1" opacity="0.85"/>
<circle cx="560" cy="624" r="5.5" fill="#58a848" stroke="none" stroke-width="1" opacity="0.85"/>
<circle cx="625" cy="612" r="5" fill="#60b050" stroke="none" stroke-width="1" opacity="0.85"/>
<circle cx="596" cy="645" r="8" fill="#88c050" stroke="none" stroke-width="1" opacity="0.85"/>
<circle cx="620" cy="632" r="4.5" fill="#50a050" stroke="none" stroke-width="1" opacity="0.85"/>
<circle cx="608" cy="665" r="6" fill="#78b850" stroke="none" stroke-width="1" opacity="0.85"/>
<circle cx="557" cy="670" r="6.5" fill="#90b050" stroke="none" stroke-width="1" opacity="0.85"/>
<circle cx="634" cy="620" r="6" fill="#6a78a0" stroke="none" stroke-width="1" opacity="0.85"/>
<circle cx="630" cy="650" r="7" fill="#607090" stroke="none" stroke-width="1" opacity="0.85"/>
<circle cx="576" cy="616" r="4" fill="#a8c0b8" stroke="none" stroke-width="1" opacity="0.85"/>
<circle cx="608" cy="623" r="4" fill="#b8c8c8" stroke="none" stroke-width="1" opacity="0.85"/>
<circle cx="627" cy="643" r="4" fill="#c0d0d0" stroke="none" stroke-width="1" opacity="0.85"/>
<circle cx="584" cy="640" r="3.5" fill="#90a890" stroke="none" stroke-width="1" opacity="0.85"/>
<circle cx="594" cy="663" r="3.5" fill="#b0c8c0" stroke="none" stroke-width="1" opacity="0.85"/>
<circle cx="638" cy="665" r="3.5" fill="#b8c8c8" stroke="none" stroke-width="1" opacity="0.85"/>
</g><g filter="url(#blur05)">
<circle cx="578.79" cy="617.56" r="1.25" fill="#c8d8d0" stroke="none" stroke-width="1" opacity="0.55"/>
<circle cx="624.56" cy="613.59" r="1.18" fill="#e0e8e0" stroke="none" stroke-width="1" opacity="0.55"/>
<circle cx="568.75" cy="613.02" r="1.02" fill="#a8c890" stroke="none" stroke-width="1" opacity="0.55"/>
<circle cx="557.35" cy="636.72" r="1.43" fill="#c8d8d0" stroke="none" stroke-width="1" opacity="0.55"/>
<circle cx="636.17" cy="651.14" r="1.18" fill="#c8d8d0" stroke="none" stroke-width="1" opacity="0.55"/>
<circle cx="602.09" cy="634.77" r="1.58" fill="#c8d8d0" stroke="none" stroke-width="1" opacity="0.55"/>
<circle cx="600.21" cy="616.32" r="1.02" fill="#e0e8e0" stroke="none" stroke-width="1" opacity="0.55"/>
<circle cx="559.84" cy="628.59" r="1.42" fill="#a8c890" stroke="none" stroke-width="1" opacity="0.55"/>
<circle cx="558.48" cy="646.98" r="0.79" fill="#c8d8d0" stroke="none" stroke-width="1" opacity="0.55"/>
<circle cx="599.39" cy="611.4" r="0.66" fill="#a8c890" stroke="none" stroke-width="1" opacity="0.55"/>
<circle cx="594.67" cy="644.22" r="1.38" fill="#98b888" stroke="none" stroke-width="1" opacity="0.55"/>
<circle cx="602.87" cy="638.72" r="0.9" fill="#a8c890" stroke="none" stroke-width="1" opacity="0.55"/>
<circle cx="613.31" cy="624.09" r="1.17" fill="#e0e8e0" stroke="none" stroke-width="1" opacity="0.55"/>
<circle cx="594.55" cy="631.04" r="1.05" fill="#e0e8e0" stroke="none" stroke-width="1" opacity="0.55"/>
<circle cx="639.18" cy="615.26" r="1.02" fill="#d8e0e0" stroke="none" stroke-width="1" opacity="0.55"/>
<circle cx="562.98" cy="641.23" r="0.64" fill="#c8d8d0" stroke="none" stroke-width="1" opacity="0.55"/>
<circle cx="619.34" cy="647.11" r="1.48" fill="#d8e0e0" stroke="none" stroke-width="1" opacity="0.55"/>
<circle cx="580.29" cy="631.51" r="1.1" fill="#98b888" stroke="none" stroke-width="1" opacity="0.55"/>
<circle cx="555.33" cy="613.55" r="0.87" fill="#c8d8d0" stroke="none" stroke-width="1" opacity="0.55"/>
<circle cx="554.58" cy="656.1" r="1.25" fill="#98b888" stroke="none" stroke-width="1" opacity="0.55"/>
<circle cx="575.18" cy="634.01" r="1.27" fill="#c8d8d0" stroke="none" stroke-width="1" opacity="0.55"/>
<circle cx="635.54" cy="631.88" r="1.21" fill="#98b888" stroke="none" stroke-width="1" opacity="0.55"/>
<circle cx="554.42" cy="660.78" r="0.73" fill="#a8c890" stroke="none" stroke-width="1" opacity="0.55"/>
<circle cx="585.61" cy="671.18" r="1.1" fill="#a8c890" stroke="none" stroke-width="1" opacity="0.55"/>
<circle cx="590.33" cy="645.46" r="1.48" fill="#98b888" stroke="none" stroke-width="1" opacity="0.55"/>
<circle cx="628.49" cy="626.49" r="1.02" fill="#d8e0e0" stroke="none" stroke-width="1" opacity="0.55"/>
<circle cx="611.81" cy="633.63" r="0.83" fill="#c8d8d0" stroke="none" stroke-width="1" opacity="0.55"/>
<circle cx="565.21" cy="623.24" r="0.83" fill="#98b888" stroke="none" stroke-width="1" opacity="0.55"/>
<circle cx="625.46" cy="619.76" r="0.88" fill="#a8c890" stroke="none" stroke-width="1" opacity="0.55"/>
<circle cx="587.54" cy="632.85" r="1.17" fill="#a8c890" stroke="none" stroke-width="1" opacity="0.55"/>
<circle cx="612.53" cy="643.08" r="1.22" fill="#c8d8d0" stroke="none" stroke-width="1" opacity="0.55"/>
<circle cx="591.01" cy="667.97" r="1.55" fill="#e0e8e0" stroke="none" stroke-width="1" opacity="0.55"/>
<circle cx="585.1" cy="634.93" r="0.7" fill="#98b888" stroke="none" stroke-width="1" opacity="0.55"/>
<circle cx="554.73" cy="611.71" r="0.81" fill="#a8c890" stroke="none" stroke-width="1" opacity="0.55"/>
<circle cx="559.11" cy="649.05" r="0.7" fill="#e0e8e0" stroke="none" stroke-width="1" opacity="0.55"/>
<circle cx="562.92" cy="614.1" r="0.96" fill="#c8d8d0" stroke="none" stroke-width="1" opacity="0.55"/>
<circle cx="555.47" cy="621.56" r="0.98" fill="#d8e0e0" stroke="none" stroke-width="1" opacity="0.55"/>
<circle cx="636.9" cy="649.16" r="1.07" fill="#c8d8d0" stroke="none" stroke-width="1" opacity="0.55"/>
<circle cx="627.1" cy="676.52" r="1.07" fill="#98b888" stroke="none" stroke-width="1" opacity="0.55"/>
<circle cx="577.69" cy="617.09" r="1.35" fill="#d8e0e0" stroke="none" stroke-width="1" opacity="0.55"/>
<circle cx="593.03" cy="655.44" r="1.12" fill="#a8c890" stroke="none" stroke-width="1" opacity="0.55"/>
<circle cx="636.49" cy="643.98" r="0.75" fill="#e0e8e0" stroke="none" stroke-width="1" opacity="0.55"/>
<circle cx="633.1" cy="660.07" r="0.9" fill="#c8d8d0" stroke="none" stroke-width="1" opacity="0.55"/>
<circle cx="613.05" cy="625.28" r="0.97" fill="#a8c890" stroke="none" stroke-width="1" opacity="0.55"/>
<circle cx="581.72" cy="622.6" r="1.14" fill="#e0e8e0" stroke="none" stroke-width="1" opacity="0.55"/>
<circle cx="579.33" cy="622.61" r="1.41" fill="#a8c890" stroke="none" stroke-width="1" opacity="0.55"/>
<circle cx="623.16" cy="664.28" r="1.34" fill="#a8c890" stroke="none" stroke-width="1" opacity="0.55"/>
<circle cx="567.39" cy="641.49" r="1.33" fill="#c8d8d0" stroke="none" stroke-width="1" opacity="0.55"/>
<circle cx="621.69" cy="640.06" r="0.79" fill="#e0e8e0" stroke="none" stroke-width="1" opacity="0.55"/>
<circle cx="637" cy="638.31" r="1.54" fill="#d8e0e0" stroke="none" stroke-width="1" opacity="0.55"/>
<circle cx="636.86" cy="632.52" r="0.82" fill="#a8c890" stroke="none" stroke-width="1" opacity="0.55"/>
<circle cx="592.25" cy="630.64" r="1.08" fill="#e0e8e0" stroke="none" stroke-width="1" opacity="0.55"/>
<circle cx="626.32" cy="640.56" r="1.25" fill="#c8d8d0" stroke="none" stroke-width="1" opacity="0.55"/>
<circle cx="625.79" cy="615.39" r="0.99" fill="#a8c890" stroke="none" stroke-width="1" opacity="0.55"/>
<circle cx="592.98" cy="619.5" r="1.39" fill="#d8e0e0" stroke="none" stroke-width="1" opacity="0.55"/>
<circle cx="556.98" cy="673.23" r="1.32" fill="#98b888" stroke="none" stroke-width="1" opacity="0.55"/>
<circle cx="585.93" cy="673.28" r="1.32" fill="#a8c890" stroke="none" stroke-width="1" opacity="0.55"/>
<circle cx="640.37" cy="608.93" r="1.19" fill="#98b888" stroke="none" stroke-width="1" opacity="0.55"/>
<circle cx="623.2" cy="617.23" r="1.43" fill="#98b888" stroke="none" stroke-width="1" opacity="0.55"/>
<circle cx="609.47" cy="631.53" r="1.15" fill="#a8c890" stroke="none" stroke-width="1" opacity="0.55"/>
<circle cx="550.97" cy="662.95" r="1.33" fill="#c8d8d0" stroke="none" stroke-width="1" opacity="0.55"/>
<circle cx="597.45" cy="672.35" r="1.03" fill="#a8c890" stroke="none" stroke-width="1" opacity="0.55"/>
<circle cx="625.01" cy="621.77" r="0.85" fill="#d8e0e0" stroke="none" stroke-width="1" opacity="0.55"/>
<circle cx="595.11" cy="660.46" r="0.93" fill="#e0e8e0" stroke="none" stroke-width="1" opacity="0.55"/>
<circle cx="587.55" cy="616.18" r="1.51" fill="#d8e0e0" stroke="none" stroke-width="1" opacity="0.55"/>
<circle cx="631.59" cy="653.37" r="1.42" fill="#e0e8e0" stroke="none" stroke-width="1" opacity="0.55"/>
<circle cx="587.7" cy="671.24" r="1.1" fill="#e0e8e0" stroke="none" stroke-width="1" opacity="0.55"/>
<circle cx="562.97" cy="642.74" r="1.47" fill="#a8c890" stroke="none" stroke-width="1" opacity="0.55"/>
<circle cx="604.99" cy="661.32" r="0.75" fill="#a8c890" stroke="none" stroke-width="1" opacity="0.55"/>
<circle cx="592.56" cy="657.76" r="1.16" fill="#d8e0e0" stroke="none" stroke-width="1" opacity="0.55"/>
</g></g>
<rect x="594.5" y="633.3" width="3.2" height="21.4" fill="#9552c8"/>
<rect x="585.1" y="642.3" width="21.9" height="3.2" fill="#9552c8"/>
<rect x="608" y="671" width="29" height="2.7" fill="#ffffff"/></svg></body></html>
